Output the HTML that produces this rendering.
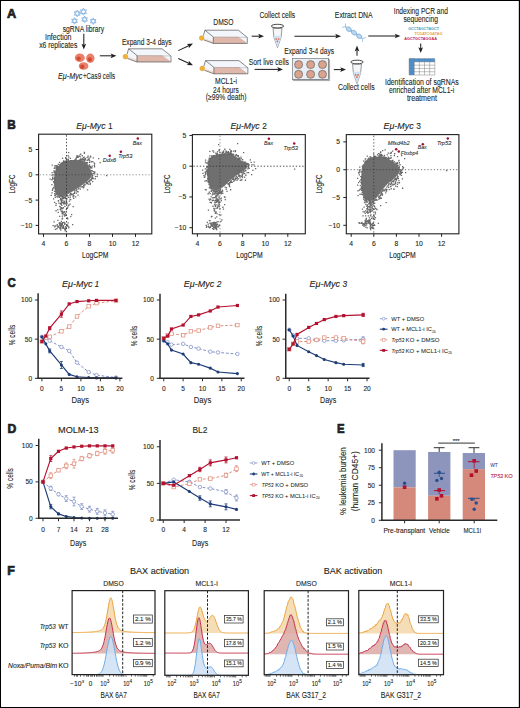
<!DOCTYPE html>
<html><head><meta charset="utf-8"><style>
html,body{margin:0;padding:0;background:#fff;}
svg{display:block;}
text{font-family:"Liberation Sans",sans-serif;}
</style></head><body>
<svg width="520" height="708" viewBox="0 0 520 708">
<rect width="520" height="708" fill="#fff"/>
<g fill="#231f20" font-family="Liberation Sans, sans-serif">
<rect x="0.5" y="0.5" width="519" height="707" fill="none" stroke="#000" stroke-width="1"/>
<rect x="518.7" y="0" width="0.3" height="708" fill="#000" fill-opacity="0.6"/>
<text x="7.00" y="17.60" font-size="12.2" font-weight="bold" textLength="9.20" lengthAdjust="spacingAndGlyphs" stroke="#231f20" stroke-width="0.7">A</text>
<path d="M77.20,10.10 L80.14,15.20 L74.26,15.20 ZM80.14,11.80 L77.20,16.90 L74.26,11.80 Z" fill="none" stroke="#74a9dd" stroke-width="0.7" />
<path d="M83.40,8.10 L86.52,13.50 L80.28,13.50 ZM86.52,9.90 L83.40,15.30 L80.28,9.90 Z" fill="none" stroke="#74a9dd" stroke-width="0.7" />
<path d="M74.50,17.60 L77.36,22.55 L71.64,22.55 ZM77.36,19.25 L74.50,24.20 L71.64,19.25 Z" fill="none" stroke="#74a9dd" stroke-width="0.7" />
<path d="M84.60,16.10 L87.46,21.05 L81.74,21.05 ZM87.46,17.75 L84.60,22.70 L81.74,17.75 Z" fill="none" stroke="#74a9dd" stroke-width="0.7" />
<path d="M93.20,17.90 L96.06,22.85 L90.34,22.85 ZM96.06,19.55 L93.20,24.50 L90.34,19.55 Z" fill="none" stroke="#74a9dd" stroke-width="0.7" />
<text x="62.70" y="31.70" font-size="8.3" textLength="41.50" lengthAdjust="spacingAndGlyphs" stroke="#231f20" stroke-width="0.1">sgRNA library</text>
<text x="45.00" y="39.80" font-size="8.3" textLength="26.50" lengthAdjust="spacingAndGlyphs" stroke="#231f20" stroke-width="0.1">Infection</text>
<text x="39.20" y="47.70" font-size="8.3" textLength="38.10" lengthAdjust="spacingAndGlyphs" stroke="#231f20" stroke-width="0.1">x6 replicates</text>
<line x1="83.80" y1="33.80" x2="83.80" y2="45.30" stroke="#231f20" stroke-width="1.05" />
<path d="M83.80,49.50 L81.45,43.70 L83.80,45.00 L86.15,43.70 Z" fill="#231f20" stroke="none" stroke-width="1" />
<ellipse cx="79.8" cy="57.7" rx="5.0" ry="4.3" fill="#e8806a"/>
<circle cx="78.6" cy="58.6" r="2.2" fill="#d44c36"/>
<ellipse cx="90.3" cy="58.2" rx="4.2" ry="4.7" fill="#e8806a"/>
<circle cx="89.8" cy="59.4" r="2.2" fill="#d44c36"/>
<ellipse cx="83.6" cy="66.0" rx="4.8" ry="3.8" fill="#e8806a"/>
<circle cx="82.2" cy="66.8" r="2.2" fill="#d44c36"/>
<line x1="99.80" y1="55.80" x2="112.20" y2="55.80" stroke="#231f20" stroke-width="1.05" />
<path d="M116.40,55.80 L110.60,58.15 L111.90,55.80 L110.60,53.45 Z" fill="#231f20" stroke="none" stroke-width="1" />
<text x="58.00" y="78.50" font-size="8.3" font-style="italic" textLength="24.50" lengthAdjust="spacingAndGlyphs" stroke="#231f20" stroke-width="0.1">Eμ-Myc</text>
<text x="83.00" y="78.50" font-size="8.3" textLength="32.20" lengthAdjust="spacingAndGlyphs" stroke="#231f20" stroke-width="0.1">+Cas9 cells</text>
<text x="121.90" y="44.60" font-size="8.3" textLength="49.80" lengthAdjust="spacingAndGlyphs" stroke="#231f20" stroke-width="0.1">Expand 3-4 days</text>
<path d="M128.60,48.80 L162.00,48.80 L171.00,56.00 L171.00,62.00 L137.00,62.00 L127.50,58.50 L127.00,54.20 Z" fill="#f3f6fb" stroke="none" stroke-width="1" />
<path d="M137.00,55.50 L162.00,55.30 L169.50,60.60 L169.50,62.00 L137.00,62.00 Z" fill="#dfb8ab" stroke="none" stroke-width="1" />
<path d="M129.40,57.30 L137.00,59.70 L137.00,62.00 L127.50,58.50 Z" fill="#efdcd5" stroke="none" stroke-width="1" />
<path d="M127.00,54.20 L128.60,48.80 L162.00,48.80 L171.00,56.00 L171.00,62.00 L137.00,62.00 L127.50,58.50" fill="none" stroke="#3c3c3c" stroke-width="0.6" />
<path d="M128.60,48.80 L137.00,55.50 L137.00,62.00" fill="none" stroke="#3c3c3c" stroke-width="0.6" />
<path d="M137.00,55.50 L171.00,56.00" fill="none" stroke="#8a8a8a" stroke-width="0.4" />
<circle cx="125.40" cy="56.70" r="2.4" fill="#f2b233" stroke="#c88a1a" stroke-width="0.4"/>
<line x1="178.30" y1="50.60" x2="189.21" y2="45.41" stroke="#231f20" stroke-width="1.05" />
<path d="M193.00,43.60 L188.77,48.22 L188.94,45.53 L186.75,43.97 Z" fill="#231f20" stroke="none" stroke-width="1" />
<line x1="178.30" y1="58.40" x2="189.20" y2="63.52" stroke="#231f20" stroke-width="1.05" />
<path d="M193.00,65.30 L186.75,64.96 L188.93,63.39 L188.75,60.71 Z" fill="#231f20" stroke="none" stroke-width="1" />
<text x="213.30" y="24.60" font-size="8.3" textLength="20.20" lengthAdjust="spacingAndGlyphs" stroke="#231f20" stroke-width="0.1">DMSO</text>
<path d="M204.90,30.20 L238.30,30.20 L247.30,37.40 L247.30,43.40 L213.30,43.40 L203.80,39.90 L203.30,35.60 Z" fill="#f3f6fb" stroke="none" stroke-width="1" />
<path d="M213.30,36.90 L238.30,36.70 L245.80,42.00 L245.80,43.40 L213.30,43.40 Z" fill="#dfb8ab" stroke="none" stroke-width="1" />
<path d="M205.70,38.70 L213.30,41.10 L213.30,43.40 L203.80,39.90 Z" fill="#efdcd5" stroke="none" stroke-width="1" />
<path d="M203.30,35.60 L204.90,30.20 L238.30,30.20 L247.30,37.40 L247.30,43.40 L213.30,43.40 L203.80,39.90" fill="none" stroke="#3c3c3c" stroke-width="0.6" />
<path d="M204.90,30.20 L213.30,36.90 L213.30,43.40" fill="none" stroke="#3c3c3c" stroke-width="0.6" />
<path d="M213.30,36.90 L247.30,37.40" fill="none" stroke="#8a8a8a" stroke-width="0.4" />
<circle cx="201.70" cy="38.10" r="2.4" fill="#f2b233" stroke="#c88a1a" stroke-width="0.4"/>
<text x="215.00" y="84.40" font-size="8.3" textLength="22.00" lengthAdjust="spacingAndGlyphs" stroke="#231f20" stroke-width="0.1">MCL1-i</text>
<text x="213.00" y="92.50" font-size="8.3" textLength="25.80" lengthAdjust="spacingAndGlyphs" stroke="#231f20" stroke-width="0.1">24 hours</text>
<text x="205.80" y="100.20" font-size="8.3" textLength="40.70" lengthAdjust="spacingAndGlyphs" stroke="#231f20" stroke-width="0.1">(≥99% death)</text>
<path d="M205.50,60.60 L238.90,60.60 L247.90,67.80 L247.90,73.80 L213.90,73.80 L204.40,70.30 L203.90,66.00 Z" fill="#f3f6fb" stroke="none" stroke-width="1" />
<path d="M213.90,67.30 L238.90,67.10 L246.40,72.40 L246.40,73.80 L213.90,73.80 Z" fill="#dfb8ab" stroke="none" stroke-width="1" />
<path d="M206.30,69.10 L213.90,71.50 L213.90,73.80 L204.40,70.30 Z" fill="#efdcd5" stroke="none" stroke-width="1" />
<path d="M203.90,66.00 L205.50,60.60 L238.90,60.60 L247.90,67.80 L247.90,73.80 L213.90,73.80 L204.40,70.30" fill="none" stroke="#3c3c3c" stroke-width="0.6" />
<path d="M205.50,60.60 L213.90,67.30 L213.90,73.80" fill="none" stroke="#3c3c3c" stroke-width="0.6" />
<path d="M213.90,67.30 L247.90,67.80" fill="none" stroke="#8a8a8a" stroke-width="0.4" />
<circle cx="202.30" cy="68.50" r="2.4" fill="#f2b233" stroke="#c88a1a" stroke-width="0.4"/>
<line x1="251.70" y1="36.20" x2="259.80" y2="36.20" stroke="#231f20" stroke-width="1.05" />
<path d="M264.00,36.20 L258.20,38.55 L259.50,36.20 L258.20,33.85 Z" fill="#231f20" stroke="none" stroke-width="1" />
<text x="248.80" y="64.60" font-size="8.3" textLength="40.00" lengthAdjust="spacingAndGlyphs" stroke="#231f20" stroke-width="0.1">Sort live cells</text>
<line x1="254.60" y1="69.40" x2="278.80" y2="69.40" stroke="#231f20" stroke-width="1.05" />
<path d="M283.00,69.40 L277.20,71.75 L278.50,69.40 L277.20,67.05 Z" fill="#231f20" stroke="none" stroke-width="1" />
<text x="259.40" y="17.60" font-size="8.3" textLength="35.80" lengthAdjust="spacingAndGlyphs" stroke="#231f20" stroke-width="0.1">Collect cells</text>
<path d="M273.00,28.30 L273.90,37.10 L277.50,47.60 L281.10,37.10 L282.00,28.30 Z" fill="#f4f6f8" stroke="#555" stroke-width="0.6" />
<path d="M273.70,35.80 L273.90,37.10 L277.50,47.40 L281.10,37.10 L281.30,35.80 Z" fill="#cfe3f6" stroke="none" stroke-width="1" />
<ellipse cx="277.50" cy="26.10" rx="6.2" ry="1.8" fill="#fff" stroke="#333" stroke-width="0.9"/>
<circle cx="276.10" cy="39.00" r="0.85" fill="#e8603c"/>
<circle cx="278.60" cy="39.00" r="0.85" fill="#e8603c"/>
<circle cx="277.40" cy="41.30" r="0.85" fill="#e8603c"/>
<line x1="294.40" y1="36.20" x2="336.80" y2="36.20" stroke="#231f20" stroke-width="1.05" />
<path d="M341.00,36.20 L335.20,38.55 L336.50,36.20 L335.20,33.85 Z" fill="#231f20" stroke="none" stroke-width="1" />
<text x="284.20" y="54.20" font-size="8.3" textLength="50.00" lengthAdjust="spacingAndGlyphs" stroke="#231f20" stroke-width="0.1">Expand 3-4 days</text>
<path d="M293.3,80.6 L329.6,80.6 L329.6,60.0 L328.3,58.4 L328.3,79.3 L292.4,79.3 Z" fill="#c9d3de" stroke="#666" stroke-width="0.5" />
<rect x="292.4" y="58.4" width="35.9" height="20.9" fill="#e8eef5" stroke="#666" stroke-width="0.6"/>
<circle cx="298.6" cy="64.6" r="4.0" fill="#d9a48d" stroke="#555" stroke-width="0.6"/>
<circle cx="298.6" cy="74.3" r="4.0" fill="#d9a48d" stroke="#555" stroke-width="0.6"/>
<circle cx="310.6" cy="64.6" r="4.0" fill="#d9a48d" stroke="#555" stroke-width="0.6"/>
<circle cx="310.6" cy="74.3" r="4.0" fill="#d9a48d" stroke="#555" stroke-width="0.6"/>
<circle cx="322.5" cy="64.6" r="4.0" fill="#d9a48d" stroke="#555" stroke-width="0.6"/>
<circle cx="322.5" cy="74.3" r="4.0" fill="#d9a48d" stroke="#555" stroke-width="0.6"/>
<line x1="333.80" y1="69.60" x2="341.80" y2="69.60" stroke="#231f20" stroke-width="1.05" />
<path d="M346.00,69.60 L340.20,71.95 L341.50,69.60 L340.20,67.25 Z" fill="#231f20" stroke="none" stroke-width="1" />
<path d="M352.50,64.20 L353.40,73.00 L357.00,83.50 L360.60,73.00 L361.50,64.20 Z" fill="#f4f6f8" stroke="#555" stroke-width="0.6" />
<path d="M353.20,71.70 L353.40,73.00 L357.00,83.30 L360.60,73.00 L360.80,71.70 Z" fill="#cfe3f6" stroke="none" stroke-width="1" />
<ellipse cx="357.00" cy="62.00" rx="6.2" ry="1.8" fill="#fff" stroke="#333" stroke-width="0.9"/>
<circle cx="355.60" cy="74.90" r="0.85" fill="#e8603c"/>
<circle cx="358.10" cy="74.90" r="0.85" fill="#e8603c"/>
<circle cx="356.90" cy="77.20" r="0.85" fill="#e8603c"/>
<text x="338.00" y="90.00" font-size="8.3" textLength="36.60" lengthAdjust="spacingAndGlyphs" stroke="#231f20" stroke-width="0.1">Collect cells</text>
<line x1="357.00" y1="55.80" x2="357.00" y2="49.80" stroke="#231f20" stroke-width="1.05" />
<path d="M357.00,45.60 L359.35,51.40 L357.00,50.10 L354.65,51.40 Z" fill="#231f20" stroke="none" stroke-width="1" />
<text x="334.80" y="17.70" font-size="8.3" textLength="37.90" lengthAdjust="spacingAndGlyphs" stroke="#231f20" stroke-width="0.1">Extract DNA</text>
<path d="M-3.25,0 Q0,-4.4 3.25,0 Q0,4.4 -3.25,0 Z" transform="translate(348.8 29.2) rotate(34)" fill="#bcd6ef" stroke="#6ea6da" stroke-width="0.7"/>
<path d="M-3.25,0 Q0,-4.4 3.25,0 Q0,4.4 -3.25,0 Z" transform="translate(354.0 32.7) rotate(34)" fill="#bcd6ef" stroke="#6ea6da" stroke-width="0.7"/>
<path d="M-3.25,0 Q0,-4.4 3.25,0 Q0,4.4 -3.25,0 Z" transform="translate(359.2 36.3) rotate(34)" fill="#bcd6ef" stroke="#6ea6da" stroke-width="0.7"/>
<line x1="345.50" y1="23.50" x2="345.50" y2="27.50" stroke="#6ea6da" stroke-width="0.6" />
<line x1="342.00" y1="27.50" x2="346.00" y2="26.30" stroke="#6ea6da" stroke-width="0.6" />
<line x1="362.60" y1="38.30" x2="362.60" y2="42.00" stroke="#6ea6da" stroke-width="0.6" />
<line x1="362.30" y1="38.60" x2="366.00" y2="37.50" stroke="#6ea6da" stroke-width="0.6" />
<line x1="368.30" y1="36.00" x2="396.30" y2="36.00" stroke="#231f20" stroke-width="1.05" />
<path d="M400.50,36.00 L394.70,38.35 L396.00,36.00 L394.70,33.65 Z" fill="#231f20" stroke="none" stroke-width="1" />
<text x="393.80" y="13.80" font-size="8.3" textLength="54.20" lengthAdjust="spacingAndGlyphs" stroke="#231f20" stroke-width="0.1">Indexing PCR and</text>
<text x="403.50" y="21.90" font-size="8.3" textLength="34.50" lengthAdjust="spacingAndGlyphs" stroke="#231f20" stroke-width="0.1">sequencing</text>
<text x="408.20" y="30.40" font-size="4.3" font-weight="bold" fill="#4c9bb6" textLength="30.70" lengthAdjust="spacingAndGlyphs">GCCTAGCTAGCT</text>
<text x="414.40" y="35.30" font-size="4.3" font-weight="bold" fill="#e8a133" textLength="27.90" lengthAdjust="spacingAndGlyphs">TCGATCGATAG</text>
<text x="404.30" y="40.30" font-size="4.3" font-weight="bold" fill="#c2215b" textLength="32.70" lengthAdjust="spacingAndGlyphs">AGCTGCTAGGAA</text>
<line x1="420.70" y1="43.60" x2="420.70" y2="48.80" stroke="#231f20" stroke-width="1.05" />
<path d="M420.70,53.00 L418.35,47.20 L420.70,48.50 L423.05,47.20 Z" fill="#231f20" stroke="none" stroke-width="1" />
<rect x="409.1" y="58.6" width="25.7" height="16.4" fill="#fff"/>
<rect x="409.1" y="58.6" width="25.7" height="3.28" fill="#4a90d3"/>
<rect x="409.1" y="58.6" width="5.14" height="16.4" fill="#4a90d3"/>
<line x1="409.10" y1="58.60" x2="409.10" y2="75.00" stroke="#777" stroke-width="0.45" />
<line x1="414.24" y1="58.60" x2="414.24" y2="75.00" stroke="#777" stroke-width="0.45" />
<line x1="419.38" y1="58.60" x2="419.38" y2="75.00" stroke="#777" stroke-width="0.45" />
<line x1="424.52" y1="58.60" x2="424.52" y2="75.00" stroke="#777" stroke-width="0.45" />
<line x1="429.66" y1="58.60" x2="429.66" y2="75.00" stroke="#777" stroke-width="0.45" />
<line x1="434.80" y1="58.60" x2="434.80" y2="75.00" stroke="#777" stroke-width="0.45" />
<line x1="409.10" y1="58.60" x2="434.80" y2="58.60" stroke="#777" stroke-width="0.45" />
<line x1="409.10" y1="61.88" x2="434.80" y2="61.88" stroke="#777" stroke-width="0.45" />
<line x1="409.10" y1="65.16" x2="434.80" y2="65.16" stroke="#777" stroke-width="0.45" />
<line x1="409.10" y1="68.44" x2="434.80" y2="68.44" stroke="#777" stroke-width="0.45" />
<line x1="409.10" y1="71.72" x2="434.80" y2="71.72" stroke="#777" stroke-width="0.45" />
<line x1="409.10" y1="75.00" x2="434.80" y2="75.00" stroke="#777" stroke-width="0.45" />
<text x="385.00" y="84.50" font-size="8.3" textLength="73.80" lengthAdjust="spacingAndGlyphs" stroke="#231f20" stroke-width="0.1">Identification of sgRNAs</text>
<text x="388.90" y="92.60" font-size="8.3" textLength="65.30" lengthAdjust="spacingAndGlyphs" stroke="#231f20" stroke-width="0.1">enriched after MCL1-i</text>
<text x="406.90" y="100.70" font-size="8.3" textLength="30.00" lengthAdjust="spacingAndGlyphs" stroke="#231f20" stroke-width="0.1">treatment</text>
<text x="7.30" y="128.80" font-size="12.2" font-weight="bold" textLength="8.50" lengthAdjust="spacingAndGlyphs" stroke="#231f20" stroke-width="0.7">B</text>
<path d="M56.10,169.50 L58.80,165.80 L62.00,163.10 L66.30,161.50 L71.70,160.60 L76.50,160.40 L80.50,160.60 L84.00,162.00 L86.80,164.60 L89.60,168.20 L91.60,173.30 L90.50,177.60 L86.80,181.40 L81.40,185.20 L76.00,188.90 L70.60,192.20 L65.20,195.40 L59.80,197.00 L56.10,194.30 L55.00,188.90 L54.50,180.30 L55.00,173.80 Z" fill="#6f6f6f" stroke="#6f6f6f" stroke-width="0.8" />
<path d="M64.4,161.7h1.3v1.3h-1.3zM51.3,179.1h1.3v1.3h-1.3zM69.8,157.8h1.3v1.3h-1.3zM69.3,194.6h1.3v1.3h-1.3zM62.7,161.4h1.3v1.3h-1.3zM75.4,157.5h1.3v1.3h-1.3zM67.7,196.8h1.3v1.3h-1.3zM53.6,185.2h1.3v1.3h-1.3zM65.2,157.0h1.3v1.3h-1.3zM75.8,192.5h1.3v1.3h-1.3zM82.9,158.7h1.3v1.3h-1.3zM83.2,185.3h1.3v1.3h-1.3zM68.1,156.4h1.3v1.3h-1.3zM91.7,173.3h1.3v1.3h-1.3zM80.1,158.2h1.3v1.3h-1.3zM92.6,178.0h1.3v1.3h-1.3zM63.3,161.2h1.3v1.3h-1.3zM63.4,160.6h1.3v1.3h-1.3zM79.7,188.4h1.3v1.3h-1.3zM91.9,177.5h1.3v1.3h-1.3zM93.9,165.4h1.3v1.3h-1.3zM88.8,165.6h1.3v1.3h-1.3zM92.6,170.9h1.3v1.3h-1.3zM58.3,166.4h1.3v1.3h-1.3zM62.9,160.2h1.3v1.3h-1.3zM66.6,161.3h1.3v1.3h-1.3zM75.4,157.5h1.3v1.3h-1.3zM79.9,158.8h1.3v1.3h-1.3zM69.3,194.3h1.3v1.3h-1.3zM91.8,176.8h1.3v1.3h-1.3zM54.3,183.5h1.3v1.3h-1.3zM54.2,180.2h1.3v1.3h-1.3zM53.7,171.8h1.3v1.3h-1.3zM51.4,192.3h1.3v1.3h-1.3zM86.9,189.2h1.3v1.3h-1.3zM69.9,192.7h1.3v1.3h-1.3zM64.5,197.2h1.3v1.3h-1.3zM94.1,171.2h1.3v1.3h-1.3zM64.5,161.9h1.3v1.3h-1.3zM56.2,166.4h1.3v1.3h-1.3zM79.8,159.6h1.3v1.3h-1.3zM79.3,159.2h1.3v1.3h-1.3zM54.6,194.9h1.3v1.3h-1.3zM90.3,167.4h1.3v1.3h-1.3zM75.0,196.3h1.3v1.3h-1.3zM92.0,180.9h1.3v1.3h-1.3zM58.9,161.8h1.3v1.3h-1.3zM55.6,193.2h1.3v1.3h-1.3zM93.4,171.3h1.3v1.3h-1.3zM78.3,187.3h1.3v1.3h-1.3zM57.8,163.7h1.3v1.3h-1.3zM91.0,178.0h1.3v1.3h-1.3zM77.5,191.2h1.3v1.3h-1.3zM54.6,177.8h1.3v1.3h-1.3zM55.5,165.2h1.3v1.3h-1.3zM65.2,161.2h1.3v1.3h-1.3zM89.4,180.0h1.3v1.3h-1.3zM91.3,167.3h1.3v1.3h-1.3zM54.5,174.1h1.3v1.3h-1.3zM76.6,190.7h1.3v1.3h-1.3zM80.3,160.3h1.3v1.3h-1.3zM84.8,161.9h1.3v1.3h-1.3zM73.9,190.3h1.3v1.3h-1.3zM54.7,196.7h1.3v1.3h-1.3zM86.1,182.9h1.3v1.3h-1.3zM90.2,178.7h1.3v1.3h-1.3zM69.4,198.7h1.3v1.3h-1.3zM74.3,159.2h1.3v1.3h-1.3zM92.1,174.9h1.3v1.3h-1.3zM88.1,157.4h1.3v1.3h-1.3zM56.8,167.4h1.3v1.3h-1.3zM63.7,196.9h1.3v1.3h-1.3zM76.1,160.0h1.3v1.3h-1.3zM58.9,196.8h1.3v1.3h-1.3zM67.6,158.6h1.3v1.3h-1.3zM83.5,156.4h1.3v1.3h-1.3zM54.0,192.9h1.3v1.3h-1.3zM63.2,197.4h1.3v1.3h-1.3zM70.5,159.9h1.3v1.3h-1.3zM53.8,178.2h1.3v1.3h-1.3zM66.6,194.8h1.3v1.3h-1.3zM56.2,169.0h1.3v1.3h-1.3zM52.4,187.8h1.3v1.3h-1.3zM56.6,168.8h1.3v1.3h-1.3zM68.0,160.0h1.3v1.3h-1.3zM90.8,166.7h1.3v1.3h-1.3zM54.0,179.3h1.3v1.3h-1.3zM52.4,174.2h1.3v1.3h-1.3zM89.7,182.7h1.3v1.3h-1.3zM65.3,161.7h1.3v1.3h-1.3zM65.6,161.0h1.3v1.3h-1.3zM91.3,176.4h1.3v1.3h-1.3zM69.5,196.6h1.3v1.3h-1.3zM65.3,161.0h1.3v1.3h-1.3zM51.3,174.5h1.3v1.3h-1.3zM54.0,201.8h1.3v1.3h-1.3zM64.0,197.1h1.3v1.3h-1.3zM61.9,163.0h1.3v1.3h-1.3zM55.5,202.9h1.3v1.3h-1.3zM60.3,164.0h1.3v1.3h-1.3zM64.0,201.6h1.3v1.3h-1.3zM88.4,166.0h1.3v1.3h-1.3zM56.1,166.6h1.3v1.3h-1.3zM54.3,165.1h1.3v1.3h-1.3zM55.6,170.6h1.3v1.3h-1.3zM96.6,173.4h1.3v1.3h-1.3zM54.1,194.7h1.3v1.3h-1.3zM75.0,158.7h1.3v1.3h-1.3zM59.7,199.3h1.3v1.3h-1.3zM91.4,177.7h1.3v1.3h-1.3zM54.3,177.1h1.3v1.3h-1.3zM73.1,197.7h1.3v1.3h-1.3zM56.0,167.2h1.3v1.3h-1.3zM62.8,197.7h1.3v1.3h-1.3zM65.4,161.2h1.3v1.3h-1.3zM89.7,165.7h1.3v1.3h-1.3zM65.9,195.4h1.3v1.3h-1.3zM70.8,193.7h1.3v1.3h-1.3zM90.8,179.4h1.3v1.3h-1.3zM62.1,162.3h1.3v1.3h-1.3zM54.9,188.6h1.3v1.3h-1.3zM55.3,167.8h1.3v1.3h-1.3zM88.2,180.5h1.3v1.3h-1.3zM52.0,177.6h1.3v1.3h-1.3zM51.6,164.4h1.3v1.3h-1.3zM71.9,194.3h1.3v1.3h-1.3zM53.8,181.8h1.3v1.3h-1.3zM93.0,173.0h1.3v1.3h-1.3zM51.8,189.6h1.3v1.3h-1.3zM61.4,161.9h1.3v1.3h-1.3zM71.0,160.3h1.3v1.3h-1.3zM77.9,188.2h1.3v1.3h-1.3zM66.2,161.3h1.3v1.3h-1.3zM74.2,159.8h1.3v1.3h-1.3zM59.5,163.8h1.3v1.3h-1.3zM89.6,165.8h1.3v1.3h-1.3zM70.0,160.0h1.3v1.3h-1.3zM83.4,159.0h1.3v1.3h-1.3zM56.9,196.4h1.3v1.3h-1.3zM76.1,189.0h1.3v1.3h-1.3zM73.7,160.1h1.3v1.3h-1.3zM59.4,164.8h1.3v1.3h-1.3zM61.9,157.8h1.3v1.3h-1.3zM53.8,185.2h1.3v1.3h-1.3zM51.2,184.0h1.3v1.3h-1.3zM86.6,159.6h1.3v1.3h-1.3zM78.9,159.5h1.3v1.3h-1.3zM65.1,160.4h1.3v1.3h-1.3zM90.5,170.0h1.3v1.3h-1.3zM67.2,195.2h1.3v1.3h-1.3zM81.7,186.1h1.3v1.3h-1.3zM53.4,170.3h1.3v1.3h-1.3zM87.6,165.4h1.3v1.3h-1.3zM94.9,175.9h1.3v1.3h-1.3zM56.5,165.0h1.3v1.3h-1.3zM83.3,185.0h1.3v1.3h-1.3zM62.0,199.3h1.3v1.3h-1.3zM53.6,167.8h1.3v1.3h-1.3zM91.3,175.9h1.3v1.3h-1.3zM85.9,183.0h1.3v1.3h-1.3zM77.4,194.5h1.3v1.3h-1.3zM53.9,190.7h1.3v1.3h-1.3zM56.1,169.2h1.3v1.3h-1.3zM53.0,198.3h1.3v1.3h-1.3zM54.7,187.7h1.3v1.3h-1.3zM96.5,175.7h1.3v1.3h-1.3zM51.5,171.9h1.3v1.3h-1.3zM73.5,160.3h1.3v1.3h-1.3zM66.3,198.3h1.3v1.3h-1.3zM86.8,182.2h1.3v1.3h-1.3zM92.6,170.9h1.3v1.3h-1.3zM65.0,157.6h1.3v1.3h-1.3zM79.1,160.3h1.3v1.3h-1.3zM79.2,160.5h1.3v1.3h-1.3zM62.8,196.3h1.3v1.3h-1.3zM73.2,195.1h1.3v1.3h-1.3zM86.2,182.1h1.3v1.3h-1.3zM75.5,190.0h1.3v1.3h-1.3zM52.7,178.2h1.3v1.3h-1.3zM84.0,159.9h1.3v1.3h-1.3zM80.1,186.3h1.3v1.3h-1.3zM54.8,187.0h1.3v1.3h-1.3zM54.5,179.8h1.3v1.3h-1.3zM55.2,194.3h1.3v1.3h-1.3zM57.1,167.0h1.3v1.3h-1.3zM64.7,195.7h1.3v1.3h-1.3zM94.1,172.4h1.3v1.3h-1.3zM70.4,192.9h1.3v1.3h-1.3zM52.2,176.4h1.3v1.3h-1.3zM86.8,182.9h1.3v1.3h-1.3zM87.8,183.5h1.3v1.3h-1.3zM82.7,187.1h1.3v1.3h-1.3zM71.4,194.0h1.3v1.3h-1.3zM53.0,186.9h1.3v1.3h-1.3zM91.4,174.3h1.3v1.3h-1.3zM54.7,173.1h1.3v1.3h-1.3zM62.4,196.4h1.3v1.3h-1.3zM54.6,185.3h1.3v1.3h-1.3zM66.4,159.6h1.3v1.3h-1.3zM59.9,163.4h1.3v1.3h-1.3zM53.4,170.7h1.3v1.3h-1.3zM85.8,182.2h1.3v1.3h-1.3zM54.2,172.2h1.3v1.3h-1.3zM57.3,166.6h1.3v1.3h-1.3zM84.2,183.8h1.3v1.3h-1.3zM68.8,200.4h1.3v1.3h-1.3zM54.6,174.7h1.3v1.3h-1.3zM85.7,182.2h1.3v1.3h-1.3zM89.6,166.1h1.3v1.3h-1.3zM70.1,193.9h1.3v1.3h-1.3zM78.3,159.8h1.3v1.3h-1.3zM86.9,162.0h1.3v1.3h-1.3zM88.9,181.1h1.3v1.3h-1.3zM50.6,194.8h1.3v1.3h-1.3zM64.2,160.9h1.3v1.3h-1.3zM68.3,160.6h1.3v1.3h-1.3zM54.3,166.8h1.3v1.3h-1.3zM91.5,170.1h1.3v1.3h-1.3zM54.6,171.2h1.3v1.3h-1.3zM57.1,167.6h1.3v1.3h-1.3zM83.3,186.1h1.3v1.3h-1.3zM65.6,161.4h1.3v1.3h-1.3zM83.5,160.8h1.3v1.3h-1.3zM52.2,188.2h1.3v1.3h-1.3zM89.2,179.5h1.3v1.3h-1.3zM74.0,191.7h1.3v1.3h-1.3zM84.4,184.3h1.3v1.3h-1.3zM49.5,178.4h1.3v1.3h-1.3zM86.3,162.8h1.3v1.3h-1.3zM58.3,196.2h1.3v1.3h-1.3zM56.8,166.2h1.3v1.3h-1.3zM80.7,158.7h1.3v1.3h-1.3zM72.7,193.1h1.3v1.3h-1.3zM62.0,197.8h1.3v1.3h-1.3zM92.3,177.6h1.3v1.3h-1.3zM56.6,166.1h1.3v1.3h-1.3zM73.9,192.6h1.3v1.3h-1.3zM62.2,202.3h1.3v1.3h-1.3zM91.6,165.5h1.3v1.3h-1.3zM82.4,160.2h1.3v1.3h-1.3zM87.6,181.0h1.3v1.3h-1.3zM94.5,178.1h1.3v1.3h-1.3zM89.5,183.7h1.3v1.3h-1.3zM53.7,182.4h1.3v1.3h-1.3zM64.8,161.7h1.3v1.3h-1.3zM83.0,184.6h1.3v1.3h-1.3zM56.3,196.0h1.3v1.3h-1.3zM89.7,166.8h1.3v1.3h-1.3zM53.6,171.9h1.3v1.3h-1.3zM80.3,186.2h1.3v1.3h-1.3zM60.6,163.3h1.3v1.3h-1.3zM88.7,164.3h1.3v1.3h-1.3zM72.9,159.9h1.3v1.3h-1.3zM76.2,155.2h1.3v1.3h-1.3zM72.5,196.1h1.3v1.3h-1.3zM55.1,191.0h1.3v1.3h-1.3zM65.9,159.1h1.3v1.3h-1.3zM54.0,179.7h1.3v1.3h-1.3zM52.9,181.1h1.3v1.3h-1.3zM59.9,197.9h1.3v1.3h-1.3zM65.8,198.5h1.3v1.3h-1.3zM61.5,208.0h1.3v1.3h-1.3zM69.4,203.5h1.3v1.3h-1.3zM60.9,201.6h1.3v1.3h-1.3zM58.3,202.4h1.3v1.3h-1.3zM60.7,200.1h1.3v1.3h-1.3zM65.8,200.0h1.3v1.3h-1.3zM67.3,206.3h1.3v1.3h-1.3zM64.0,200.7h1.3v1.3h-1.3zM60.5,195.3h1.3v1.3h-1.3zM62.9,202.0h1.3v1.3h-1.3zM63.3,200.4h1.3v1.3h-1.3zM63.6,197.2h1.3v1.3h-1.3zM55.3,204.8h1.3v1.3h-1.3zM65.4,190.8h1.3v1.3h-1.3zM66.0,201.7h1.3v1.3h-1.3zM61.5,197.1h1.3v1.3h-1.3zM59.0,205.8h1.3v1.3h-1.3zM59.8,202.9h1.3v1.3h-1.3zM61.6,210.7h1.3v1.3h-1.3zM64.8,197.9h1.3v1.3h-1.3zM60.6,198.6h1.3v1.3h-1.3zM57.8,200.4h1.3v1.3h-1.3zM65.5,203.2h1.3v1.3h-1.3zM64.1,202.5h1.3v1.3h-1.3zM60.7,203.3h1.3v1.3h-1.3zM61.8,210.5h1.3v1.3h-1.3zM67.6,204.5h1.3v1.3h-1.3zM63.9,195.3h1.3v1.3h-1.3zM61.7,212.3h1.3v1.3h-1.3zM59.6,206.2h1.3v1.3h-1.3zM65.8,201.5h1.3v1.3h-1.3zM61.3,201.2h1.3v1.3h-1.3zM64.5,203.1h1.3v1.3h-1.3zM66.7,207.6h1.3v1.3h-1.3zM62.0,213.1h1.3v1.3h-1.3zM61.1,200.6h1.3v1.3h-1.3zM61.3,199.6h1.3v1.3h-1.3zM60.7,202.7h1.3v1.3h-1.3zM64.8,196.9h1.3v1.3h-1.3zM57.7,200.0h1.3v1.3h-1.3zM61.1,204.8h1.3v1.3h-1.3zM59.6,208.8h1.3v1.3h-1.3zM60.4,202.2h1.3v1.3h-1.3zM62.2,207.5h1.3v1.3h-1.3zM63.0,203.1h1.3v1.3h-1.3zM60.4,203.7h1.3v1.3h-1.3zM63.3,201.7h1.3v1.3h-1.3zM62.0,195.9h1.3v1.3h-1.3zM60.4,207.6h1.3v1.3h-1.3zM66.4,202.7h1.3v1.3h-1.3zM55.4,210.1h1.3v1.3h-1.3zM61.5,213.0h1.3v1.3h-1.3zM60.8,206.9h1.3v1.3h-1.3zM60.1,208.3h1.3v1.3h-1.3zM65.8,208.9h1.3v1.3h-1.3zM66.3,224.1h1.3v1.3h-1.3zM61.3,208.3h1.3v1.3h-1.3zM62.9,211.5h1.3v1.3h-1.3zM57.1,208.9h1.3v1.3h-1.3zM62.8,207.1h1.3v1.3h-1.3zM65.6,214.7h1.3v1.3h-1.3zM61.5,218.4h1.3v1.3h-1.3zM59.0,215.7h1.3v1.3h-1.3zM57.6,211.7h1.3v1.3h-1.3zM64.1,210.9h1.3v1.3h-1.3zM61.7,215.5h1.3v1.3h-1.3zM67.0,218.1h1.3v1.3h-1.3zM63.5,212.0h1.3v1.3h-1.3zM57.3,219.7h1.3v1.3h-1.3zM68.2,204.6h1.3v1.3h-1.3zM64.9,212.8h1.3v1.3h-1.3zM64.4,214.2h1.3v1.3h-1.3zM61.4,213.0h1.3v1.3h-1.3zM61.9,217.5h1.3v1.3h-1.3zM61.2,210.9h1.3v1.3h-1.3zM64.2,215.5h1.3v1.3h-1.3zM63.5,214.1h1.3v1.3h-1.3zM66.9,217.3h1.3v1.3h-1.3zM62.7,212.2h1.3v1.3h-1.3zM64.2,205.7h1.3v1.3h-1.3zM60.3,210.3h1.3v1.3h-1.3zM62.6,211.5h1.3v1.3h-1.3zM70.1,215.9h1.3v1.3h-1.3zM63.4,221.7h1.3v1.3h-1.3zM60.5,224.8h1.3v1.3h-1.3zM65.3,227.4h1.3v1.3h-1.3zM64.1,228.2h1.3v1.3h-1.3zM59.1,224.0h1.3v1.3h-1.3zM57.8,225.7h1.3v1.3h-1.3zM64.4,223.2h1.3v1.3h-1.3zM58.5,222.5h1.3v1.3h-1.3zM68.2,227.3h1.3v1.3h-1.3zM61.4,222.8h1.3v1.3h-1.3zM56.6,224.1h1.3v1.3h-1.3zM60.7,222.7h1.3v1.3h-1.3zM59.7,228.2h1.3v1.3h-1.3zM60.6,225.7h1.3v1.3h-1.3zM52.5,224.9h1.3v1.3h-1.3zM60.0,224.0h1.3v1.3h-1.3zM55.2,225.3h1.3v1.3h-1.3zM56.6,224.3h1.3v1.3h-1.3zM54.4,225.3h1.3v1.3h-1.3zM64.0,223.6h1.3v1.3h-1.3zM61.8,222.1h1.3v1.3h-1.3zM62.8,226.7h1.3v1.3h-1.3zM59.0,227.5h1.3v1.3h-1.3zM57.2,225.6h1.3v1.3h-1.3zM67.0,225.4h1.3v1.3h-1.3zM56.2,228.1h1.3v1.3h-1.3zM62.6,224.9h1.3v1.3h-1.3zM53.5,221.3h1.3v1.3h-1.3zM54.7,228.8h1.3v1.3h-1.3zM61.7,223.6h1.3v1.3h-1.3zM65.0,228.8h1.3v1.3h-1.3zM57.3,226.6h1.3v1.3h-1.3zM54.2,226.3h1.3v1.3h-1.3zM67.5,222.3h1.3v1.3h-1.3zM60.8,224.1h1.3v1.3h-1.3zM60.2,225.7h1.3v1.3h-1.3zM61.6,227.5h1.3v1.3h-1.3zM62.5,227.8h1.3v1.3h-1.3zM64.4,228.0h1.3v1.3h-1.3zM57.9,226.4h1.3v1.3h-1.3zM59.1,223.6h1.3v1.3h-1.3zM68.1,226.2h1.3v1.3h-1.3zM60.7,220.8h1.3v1.3h-1.3zM59.6,227.2h1.3v1.3h-1.3zM59.8,224.3h1.3v1.3h-1.3zM66.2,224.8h1.3v1.3h-1.3zM59.3,225.3h1.3v1.3h-1.3zM59.6,227.9h1.3v1.3h-1.3zM62.7,225.3h1.3v1.3h-1.3zM59.2,225.0h1.3v1.3h-1.3zM67.0,224.8h1.3v1.3h-1.3zM63.0,222.0h1.3v1.3h-1.3zM61.8,227.0h1.3v1.3h-1.3zM65.4,226.2h1.3v1.3h-1.3zM62.8,226.2h1.3v1.3h-1.3zM64.6,230.1h1.3v1.3h-1.3zM61.3,223.7h1.3v1.3h-1.3zM62.8,225.3h1.3v1.3h-1.3zM63.0,227.2h1.3v1.3h-1.3zM61.1,224.5h1.3v1.3h-1.3zM61.7,222.7h1.3v1.3h-1.3zM61.6,223.5h1.3v1.3h-1.3zM62.3,225.8h1.3v1.3h-1.3zM59.7,222.8h1.3v1.3h-1.3zM60.7,224.0h1.3v1.3h-1.3zM60.0,227.1h1.3v1.3h-1.3zM64.2,222.6h1.3v1.3h-1.3zM64.1,228.6h1.3v1.3h-1.3zM64.9,226.1h1.3v1.3h-1.3zM60.2,229.4h1.3v1.3h-1.3zM59.3,222.1h1.3v1.3h-1.3zM84.4,157.7h1.3v1.3h-1.3zM79.6,154.0h1.3v1.3h-1.3zM92.6,157.3h1.3v1.3h-1.3zM87.4,155.6h1.3v1.3h-1.3zM77.5,156.6h1.3v1.3h-1.3zM89.8,155.4h1.3v1.3h-1.3zM76.3,156.6h1.3v1.3h-1.3zM82.8,157.0h1.3v1.3h-1.3zM79.6,156.2h1.3v1.3h-1.3zM81.7,159.2h1.3v1.3h-1.3zM84.7,159.1h1.3v1.3h-1.3zM83.8,151.8h1.3v1.3h-1.3zM75.6,158.3h1.3v1.3h-1.3zM87.8,159.1h1.3v1.3h-1.3zM83.7,152.6h1.3v1.3h-1.3zM81.9,158.0h1.3v1.3h-1.3zM90.0,156.2h1.3v1.3h-1.3zM81.6,155.1h1.3v1.3h-1.3zM88.4,159.1h1.3v1.3h-1.3zM76.2,160.0h1.3v1.3h-1.3zM80.1,153.4h1.3v1.3h-1.3zM77.2,155.2h1.3v1.3h-1.3zM94.0,163.2h1.3v1.3h-1.3zM78.7,155.4h1.3v1.3h-1.3zM84.7,158.0h1.3v1.3h-1.3zM88.9,157.4h1.3v1.3h-1.3zM89.0,160.0h1.3v1.3h-1.3zM85.7,162.4h1.3v1.3h-1.3zM86.5,156.9h1.3v1.3h-1.3zM93.7,164.8h1.3v1.3h-1.3zM93.5,162.3h1.3v1.3h-1.3zM89.0,161.7h1.3v1.3h-1.3zM86.8,164.2h1.3v1.3h-1.3zM90.7,161.1h1.3v1.3h-1.3zM85.6,161.7h1.3v1.3h-1.3zM93.9,166.2h1.3v1.3h-1.3zM92.1,161.0h1.3v1.3h-1.3zM67.5,155.0h1.3v1.3h-1.3zM68.0,152.0h1.3v1.3h-1.3zM98.0,158.0h1.3v1.3h-1.3zM99.5,162.0h1.3v1.3h-1.3zM106.0,175.0h1.3v1.3h-1.3zM71.0,214.0h1.3v1.3h-1.3zM72.0,224.0h1.3v1.3h-1.3zM70.0,199.0h1.3v1.3h-1.3zM72.5,206.0h1.3v1.3h-1.3z" fill="#6a6a6a" stroke="none" stroke-width="1" />
<line x1="66.50" y1="135.20" x2="66.50" y2="232.90" stroke="#333" stroke-width="0.9" stroke-dasharray="1.4,1.9"/>
<line x1="39.60" y1="174.80" x2="150.80" y2="174.80" stroke="#333" stroke-width="0.5" stroke-dasharray="1.3,1.9"/>
<circle cx="137.8" cy="138.6" r="1.25" fill="#a3102f"/>
<circle cx="120.9" cy="151.8" r="1.25" fill="#a3102f"/>
<circle cx="109.7" cy="155.8" r="1.25" fill="#a3102f"/>
<text x="132.80" y="144.60" font-size="5.6" font-style="italic" fill="#333" textLength="9.20" lengthAdjust="spacingAndGlyphs" stroke="#333" stroke-width="0.1">Bax</text>
<text x="118.20" y="158.00" font-size="5.6" font-style="italic" fill="#333" textLength="14.10" lengthAdjust="spacingAndGlyphs" stroke="#333" stroke-width="0.1">Trp53</text>
<text x="102.80" y="162.30" font-size="5.6" font-style="italic" fill="#333" textLength="13.40" lengthAdjust="spacingAndGlyphs" stroke="#333" stroke-width="0.1">Ddx6</text>
<rect x="38.60" y="134.20" width="113.20" height="99.70" fill="none" stroke="#231f20" stroke-width="1.1"/>
<line x1="43.50" y1="233.90" x2="43.50" y2="236.90" stroke="#231f20" stroke-width="1.0" />
<text x="43.50" y="246.40" font-size="6.8" text-anchor="middle" stroke="#231f20" stroke-width="0.1">4</text>
<line x1="66.50" y1="233.90" x2="66.50" y2="236.90" stroke="#231f20" stroke-width="1.0" />
<text x="66.50" y="246.40" font-size="6.8" text-anchor="middle" stroke="#231f20" stroke-width="0.1">6</text>
<line x1="89.50" y1="233.90" x2="89.50" y2="236.90" stroke="#231f20" stroke-width="1.0" />
<text x="89.50" y="246.40" font-size="6.8" text-anchor="middle" stroke="#231f20" stroke-width="0.1">8</text>
<line x1="112.50" y1="233.90" x2="112.50" y2="236.90" stroke="#231f20" stroke-width="1.0" />
<text x="112.50" y="246.40" font-size="6.8" text-anchor="middle" stroke="#231f20" stroke-width="0.1">10</text>
<line x1="135.50" y1="233.90" x2="135.50" y2="236.90" stroke="#231f20" stroke-width="1.0" />
<text x="135.50" y="246.40" font-size="6.8" text-anchor="middle" stroke="#231f20" stroke-width="0.1">12</text>
<line x1="35.60" y1="149.50" x2="38.60" y2="149.50" stroke="#231f20" stroke-width="1.0" />
<text x="32.40" y="151.90" font-size="6.8" text-anchor="end" stroke="#231f20" stroke-width="0.1">5</text>
<line x1="35.60" y1="174.80" x2="38.60" y2="174.80" stroke="#231f20" stroke-width="1.0" />
<text x="32.40" y="177.20" font-size="6.8" text-anchor="end" stroke="#231f20" stroke-width="0.1">0</text>
<line x1="35.60" y1="200.10" x2="38.60" y2="200.10" stroke="#231f20" stroke-width="1.0" />
<text x="32.40" y="202.50" font-size="6.8" text-anchor="end" stroke="#231f20" stroke-width="0.1">−5</text>
<line x1="35.60" y1="225.40" x2="38.60" y2="225.40" stroke="#231f20" stroke-width="1.0" />
<text x="32.40" y="227.80" font-size="6.8" text-anchor="end" stroke="#231f20" stroke-width="0.1">−10</text>
<text x="76.30" y="128.70" font-size="8.4" font-style="italic" textLength="29.20" lengthAdjust="spacingAndGlyphs" stroke="#231f20" stroke-width="0.1">Eμ-Myc</text>
<text x="108.10" y="128.70" font-size="8.4" stroke="#231f20" stroke-width="0.1">1</text>
<text x="15.20" y="184.00" font-size="8.4" text-anchor="middle" textLength="19.00" lengthAdjust="spacingAndGlyphs" transform="rotate(-90 15.20 184.00)" stroke="#231f20" stroke-width="0.1">LogFC</text>
<text x="82.00" y="258.20" font-size="8.4" textLength="26.50" lengthAdjust="spacingAndGlyphs" stroke="#231f20" stroke-width="0.1">LogCPM</text>
<path d="M209.50,159.40 L212.00,156.50 L216.50,154.80 L222.60,154.00 L228.00,153.80 L232.30,154.80 L236.60,157.40 L240.90,160.60 L245.20,163.80 L247.80,166.30 L245.60,169.10 L241.00,172.30 L235.50,175.80 L230.20,180.00 L225.80,184.40 L221.50,187.80 L216.20,190.50 L211.00,189.00 L208.60,182.00 L207.80,172.30 L208.10,164.80 Z" fill="#6f6f6f" stroke="#6f6f6f" stroke-width="0.8" />
<path d="M212.7,154.9h1.3v1.3h-1.3zM208.7,187.2h1.3v1.3h-1.3zM206.6,171.1h1.3v1.3h-1.3zM242.8,171.4h1.3v1.3h-1.3zM230.3,154.2h1.3v1.3h-1.3zM210.5,190.5h1.3v1.3h-1.3zM231.7,154.2h1.3v1.3h-1.3zM242.0,173.6h1.3v1.3h-1.3zM229.0,185.9h1.3v1.3h-1.3zM237.8,178.3h1.3v1.3h-1.3zM208.5,158.8h1.3v1.3h-1.3zM239.3,158.4h1.3v1.3h-1.3zM242.5,171.8h1.3v1.3h-1.3zM253.6,161.4h1.3v1.3h-1.3zM245.7,162.9h1.3v1.3h-1.3zM236.6,155.1h1.3v1.3h-1.3zM204.3,180.4h1.3v1.3h-1.3zM223.1,150.5h1.3v1.3h-1.3zM245.3,162.5h1.3v1.3h-1.3zM224.4,152.9h1.3v1.3h-1.3zM239.7,179.7h1.3v1.3h-1.3zM207.9,179.1h1.3v1.3h-1.3zM243.5,170.8h1.3v1.3h-1.3zM234.6,179.1h1.3v1.3h-1.3zM225.3,150.4h1.3v1.3h-1.3zM208.6,191.6h1.3v1.3h-1.3zM208.0,164.1h1.3v1.3h-1.3zM230.2,181.1h1.3v1.3h-1.3zM236.7,176.7h1.3v1.3h-1.3zM233.0,150.4h1.3v1.3h-1.3zM216.7,190.7h1.3v1.3h-1.3zM247.7,163.3h1.3v1.3h-1.3zM207.5,179.0h1.3v1.3h-1.3zM236.5,178.3h1.3v1.3h-1.3zM241.5,173.5h1.3v1.3h-1.3zM248.5,167.8h1.3v1.3h-1.3zM206.7,162.2h1.3v1.3h-1.3zM234.7,177.2h1.3v1.3h-1.3zM229.1,183.0h1.3v1.3h-1.3zM219.1,191.0h1.3v1.3h-1.3zM204.3,176.2h1.3v1.3h-1.3zM240.3,156.5h1.3v1.3h-1.3zM233.5,179.3h1.3v1.3h-1.3zM209.3,159.4h1.3v1.3h-1.3zM238.8,158.5h1.3v1.3h-1.3zM224.5,152.4h1.3v1.3h-1.3zM247.2,168.3h1.3v1.3h-1.3zM242.0,159.2h1.3v1.3h-1.3zM231.2,154.4h1.3v1.3h-1.3zM237.8,175.4h1.3v1.3h-1.3zM207.9,176.8h1.3v1.3h-1.3zM216.7,153.0h1.3v1.3h-1.3zM213.0,190.5h1.3v1.3h-1.3zM203.3,174.9h1.3v1.3h-1.3zM253.3,164.2h1.3v1.3h-1.3zM222.0,190.5h1.3v1.3h-1.3zM245.4,163.7h1.3v1.3h-1.3zM207.0,174.7h1.3v1.3h-1.3zM238.7,157.3h1.3v1.3h-1.3zM247.9,166.8h1.3v1.3h-1.3zM243.3,161.6h1.3v1.3h-1.3zM237.7,155.8h1.3v1.3h-1.3zM225.9,186.9h1.3v1.3h-1.3zM213.5,155.2h1.3v1.3h-1.3zM221.7,151.6h1.3v1.3h-1.3zM229.8,180.6h1.3v1.3h-1.3zM231.1,153.5h1.3v1.3h-1.3zM229.1,182.0h1.3v1.3h-1.3zM208.6,183.5h1.3v1.3h-1.3zM207.4,181.3h1.3v1.3h-1.3zM245.4,163.8h1.3v1.3h-1.3zM219.6,192.0h1.3v1.3h-1.3zM241.9,173.5h1.3v1.3h-1.3zM207.1,175.3h1.3v1.3h-1.3zM208.7,183.7h1.3v1.3h-1.3zM223.8,196.3h1.3v1.3h-1.3zM207.1,173.4h1.3v1.3h-1.3zM227.9,153.1h1.3v1.3h-1.3zM207.6,171.9h1.3v1.3h-1.3zM234.7,177.9h1.3v1.3h-1.3zM208.6,157.6h1.3v1.3h-1.3zM204.9,159.4h1.3v1.3h-1.3zM232.9,178.8h1.3v1.3h-1.3zM232.1,154.5h1.3v1.3h-1.3zM207.9,168.2h1.3v1.3h-1.3zM248.1,165.0h1.3v1.3h-1.3zM232.5,178.5h1.3v1.3h-1.3zM204.7,189.0h1.3v1.3h-1.3zM208.2,163.9h1.3v1.3h-1.3zM239.0,158.8h1.3v1.3h-1.3zM224.5,186.4h1.3v1.3h-1.3zM246.5,171.9h1.3v1.3h-1.3zM219.0,154.2h1.3v1.3h-1.3zM205.5,170.9h1.3v1.3h-1.3zM209.2,158.0h1.3v1.3h-1.3zM207.1,177.8h1.3v1.3h-1.3zM238.6,158.7h1.3v1.3h-1.3zM238.9,174.5h1.3v1.3h-1.3zM215.3,152.6h1.3v1.3h-1.3zM234.8,150.1h1.3v1.3h-1.3zM230.0,189.1h1.3v1.3h-1.3zM209.4,186.2h1.3v1.3h-1.3zM217.9,194.2h1.3v1.3h-1.3zM240.6,179.4h1.3v1.3h-1.3zM240.6,157.9h1.3v1.3h-1.3zM205.1,172.8h1.3v1.3h-1.3zM207.8,170.9h1.3v1.3h-1.3zM234.7,150.9h1.3v1.3h-1.3zM207.9,177.3h1.3v1.3h-1.3zM248.4,164.0h1.3v1.3h-1.3zM221.6,189.4h1.3v1.3h-1.3zM207.7,176.4h1.3v1.3h-1.3zM214.2,190.7h1.3v1.3h-1.3zM210.6,190.6h1.3v1.3h-1.3zM247.0,163.7h1.3v1.3h-1.3zM228.5,184.3h1.3v1.3h-1.3zM246.4,162.7h1.3v1.3h-1.3zM221.4,153.8h1.3v1.3h-1.3zM238.1,174.2h1.3v1.3h-1.3zM209.5,193.0h1.3v1.3h-1.3zM210.5,188.2h1.3v1.3h-1.3zM236.4,179.7h1.3v1.3h-1.3zM230.8,180.3h1.3v1.3h-1.3zM206.9,172.3h1.3v1.3h-1.3zM205.7,179.9h1.3v1.3h-1.3zM209.2,150.7h1.3v1.3h-1.3zM207.2,178.6h1.3v1.3h-1.3zM235.8,154.1h1.3v1.3h-1.3zM209.1,155.2h1.3v1.3h-1.3zM245.2,169.7h1.3v1.3h-1.3zM244.8,179.6h1.3v1.3h-1.3zM204.5,171.4h1.3v1.3h-1.3zM209.2,187.1h1.3v1.3h-1.3zM214.4,191.6h1.3v1.3h-1.3zM227.2,183.3h1.3v1.3h-1.3zM207.5,193.1h1.3v1.3h-1.3zM250.6,161.8h1.3v1.3h-1.3zM208.8,160.2h1.3v1.3h-1.3zM231.8,178.7h1.3v1.3h-1.3zM207.8,181.5h1.3v1.3h-1.3zM230.3,181.6h1.3v1.3h-1.3zM226.4,190.8h1.3v1.3h-1.3zM213.7,190.3h1.3v1.3h-1.3zM243.5,162.5h1.3v1.3h-1.3zM226.5,152.1h1.3v1.3h-1.3zM206.3,180.3h1.3v1.3h-1.3zM233.0,154.1h1.3v1.3h-1.3zM203.7,176.7h1.3v1.3h-1.3zM228.8,185.5h1.3v1.3h-1.3zM210.8,155.2h1.3v1.3h-1.3zM235.5,177.8h1.3v1.3h-1.3zM215.4,190.7h1.3v1.3h-1.3zM241.9,159.0h1.3v1.3h-1.3zM230.6,180.3h1.3v1.3h-1.3zM208.1,181.7h1.3v1.3h-1.3zM223.9,153.5h1.3v1.3h-1.3zM252.2,169.7h1.3v1.3h-1.3zM249.7,159.3h1.3v1.3h-1.3zM208.2,179.2h1.3v1.3h-1.3zM202.3,172.8h1.3v1.3h-1.3zM215.4,191.8h1.3v1.3h-1.3zM246.6,163.8h1.3v1.3h-1.3zM225.5,152.0h1.3v1.3h-1.3zM206.4,167.3h1.3v1.3h-1.3zM210.7,190.2h1.3v1.3h-1.3zM232.7,178.1h1.3v1.3h-1.3zM244.1,172.9h1.3v1.3h-1.3zM222.7,151.6h1.3v1.3h-1.3zM244.9,170.2h1.3v1.3h-1.3zM213.4,193.8h1.3v1.3h-1.3zM212.9,190.1h1.3v1.3h-1.3zM206.2,169.1h1.3v1.3h-1.3zM237.5,157.9h1.3v1.3h-1.3zM220.8,192.6h1.3v1.3h-1.3zM226.0,153.9h1.3v1.3h-1.3zM238.0,157.6h1.3v1.3h-1.3zM204.7,174.1h1.3v1.3h-1.3zM213.2,155.5h1.3v1.3h-1.3zM244.5,161.4h1.3v1.3h-1.3zM239.1,175.8h1.3v1.3h-1.3zM227.8,152.5h1.3v1.3h-1.3zM243.2,172.5h1.3v1.3h-1.3zM206.2,170.3h1.3v1.3h-1.3zM233.2,180.6h1.3v1.3h-1.3zM232.4,153.6h1.3v1.3h-1.3zM207.5,160.5h1.3v1.3h-1.3zM237.7,154.9h1.3v1.3h-1.3zM207.9,168.5h1.3v1.3h-1.3zM209.8,158.3h1.3v1.3h-1.3zM239.5,175.1h1.3v1.3h-1.3zM216.3,154.1h1.3v1.3h-1.3zM228.8,184.8h1.3v1.3h-1.3zM207.1,166.1h1.3v1.3h-1.3zM208.3,180.7h1.3v1.3h-1.3zM246.3,163.9h1.3v1.3h-1.3zM218.5,192.6h1.3v1.3h-1.3zM211.4,190.0h1.3v1.3h-1.3zM251.4,163.9h1.3v1.3h-1.3zM229.5,152.9h1.3v1.3h-1.3zM215.3,193.2h1.3v1.3h-1.3zM208.1,181.4h1.3v1.3h-1.3zM208.1,161.1h1.3v1.3h-1.3zM227.7,153.2h1.3v1.3h-1.3zM202.0,169.4h1.3v1.3h-1.3zM206.1,166.6h1.3v1.3h-1.3zM214.3,192.8h1.3v1.3h-1.3zM206.8,173.4h1.3v1.3h-1.3zM245.1,170.0h1.3v1.3h-1.3zM207.9,174.9h1.3v1.3h-1.3zM204.7,168.2h1.3v1.3h-1.3zM235.7,176.0h1.3v1.3h-1.3zM207.6,175.1h1.3v1.3h-1.3zM208.4,183.9h1.3v1.3h-1.3zM211.7,156.1h1.3v1.3h-1.3zM235.0,155.2h1.3v1.3h-1.3zM208.1,180.8h1.3v1.3h-1.3zM208.4,179.9h1.3v1.3h-1.3zM230.7,153.1h1.3v1.3h-1.3zM215.8,154.2h1.3v1.3h-1.3zM225.5,188.8h1.3v1.3h-1.3zM245.8,164.2h1.3v1.3h-1.3zM207.3,170.1h1.3v1.3h-1.3zM242.0,161.2h1.3v1.3h-1.3zM229.9,153.9h1.3v1.3h-1.3zM235.4,154.3h1.3v1.3h-1.3zM219.7,189.1h1.3v1.3h-1.3zM213.9,193.0h1.3v1.3h-1.3zM227.9,152.4h1.3v1.3h-1.3zM204.8,172.0h1.3v1.3h-1.3zM223.1,150.3h1.3v1.3h-1.3zM212.0,155.9h1.3v1.3h-1.3zM242.8,172.0h1.3v1.3h-1.3zM244.5,162.6h1.3v1.3h-1.3zM205.7,189.2h1.3v1.3h-1.3zM221.8,153.3h1.3v1.3h-1.3zM208.8,160.4h1.3v1.3h-1.3zM224.5,186.4h1.3v1.3h-1.3zM207.4,163.0h1.3v1.3h-1.3zM229.2,152.7h1.3v1.3h-1.3zM205.2,173.0h1.3v1.3h-1.3zM219.4,189.7h1.3v1.3h-1.3zM241.8,176.9h1.3v1.3h-1.3zM228.9,152.8h1.3v1.3h-1.3zM204.8,161.5h1.3v1.3h-1.3zM217.6,191.9h1.3v1.3h-1.3zM228.8,154.0h1.3v1.3h-1.3zM208.1,177.5h1.3v1.3h-1.3zM228.1,183.6h1.3v1.3h-1.3zM228.5,152.5h1.3v1.3h-1.3zM227.6,182.7h1.3v1.3h-1.3zM244.5,163.0h1.3v1.3h-1.3zM231.6,181.7h1.3v1.3h-1.3zM207.3,162.2h1.3v1.3h-1.3zM211.3,155.4h1.3v1.3h-1.3zM210.7,157.3h1.3v1.3h-1.3zM222.4,152.2h1.3v1.3h-1.3zM212.3,193.0h1.3v1.3h-1.3zM205.7,162.5h1.3v1.3h-1.3zM229.7,151.9h1.3v1.3h-1.3zM208.9,161.4h1.3v1.3h-1.3zM214.4,204.3h1.3v1.3h-1.3zM218.9,192.8h1.3v1.3h-1.3zM214.4,201.6h1.3v1.3h-1.3zM221.4,191.3h1.3v1.3h-1.3zM216.6,198.7h1.3v1.3h-1.3zM224.7,198.9h1.3v1.3h-1.3zM215.3,199.9h1.3v1.3h-1.3zM216.3,192.7h1.3v1.3h-1.3zM215.9,195.3h1.3v1.3h-1.3zM215.3,196.5h1.3v1.3h-1.3zM217.3,193.0h1.3v1.3h-1.3zM218.5,189.8h1.3v1.3h-1.3zM218.5,198.2h1.3v1.3h-1.3zM217.6,190.2h1.3v1.3h-1.3zM214.2,197.0h1.3v1.3h-1.3zM217.7,199.2h1.3v1.3h-1.3zM210.5,196.3h1.3v1.3h-1.3zM220.0,191.5h1.3v1.3h-1.3zM211.6,194.3h1.3v1.3h-1.3zM215.1,195.2h1.3v1.3h-1.3zM220.6,197.4h1.3v1.3h-1.3zM209.1,199.4h1.3v1.3h-1.3zM216.4,199.7h1.3v1.3h-1.3zM215.9,201.8h1.3v1.3h-1.3zM216.6,194.3h1.3v1.3h-1.3zM211.7,200.0h1.3v1.3h-1.3zM215.5,189.2h1.3v1.3h-1.3zM219.1,201.5h1.3v1.3h-1.3zM208.4,198.5h1.3v1.3h-1.3zM218.4,203.2h1.3v1.3h-1.3zM220.5,193.2h1.3v1.3h-1.3zM217.7,199.2h1.3v1.3h-1.3zM210.7,202.1h1.3v1.3h-1.3zM217.8,199.7h1.3v1.3h-1.3zM212.8,199.6h1.3v1.3h-1.3zM215.9,195.0h1.3v1.3h-1.3zM216.2,197.6h1.3v1.3h-1.3zM210.5,196.3h1.3v1.3h-1.3zM217.4,189.7h1.3v1.3h-1.3zM222.2,206.6h1.3v1.3h-1.3zM218.5,196.3h1.3v1.3h-1.3zM212.3,191.8h1.3v1.3h-1.3zM211.6,199.8h1.3v1.3h-1.3zM212.9,197.0h1.3v1.3h-1.3zM214.4,199.9h1.3v1.3h-1.3zM220.7,200.0h1.3v1.3h-1.3zM218.4,200.6h1.3v1.3h-1.3zM222.2,192.8h1.3v1.3h-1.3zM217.0,193.7h1.3v1.3h-1.3zM216.2,195.4h1.3v1.3h-1.3zM216.5,199.2h1.3v1.3h-1.3zM211.3,185.8h1.3v1.3h-1.3zM217.0,200.6h1.3v1.3h-1.3zM214.6,202.2h1.3v1.3h-1.3zM224.3,196.6h1.3v1.3h-1.3zM215.3,198.4h1.3v1.3h-1.3zM218.8,190.3h1.3v1.3h-1.3zM217.9,188.0h1.3v1.3h-1.3zM212.1,197.2h1.3v1.3h-1.3zM217.2,191.5h1.3v1.3h-1.3zM216.2,201.5h1.3v1.3h-1.3zM210.0,198.6h1.3v1.3h-1.3zM220.7,190.9h1.3v1.3h-1.3zM220.4,198.1h1.3v1.3h-1.3zM214.9,196.4h1.3v1.3h-1.3zM216.9,207.5h1.3v1.3h-1.3zM216.3,204.3h1.3v1.3h-1.3zM220.3,214.2h1.3v1.3h-1.3zM216.3,213.0h1.3v1.3h-1.3zM214.2,202.1h1.3v1.3h-1.3zM219.3,208.3h1.3v1.3h-1.3zM218.7,203.4h1.3v1.3h-1.3zM215.6,211.4h1.3v1.3h-1.3zM222.8,208.4h1.3v1.3h-1.3zM218.4,196.7h1.3v1.3h-1.3zM214.7,212.6h1.3v1.3h-1.3zM224.0,204.0h1.3v1.3h-1.3zM207.8,209.4h1.3v1.3h-1.3zM212.3,205.6h1.3v1.3h-1.3zM214.8,205.8h1.3v1.3h-1.3zM213.5,210.0h1.3v1.3h-1.3zM218.1,202.0h1.3v1.3h-1.3zM211.3,215.8h1.3v1.3h-1.3zM219.1,208.2h1.3v1.3h-1.3zM210.8,216.1h1.3v1.3h-1.3zM213.2,207.8h1.3v1.3h-1.3zM218.2,204.4h1.3v1.3h-1.3zM217.5,205.5h1.3v1.3h-1.3zM209.5,201.7h1.3v1.3h-1.3zM214.7,205.2h1.3v1.3h-1.3zM218.6,214.0h1.3v1.3h-1.3zM216.1,216.2h1.3v1.3h-1.3zM215.4,207.8h1.3v1.3h-1.3zM216.2,200.5h1.3v1.3h-1.3zM216.7,206.5h1.3v1.3h-1.3zM214.0,210.4h1.3v1.3h-1.3zM218.5,206.1h1.3v1.3h-1.3zM213.8,208.6h1.3v1.3h-1.3zM214.1,203.9h1.3v1.3h-1.3zM215.2,211.2h1.3v1.3h-1.3zM212.5,223.8h1.3v1.3h-1.3zM212.4,225.8h1.3v1.3h-1.3zM212.9,226.4h1.3v1.3h-1.3zM213.0,226.5h1.3v1.3h-1.3zM212.5,222.3h1.3v1.3h-1.3zM214.8,223.7h1.3v1.3h-1.3zM211.9,228.0h1.3v1.3h-1.3zM211.8,222.2h1.3v1.3h-1.3zM212.3,228.0h1.3v1.3h-1.3zM209.0,227.3h1.3v1.3h-1.3zM215.2,223.2h1.3v1.3h-1.3zM212.3,222.3h1.3v1.3h-1.3zM206.7,221.8h1.3v1.3h-1.3zM208.8,220.0h1.3v1.3h-1.3zM212.0,225.8h1.3v1.3h-1.3zM210.3,223.4h1.3v1.3h-1.3zM210.9,223.7h1.3v1.3h-1.3zM214.7,227.4h1.3v1.3h-1.3zM215.4,225.2h1.3v1.3h-1.3zM218.0,226.1h1.3v1.3h-1.3zM215.0,225.7h1.3v1.3h-1.3zM216.1,221.5h1.3v1.3h-1.3zM210.4,224.5h1.3v1.3h-1.3zM207.5,223.5h1.3v1.3h-1.3zM212.3,225.1h1.3v1.3h-1.3zM215.7,227.7h1.3v1.3h-1.3zM205.5,224.8h1.3v1.3h-1.3zM214.5,228.0h1.3v1.3h-1.3zM211.3,225.4h1.3v1.3h-1.3zM212.9,221.8h1.3v1.3h-1.3zM214.2,226.8h1.3v1.3h-1.3zM212.2,224.5h1.3v1.3h-1.3zM217.0,223.8h1.3v1.3h-1.3zM212.3,225.0h1.3v1.3h-1.3zM214.8,225.3h1.3v1.3h-1.3zM217.5,225.4h1.3v1.3h-1.3zM209.4,220.0h1.3v1.3h-1.3zM213.0,228.7h1.3v1.3h-1.3zM213.5,223.1h1.3v1.3h-1.3zM214.3,225.7h1.3v1.3h-1.3zM217.5,220.9h1.3v1.3h-1.3zM215.9,224.7h1.3v1.3h-1.3zM216.1,227.1h1.3v1.3h-1.3zM205.9,226.7h1.3v1.3h-1.3zM215.0,222.2h1.3v1.3h-1.3zM212.9,227.0h1.3v1.3h-1.3zM208.3,226.6h1.3v1.3h-1.3zM216.0,228.9h1.3v1.3h-1.3zM210.5,222.6h1.3v1.3h-1.3zM216.7,223.5h1.3v1.3h-1.3zM214.7,217.4h1.3v1.3h-1.3zM221.3,219.3h1.3v1.3h-1.3zM207.8,225.6h1.3v1.3h-1.3zM215.0,222.1h1.3v1.3h-1.3zM206.0,225.7h1.3v1.3h-1.3zM214.1,221.8h1.3v1.3h-1.3zM213.8,222.7h1.3v1.3h-1.3zM209.9,226.1h1.3v1.3h-1.3zM213.3,224.4h1.3v1.3h-1.3zM209.2,222.4h1.3v1.3h-1.3zM212.4,222.7h1.3v1.3h-1.3zM214.5,224.3h1.3v1.3h-1.3zM212.6,223.8h1.3v1.3h-1.3zM214.7,226.9h1.3v1.3h-1.3zM209.7,226.8h1.3v1.3h-1.3zM216.3,226.3h1.3v1.3h-1.3zM211.5,224.8h1.3v1.3h-1.3zM220.3,220.7h1.3v1.3h-1.3zM216.1,223.6h1.3v1.3h-1.3zM218.8,224.6h1.3v1.3h-1.3zM230.5,149.9h1.3v1.3h-1.3zM222.8,154.5h1.3v1.3h-1.3zM218.4,150.1h1.3v1.3h-1.3zM224.2,148.6h1.3v1.3h-1.3zM229.2,148.7h1.3v1.3h-1.3zM225.9,150.7h1.3v1.3h-1.3zM213.1,151.5h1.3v1.3h-1.3zM216.8,151.2h1.3v1.3h-1.3zM212.3,150.1h1.3v1.3h-1.3zM230.3,151.8h1.3v1.3h-1.3zM232.1,154.5h1.3v1.3h-1.3zM229.9,150.8h1.3v1.3h-1.3zM225.0,152.5h1.3v1.3h-1.3zM218.6,149.1h1.3v1.3h-1.3zM225.6,154.7h1.3v1.3h-1.3zM219.3,151.7h1.3v1.3h-1.3zM221.6,152.7h1.3v1.3h-1.3zM227.7,151.1h1.3v1.3h-1.3zM230.9,150.7h1.3v1.3h-1.3zM216.1,155.5h1.3v1.3h-1.3zM239.4,175.2h1.3v1.3h-1.3zM242.8,171.8h1.3v1.3h-1.3zM238.0,172.0h1.3v1.3h-1.3zM242.0,175.5h1.3v1.3h-1.3zM240.5,170.3h1.3v1.3h-1.3zM236.6,169.9h1.3v1.3h-1.3zM234.6,172.0h1.3v1.3h-1.3zM240.9,175.8h1.3v1.3h-1.3zM232.9,176.2h1.3v1.3h-1.3zM241.1,179.1h1.3v1.3h-1.3zM243.0,169.7h1.3v1.3h-1.3zM241.6,175.0h1.3v1.3h-1.3zM241.0,172.0h1.3v1.3h-1.3zM245.2,174.6h1.3v1.3h-1.3zM237.6,168.7h1.3v1.3h-1.3zM238.8,170.1h1.3v1.3h-1.3zM234.2,179.3h1.3v1.3h-1.3zM239.5,177.3h1.3v1.3h-1.3zM244.0,176.5h1.3v1.3h-1.3zM238.1,170.7h1.3v1.3h-1.3zM237.0,143.0h1.3v1.3h-1.3zM243.0,152.0h1.3v1.3h-1.3zM248.0,172.0h1.3v1.3h-1.3zM251.0,174.0h1.3v1.3h-1.3zM255.0,168.0h1.3v1.3h-1.3zM294.0,168.5h1.3v1.3h-1.3zM218.0,144.0h1.3v1.3h-1.3z" fill="#6a6a6a" stroke="none" stroke-width="1" />
<line x1="220.00" y1="135.60" x2="220.00" y2="232.80" stroke="#333" stroke-width="0.5" stroke-dasharray="1.4,1.9"/>
<line x1="193.40" y1="166.20" x2="304.30" y2="166.20" stroke="#333" stroke-width="0.9" stroke-dasharray="1.3,1.9"/>
<circle cx="268.9" cy="138.8" r="1.25" fill="#a3102f"/>
<circle cx="294.2" cy="143.4" r="1.25" fill="#a3102f"/>
<text x="264.00" y="145.40" font-size="5.6" font-style="italic" fill="#333" textLength="9.00" lengthAdjust="spacingAndGlyphs" stroke="#333" stroke-width="0.1">Bax</text>
<text x="283.60" y="150.00" font-size="5.6" font-style="italic" fill="#333" textLength="14.40" lengthAdjust="spacingAndGlyphs" stroke="#333" stroke-width="0.1">Trp53</text>
<rect x="192.40" y="134.60" width="112.90" height="99.20" fill="none" stroke="#231f20" stroke-width="1.1"/>
<line x1="197.40" y1="233.80" x2="197.40" y2="236.80" stroke="#231f20" stroke-width="1.0" />
<text x="197.40" y="246.40" font-size="6.8" text-anchor="middle" stroke="#231f20" stroke-width="0.1">4</text>
<line x1="220.00" y1="233.80" x2="220.00" y2="236.80" stroke="#231f20" stroke-width="1.0" />
<text x="220.00" y="246.40" font-size="6.8" text-anchor="middle" stroke="#231f20" stroke-width="0.1">6</text>
<line x1="242.60" y1="233.80" x2="242.60" y2="236.80" stroke="#231f20" stroke-width="1.0" />
<text x="242.60" y="246.40" font-size="6.8" text-anchor="middle" stroke="#231f20" stroke-width="0.1">8</text>
<line x1="265.20" y1="233.80" x2="265.20" y2="236.80" stroke="#231f20" stroke-width="1.0" />
<text x="265.20" y="246.40" font-size="6.8" text-anchor="middle" stroke="#231f20" stroke-width="0.1">10</text>
<line x1="287.80" y1="233.80" x2="287.80" y2="236.80" stroke="#231f20" stroke-width="1.0" />
<text x="287.80" y="246.40" font-size="6.8" text-anchor="middle" stroke="#231f20" stroke-width="0.1">12</text>
<line x1="189.40" y1="135.45" x2="192.40" y2="135.45" stroke="#231f20" stroke-width="1.0" />
<text x="186.20" y="137.85" font-size="6.8" text-anchor="end" stroke="#231f20" stroke-width="0.1">5</text>
<line x1="189.40" y1="166.20" x2="192.40" y2="166.20" stroke="#231f20" stroke-width="1.0" />
<text x="186.20" y="168.60" font-size="6.8" text-anchor="end" stroke="#231f20" stroke-width="0.1">0</text>
<line x1="189.40" y1="196.95" x2="192.40" y2="196.95" stroke="#231f20" stroke-width="1.0" />
<text x="186.20" y="199.35" font-size="6.8" text-anchor="end" stroke="#231f20" stroke-width="0.1">−5</text>
<line x1="189.40" y1="227.70" x2="192.40" y2="227.70" stroke="#231f20" stroke-width="1.0" />
<text x="186.20" y="230.10" font-size="6.8" text-anchor="end" stroke="#231f20" stroke-width="0.1">−10</text>
<text x="230.40" y="128.70" font-size="8.4" font-style="italic" textLength="29.30" lengthAdjust="spacingAndGlyphs" stroke="#231f20" stroke-width="0.1">Eμ-Myc</text>
<text x="262.30" y="128.70" font-size="8.4" stroke="#231f20" stroke-width="0.1">2</text>
<text x="170.00" y="184.00" font-size="8.4" text-anchor="middle" textLength="19.00" lengthAdjust="spacingAndGlyphs" transform="rotate(-90 170.00 184.00)" stroke="#231f20" stroke-width="0.1">LogFC</text>
<text x="236.20" y="258.20" font-size="8.4" textLength="26.50" lengthAdjust="spacingAndGlyphs" stroke="#231f20" stroke-width="0.1">LogCPM</text>
<path d="M362.50,166.90 L364.70,162.60 L367.90,159.40 L373.30,157.50 L379.80,156.80 L386.20,158.50 L391.60,161.00 L396.50,164.80 L399.20,169.10 L399.20,172.30 L396.00,176.60 L392.00,180.00 L387.50,183.50 L383.50,188.00 L380.00,193.00 L376.50,197.50 L372.00,200.50 L366.50,198.50 L363.20,194.50 L362.00,188.00 L361.50,178.00 Z" fill="#6f6f6f" stroke="#6f6f6f" stroke-width="0.8" />
<path d="M364.9,197.8h1.3v1.3h-1.3zM378.2,198.5h1.3v1.3h-1.3zM401.1,169.4h1.3v1.3h-1.3zM362.4,194.3h1.3v1.3h-1.3zM401.8,171.7h1.3v1.3h-1.3zM360.9,189.4h1.3v1.3h-1.3zM366.1,198.5h1.3v1.3h-1.3zM384.3,156.9h1.3v1.3h-1.3zM374.9,199.0h1.3v1.3h-1.3zM362.2,194.0h1.3v1.3h-1.3zM361.1,182.6h1.3v1.3h-1.3zM380.3,155.6h1.3v1.3h-1.3zM383.5,157.1h1.3v1.3h-1.3zM378.2,155.2h1.3v1.3h-1.3zM380.3,193.5h1.3v1.3h-1.3zM378.1,196.8h1.3v1.3h-1.3zM370.8,201.4h1.3v1.3h-1.3zM369.3,158.5h1.3v1.3h-1.3zM386.2,188.7h1.3v1.3h-1.3zM362.1,166.9h1.3v1.3h-1.3zM376.6,199.5h1.3v1.3h-1.3zM365.6,161.5h1.3v1.3h-1.3zM385.8,157.9h1.3v1.3h-1.3zM372.9,157.4h1.3v1.3h-1.3zM361.5,178.6h1.3v1.3h-1.3zM386.2,158.3h1.3v1.3h-1.3zM381.8,154.7h1.3v1.3h-1.3zM363.2,195.5h1.3v1.3h-1.3zM361.6,186.1h1.3v1.3h-1.3zM390.7,157.3h1.3v1.3h-1.3zM359.1,180.6h1.3v1.3h-1.3zM374.4,155.7h1.3v1.3h-1.3zM368.7,158.0h1.3v1.3h-1.3zM361.3,186.1h1.3v1.3h-1.3zM372.9,156.9h1.3v1.3h-1.3zM401.8,178.2h1.3v1.3h-1.3zM396.7,176.8h1.3v1.3h-1.3zM357.4,190.1h1.3v1.3h-1.3zM379.3,195.4h1.3v1.3h-1.3zM362.9,160.5h1.3v1.3h-1.3zM373.7,205.5h1.3v1.3h-1.3zM360.4,182.0h1.3v1.3h-1.3zM365.3,198.6h1.3v1.3h-1.3zM361.0,181.6h1.3v1.3h-1.3zM384.7,156.7h1.3v1.3h-1.3zM362.3,189.7h1.3v1.3h-1.3zM360.9,183.4h1.3v1.3h-1.3zM380.9,191.9h1.3v1.3h-1.3zM364.5,196.4h1.3v1.3h-1.3zM395.3,163.8h1.3v1.3h-1.3zM358.2,172.5h1.3v1.3h-1.3zM383.9,157.0h1.3v1.3h-1.3zM368.2,157.6h1.3v1.3h-1.3zM359.1,166.4h1.3v1.3h-1.3zM374.1,199.6h1.3v1.3h-1.3zM389.5,157.6h1.3v1.3h-1.3zM379.9,194.7h1.3v1.3h-1.3zM390.5,188.1h1.3v1.3h-1.3zM400.8,174.8h1.3v1.3h-1.3zM375.8,198.7h1.3v1.3h-1.3zM359.2,171.5h1.3v1.3h-1.3zM400.4,169.4h1.3v1.3h-1.3zM357.0,177.8h1.3v1.3h-1.3zM378.7,156.8h1.3v1.3h-1.3zM393.0,180.4h1.3v1.3h-1.3zM400.5,169.9h1.3v1.3h-1.3zM361.4,177.3h1.3v1.3h-1.3zM360.8,187.1h1.3v1.3h-1.3zM383.6,189.9h1.3v1.3h-1.3zM369.9,203.3h1.3v1.3h-1.3zM362.3,167.2h1.3v1.3h-1.3zM398.8,182.1h1.3v1.3h-1.3zM391.0,182.8h1.3v1.3h-1.3zM360.2,179.1h1.3v1.3h-1.3zM393.6,183.4h1.3v1.3h-1.3zM373.5,155.7h1.3v1.3h-1.3zM386.0,190.4h1.3v1.3h-1.3zM386.2,186.5h1.3v1.3h-1.3zM358.1,171.8h1.3v1.3h-1.3zM380.7,197.6h1.3v1.3h-1.3zM362.9,196.7h1.3v1.3h-1.3zM359.7,185.0h1.3v1.3h-1.3zM361.3,188.1h1.3v1.3h-1.3zM391.6,180.5h1.3v1.3h-1.3zM381.6,190.8h1.3v1.3h-1.3zM396.7,164.9h1.3v1.3h-1.3zM360.6,176.0h1.3v1.3h-1.3zM369.9,201.8h1.3v1.3h-1.3zM388.0,186.8h1.3v1.3h-1.3zM374.1,155.6h1.3v1.3h-1.3zM400.5,171.6h1.3v1.3h-1.3zM361.3,185.9h1.3v1.3h-1.3zM388.3,158.5h1.3v1.3h-1.3zM377.9,153.0h1.3v1.3h-1.3zM369.5,199.9h1.3v1.3h-1.3zM397.8,178.0h1.3v1.3h-1.3zM365.0,197.3h1.3v1.3h-1.3zM400.7,172.6h1.3v1.3h-1.3zM369.5,156.1h1.3v1.3h-1.3zM397.5,176.2h1.3v1.3h-1.3zM387.6,156.6h1.3v1.3h-1.3zM364.6,199.8h1.3v1.3h-1.3zM367.1,160.1h1.3v1.3h-1.3zM398.3,159.8h1.3v1.3h-1.3zM395.5,179.9h1.3v1.3h-1.3zM380.5,192.7h1.3v1.3h-1.3zM372.1,201.6h1.3v1.3h-1.3zM372.9,201.0h1.3v1.3h-1.3zM391.6,180.6h1.3v1.3h-1.3zM370.4,157.6h1.3v1.3h-1.3zM365.8,200.5h1.3v1.3h-1.3zM389.6,152.8h1.3v1.3h-1.3zM390.4,185.4h1.3v1.3h-1.3zM374.5,156.7h1.3v1.3h-1.3zM396.8,177.2h1.3v1.3h-1.3zM382.3,190.1h1.3v1.3h-1.3zM382.6,156.2h1.3v1.3h-1.3zM382.0,156.7h1.3v1.3h-1.3zM363.1,198.6h1.3v1.3h-1.3zM364.7,160.5h1.3v1.3h-1.3zM369.6,200.3h1.3v1.3h-1.3zM368.0,199.4h1.3v1.3h-1.3zM361.6,191.6h1.3v1.3h-1.3zM398.7,162.1h1.3v1.3h-1.3zM396.6,177.4h1.3v1.3h-1.3zM381.4,194.3h1.3v1.3h-1.3zM391.6,160.1h1.3v1.3h-1.3zM402.0,166.1h1.3v1.3h-1.3zM375.1,156.0h1.3v1.3h-1.3zM388.1,157.4h1.3v1.3h-1.3zM359.5,188.8h1.3v1.3h-1.3zM387.9,184.5h1.3v1.3h-1.3zM372.3,157.4h1.3v1.3h-1.3zM385.1,192.2h1.3v1.3h-1.3zM390.6,181.9h1.3v1.3h-1.3zM402.4,168.1h1.3v1.3h-1.3zM394.1,183.6h1.3v1.3h-1.3zM368.6,206.0h1.3v1.3h-1.3zM361.8,188.3h1.3v1.3h-1.3zM379.0,197.9h1.3v1.3h-1.3zM372.4,157.1h1.3v1.3h-1.3zM375.4,157.1h1.3v1.3h-1.3zM366.4,198.5h1.3v1.3h-1.3zM374.3,156.8h1.3v1.3h-1.3zM381.5,194.2h1.3v1.3h-1.3zM392.6,181.2h1.3v1.3h-1.3zM382.3,157.0h1.3v1.3h-1.3zM388.5,182.9h1.3v1.3h-1.3zM397.4,164.8h1.3v1.3h-1.3zM378.4,195.4h1.3v1.3h-1.3zM399.7,173.9h1.3v1.3h-1.3zM379.6,197.6h1.3v1.3h-1.3zM385.6,156.9h1.3v1.3h-1.3zM399.4,164.1h1.3v1.3h-1.3zM358.8,169.3h1.3v1.3h-1.3zM396.1,162.8h1.3v1.3h-1.3zM357.9,182.0h1.3v1.3h-1.3zM365.5,160.8h1.3v1.3h-1.3zM397.2,182.0h1.3v1.3h-1.3zM395.9,179.0h1.3v1.3h-1.3zM384.6,188.5h1.3v1.3h-1.3zM364.8,160.8h1.3v1.3h-1.3zM366.9,160.4h1.3v1.3h-1.3zM357.4,195.0h1.3v1.3h-1.3zM363.9,197.1h1.3v1.3h-1.3zM364.6,161.5h1.3v1.3h-1.3zM372.7,200.2h1.3v1.3h-1.3zM378.4,195.4h1.3v1.3h-1.3zM383.2,189.4h1.3v1.3h-1.3zM372.2,203.8h1.3v1.3h-1.3zM360.5,187.7h1.3v1.3h-1.3zM383.0,189.3h1.3v1.3h-1.3zM368.7,199.6h1.3v1.3h-1.3zM365.7,199.2h1.3v1.3h-1.3zM385.4,188.6h1.3v1.3h-1.3zM399.5,171.3h1.3v1.3h-1.3zM366.5,201.5h1.3v1.3h-1.3zM378.8,156.3h1.3v1.3h-1.3zM369.4,158.6h1.3v1.3h-1.3zM361.3,193.6h1.3v1.3h-1.3zM361.1,193.8h1.3v1.3h-1.3zM381.8,193.2h1.3v1.3h-1.3zM362.7,164.8h1.3v1.3h-1.3zM396.6,161.9h1.3v1.3h-1.3zM375.0,199.4h1.3v1.3h-1.3zM379.9,155.1h1.3v1.3h-1.3zM385.9,189.4h1.3v1.3h-1.3zM363.9,199.5h1.3v1.3h-1.3zM400.0,169.3h1.3v1.3h-1.3zM396.9,163.3h1.3v1.3h-1.3zM398.9,173.1h1.3v1.3h-1.3zM370.5,156.8h1.3v1.3h-1.3zM368.8,203.1h1.3v1.3h-1.3zM357.0,184.4h1.3v1.3h-1.3zM361.5,176.5h1.3v1.3h-1.3zM398.3,180.0h1.3v1.3h-1.3zM365.1,158.2h1.3v1.3h-1.3zM362.5,165.9h1.3v1.3h-1.3zM396.8,163.0h1.3v1.3h-1.3zM363.2,196.1h1.3v1.3h-1.3zM390.2,155.0h1.3v1.3h-1.3zM360.1,175.9h1.3v1.3h-1.3zM361.6,181.2h1.3v1.3h-1.3zM388.2,183.6h1.3v1.3h-1.3zM361.7,187.1h1.3v1.3h-1.3zM382.8,190.0h1.3v1.3h-1.3zM400.0,172.4h1.3v1.3h-1.3zM394.8,181.3h1.3v1.3h-1.3zM385.5,202.0h1.3v1.3h-1.3zM392.2,159.8h1.3v1.3h-1.3zM359.2,170.5h1.3v1.3h-1.3zM394.1,178.4h1.3v1.3h-1.3zM388.0,158.3h1.3v1.3h-1.3zM400.1,170.7h1.3v1.3h-1.3zM395.2,162.4h1.3v1.3h-1.3zM384.7,157.7h1.3v1.3h-1.3zM360.9,187.0h1.3v1.3h-1.3zM371.3,201.8h1.3v1.3h-1.3zM361.0,171.1h1.3v1.3h-1.3zM385.3,158.0h1.3v1.3h-1.3zM398.2,167.0h1.3v1.3h-1.3zM361.8,165.6h1.3v1.3h-1.3zM394.8,177.8h1.3v1.3h-1.3zM383.8,156.5h1.3v1.3h-1.3zM364.9,161.7h1.3v1.3h-1.3zM398.4,165.7h1.3v1.3h-1.3zM385.9,189.5h1.3v1.3h-1.3zM399.4,169.1h1.3v1.3h-1.3zM381.8,194.4h1.3v1.3h-1.3zM393.9,161.3h1.3v1.3h-1.3zM380.7,156.1h1.3v1.3h-1.3zM364.6,158.4h1.3v1.3h-1.3zM358.9,189.5h1.3v1.3h-1.3zM358.7,174.3h1.3v1.3h-1.3zM397.0,175.3h1.3v1.3h-1.3zM372.9,201.0h1.3v1.3h-1.3zM376.0,199.4h1.3v1.3h-1.3zM392.3,161.3h1.3v1.3h-1.3zM398.6,167.5h1.3v1.3h-1.3zM366.6,155.5h1.3v1.3h-1.3zM387.5,158.0h1.3v1.3h-1.3zM361.6,189.6h1.3v1.3h-1.3zM402.9,166.9h1.3v1.3h-1.3zM398.2,160.2h1.3v1.3h-1.3zM379.2,196.2h1.3v1.3h-1.3zM367.4,158.4h1.3v1.3h-1.3zM376.8,154.3h1.3v1.3h-1.3zM396.2,178.0h1.3v1.3h-1.3zM395.0,178.5h1.3v1.3h-1.3zM367.2,201.3h1.3v1.3h-1.3zM367.5,159.0h1.3v1.3h-1.3zM393.4,179.6h1.3v1.3h-1.3zM392.0,160.1h1.3v1.3h-1.3zM398.7,166.8h1.3v1.3h-1.3zM369.4,201.0h1.3v1.3h-1.3zM390.0,183.6h1.3v1.3h-1.3zM384.4,190.3h1.3v1.3h-1.3zM369.8,199.7h1.3v1.3h-1.3zM359.4,193.6h1.3v1.3h-1.3zM387.2,185.3h1.3v1.3h-1.3zM369.6,211.9h1.3v1.3h-1.3zM369.6,201.2h1.3v1.3h-1.3zM374.8,207.8h1.3v1.3h-1.3zM371.6,205.6h1.3v1.3h-1.3zM368.4,199.7h1.3v1.3h-1.3zM369.5,202.5h1.3v1.3h-1.3zM364.6,212.7h1.3v1.3h-1.3zM368.9,200.9h1.3v1.3h-1.3zM369.3,205.4h1.3v1.3h-1.3zM370.3,208.8h1.3v1.3h-1.3zM369.5,209.4h1.3v1.3h-1.3zM369.8,204.3h1.3v1.3h-1.3zM370.8,204.2h1.3v1.3h-1.3zM366.9,198.1h1.3v1.3h-1.3zM364.1,202.0h1.3v1.3h-1.3zM368.0,203.3h1.3v1.3h-1.3zM370.4,207.3h1.3v1.3h-1.3zM363.9,201.4h1.3v1.3h-1.3zM371.8,201.0h1.3v1.3h-1.3zM371.4,201.3h1.3v1.3h-1.3zM365.3,201.3h1.3v1.3h-1.3zM368.3,198.6h1.3v1.3h-1.3zM369.2,201.4h1.3v1.3h-1.3zM373.6,199.4h1.3v1.3h-1.3zM371.5,201.6h1.3v1.3h-1.3zM367.4,206.0h1.3v1.3h-1.3zM372.4,200.4h1.3v1.3h-1.3zM365.2,198.7h1.3v1.3h-1.3zM367.0,207.1h1.3v1.3h-1.3zM366.9,204.2h1.3v1.3h-1.3zM365.2,203.7h1.3v1.3h-1.3zM374.1,206.3h1.3v1.3h-1.3zM368.6,205.9h1.3v1.3h-1.3zM366.7,198.1h1.3v1.3h-1.3zM367.3,197.9h1.3v1.3h-1.3zM371.7,207.2h1.3v1.3h-1.3zM370.2,205.3h1.3v1.3h-1.3zM369.0,202.3h1.3v1.3h-1.3zM372.2,200.4h1.3v1.3h-1.3zM363.4,206.5h1.3v1.3h-1.3zM367.0,210.5h1.3v1.3h-1.3zM368.7,199.0h1.3v1.3h-1.3zM371.7,200.2h1.3v1.3h-1.3zM366.2,207.9h1.3v1.3h-1.3zM372.7,209.0h1.3v1.3h-1.3zM376.3,209.0h1.3v1.3h-1.3zM372.8,202.9h1.3v1.3h-1.3zM367.2,208.6h1.3v1.3h-1.3zM374.0,202.8h1.3v1.3h-1.3zM365.9,205.4h1.3v1.3h-1.3zM375.5,208.3h1.3v1.3h-1.3zM366.5,199.5h1.3v1.3h-1.3zM370.9,202.4h1.3v1.3h-1.3zM368.5,209.2h1.3v1.3h-1.3zM372.0,208.0h1.3v1.3h-1.3zM366.0,211.8h1.3v1.3h-1.3zM373.1,214.2h1.3v1.3h-1.3zM373.6,215.7h1.3v1.3h-1.3zM370.3,210.6h1.3v1.3h-1.3zM366.2,208.2h1.3v1.3h-1.3zM366.5,210.3h1.3v1.3h-1.3zM369.1,220.4h1.3v1.3h-1.3zM369.2,210.4h1.3v1.3h-1.3zM369.8,215.3h1.3v1.3h-1.3zM367.3,212.7h1.3v1.3h-1.3zM373.4,208.7h1.3v1.3h-1.3zM367.7,215.2h1.3v1.3h-1.3zM370.3,214.3h1.3v1.3h-1.3zM369.1,219.3h1.3v1.3h-1.3zM367.6,211.7h1.3v1.3h-1.3zM371.5,210.1h1.3v1.3h-1.3zM374.8,213.3h1.3v1.3h-1.3zM368.9,205.8h1.3v1.3h-1.3zM374.8,217.0h1.3v1.3h-1.3zM371.5,216.3h1.3v1.3h-1.3zM374.6,211.6h1.3v1.3h-1.3zM365.0,215.3h1.3v1.3h-1.3zM363.8,211.3h1.3v1.3h-1.3zM361.8,208.4h1.3v1.3h-1.3zM369.1,208.5h1.3v1.3h-1.3zM369.1,206.7h1.3v1.3h-1.3zM368.8,217.3h1.3v1.3h-1.3zM367.0,211.1h1.3v1.3h-1.3zM364.8,210.3h1.3v1.3h-1.3zM362.4,211.3h1.3v1.3h-1.3zM366.6,204.9h1.3v1.3h-1.3zM372.6,218.1h1.3v1.3h-1.3zM369.3,211.7h1.3v1.3h-1.3zM362.4,215.2h1.3v1.3h-1.3zM367.4,220.0h1.3v1.3h-1.3zM374.0,224.8h1.3v1.3h-1.3zM372.7,222.6h1.3v1.3h-1.3zM362.8,222.9h1.3v1.3h-1.3zM364.9,224.4h1.3v1.3h-1.3zM367.0,220.4h1.3v1.3h-1.3zM366.5,222.5h1.3v1.3h-1.3zM377.7,222.7h1.3v1.3h-1.3zM366.5,227.3h1.3v1.3h-1.3zM361.3,221.7h1.3v1.3h-1.3zM369.8,227.6h1.3v1.3h-1.3zM362.3,223.6h1.3v1.3h-1.3zM366.9,222.4h1.3v1.3h-1.3zM361.4,222.7h1.3v1.3h-1.3zM369.8,225.3h1.3v1.3h-1.3zM365.0,222.6h1.3v1.3h-1.3zM368.1,221.0h1.3v1.3h-1.3zM362.7,223.6h1.3v1.3h-1.3zM371.0,227.0h1.3v1.3h-1.3zM369.7,223.0h1.3v1.3h-1.3zM368.4,219.3h1.3v1.3h-1.3zM365.7,217.7h1.3v1.3h-1.3zM365.4,218.6h1.3v1.3h-1.3zM370.0,229.0h1.3v1.3h-1.3zM366.6,220.6h1.3v1.3h-1.3zM368.3,221.1h1.3v1.3h-1.3zM369.9,219.3h1.3v1.3h-1.3zM372.4,227.1h1.3v1.3h-1.3zM366.9,220.2h1.3v1.3h-1.3zM368.7,220.2h1.3v1.3h-1.3zM368.4,222.6h1.3v1.3h-1.3zM372.6,224.9h1.3v1.3h-1.3zM363.0,223.0h1.3v1.3h-1.3zM365.2,226.5h1.3v1.3h-1.3zM371.7,222.8h1.3v1.3h-1.3zM368.2,220.4h1.3v1.3h-1.3zM363.0,223.6h1.3v1.3h-1.3zM369.3,221.0h1.3v1.3h-1.3zM373.8,224.2h1.3v1.3h-1.3zM374.0,218.8h1.3v1.3h-1.3zM366.0,224.3h1.3v1.3h-1.3zM370.1,223.9h1.3v1.3h-1.3zM364.4,222.2h1.3v1.3h-1.3zM362.2,224.7h1.3v1.3h-1.3zM364.0,223.5h1.3v1.3h-1.3zM371.2,227.3h1.3v1.3h-1.3zM372.0,223.5h1.3v1.3h-1.3zM359.1,222.6h1.3v1.3h-1.3zM363.5,225.6h1.3v1.3h-1.3zM360.7,222.6h1.3v1.3h-1.3zM358.3,222.1h1.3v1.3h-1.3zM365.7,222.6h1.3v1.3h-1.3zM369.1,222.6h1.3v1.3h-1.3zM371.0,223.7h1.3v1.3h-1.3zM364.5,220.0h1.3v1.3h-1.3zM372.0,224.9h1.3v1.3h-1.3zM365.7,219.2h1.3v1.3h-1.3zM364.6,221.7h1.3v1.3h-1.3zM369.2,223.5h1.3v1.3h-1.3zM370.4,225.2h1.3v1.3h-1.3zM364.6,220.4h1.3v1.3h-1.3zM365.9,220.9h1.3v1.3h-1.3zM369.5,226.2h1.3v1.3h-1.3zM369.2,220.8h1.3v1.3h-1.3zM372.1,227.8h1.3v1.3h-1.3zM371.8,225.4h1.3v1.3h-1.3zM364.3,224.7h1.3v1.3h-1.3zM369.6,221.9h1.3v1.3h-1.3zM370.9,217.7h1.3v1.3h-1.3zM373.3,216.4h1.3v1.3h-1.3zM367.8,222.0h1.3v1.3h-1.3zM383.8,154.8h1.3v1.3h-1.3zM383.5,156.2h1.3v1.3h-1.3zM374.2,156.3h1.3v1.3h-1.3zM394.0,153.1h1.3v1.3h-1.3zM373.0,153.5h1.3v1.3h-1.3zM386.6,154.3h1.3v1.3h-1.3zM390.6,152.4h1.3v1.3h-1.3zM390.7,151.7h1.3v1.3h-1.3zM379.4,153.4h1.3v1.3h-1.3zM384.5,149.2h1.3v1.3h-1.3zM380.7,153.7h1.3v1.3h-1.3zM380.9,154.9h1.3v1.3h-1.3zM387.7,152.4h1.3v1.3h-1.3zM379.2,153.4h1.3v1.3h-1.3zM396.9,156.0h1.3v1.3h-1.3zM380.1,151.2h1.3v1.3h-1.3zM378.6,158.5h1.3v1.3h-1.3zM379.1,154.4h1.3v1.3h-1.3zM393.7,154.9h1.3v1.3h-1.3zM379.9,151.7h1.3v1.3h-1.3zM395.0,185.4h1.3v1.3h-1.3zM391.1,183.2h1.3v1.3h-1.3zM396.8,183.7h1.3v1.3h-1.3zM396.7,185.9h1.3v1.3h-1.3zM393.2,188.3h1.3v1.3h-1.3zM390.3,185.6h1.3v1.3h-1.3zM388.0,186.8h1.3v1.3h-1.3zM385.3,179.5h1.3v1.3h-1.3zM388.6,189.0h1.3v1.3h-1.3zM393.4,188.7h1.3v1.3h-1.3zM394.9,178.8h1.3v1.3h-1.3zM392.2,184.3h1.3v1.3h-1.3zM389.9,185.9h1.3v1.3h-1.3zM394.9,182.6h1.3v1.3h-1.3zM390.2,180.1h1.3v1.3h-1.3zM402.0,187.6h1.3v1.3h-1.3zM392.2,184.5h1.3v1.3h-1.3zM392.8,183.7h1.3v1.3h-1.3zM382.0,150.0h1.3v1.3h-1.3zM392.0,150.5h1.3v1.3h-1.3zM401.0,155.0h1.3v1.3h-1.3zM404.0,158.0h1.3v1.3h-1.3zM405.0,172.0h1.3v1.3h-1.3zM446.0,170.0h1.3v1.3h-1.3zM380.0,205.0h1.3v1.3h-1.3z" fill="#6a6a6a" stroke="none" stroke-width="1" />
<line x1="373.80" y1="135.60" x2="373.80" y2="232.80" stroke="#333" stroke-width="0.75" stroke-dasharray="1.4,1.9"/>
<line x1="347.30" y1="169.70" x2="457.90" y2="169.70" stroke="#333" stroke-width="0.65" stroke-dasharray="1.3,1.9"/>
<circle cx="447.8" cy="138.5" r="1.25" fill="#a3102f"/>
<circle cx="422.8" cy="144.2" r="1.25" fill="#a3102f"/>
<circle cx="396.2" cy="149.2" r="1.25" fill="#a3102f"/>
<circle cx="398.8" cy="151.5" r="1.25" fill="#a3102f"/>
<text x="436.90" y="144.60" font-size="5.6" font-style="italic" fill="#333" textLength="14.30" lengthAdjust="spacingAndGlyphs" stroke="#333" stroke-width="0.1">Trp53</text>
<text x="417.70" y="149.20" font-size="5.6" font-style="italic" fill="#333" textLength="9.00" lengthAdjust="spacingAndGlyphs" stroke="#333" stroke-width="0.1">Bax</text>
<text x="387.70" y="145.00" font-size="5.6" font-style="italic" fill="#333" textLength="22.00" lengthAdjust="spacingAndGlyphs" stroke="#333" stroke-width="0.1">Mfsd4b2</text>
<text x="400.80" y="154.60" font-size="5.6" font-style="italic" fill="#333" textLength="17.50" lengthAdjust="spacingAndGlyphs" stroke="#333" stroke-width="0.1">Fbxbp4</text>
<rect x="346.30" y="134.60" width="112.60" height="99.20" fill="none" stroke="#231f20" stroke-width="1.1"/>
<line x1="351.20" y1="233.80" x2="351.20" y2="236.80" stroke="#231f20" stroke-width="1.0" />
<text x="351.20" y="246.40" font-size="6.8" text-anchor="middle" stroke="#231f20" stroke-width="0.1">4</text>
<line x1="373.80" y1="233.80" x2="373.80" y2="236.80" stroke="#231f20" stroke-width="1.0" />
<text x="373.80" y="246.40" font-size="6.8" text-anchor="middle" stroke="#231f20" stroke-width="0.1">6</text>
<line x1="396.40" y1="233.80" x2="396.40" y2="236.80" stroke="#231f20" stroke-width="1.0" />
<text x="396.40" y="246.40" font-size="6.8" text-anchor="middle" stroke="#231f20" stroke-width="0.1">8</text>
<line x1="419.00" y1="233.80" x2="419.00" y2="236.80" stroke="#231f20" stroke-width="1.0" />
<text x="419.00" y="246.40" font-size="6.8" text-anchor="middle" stroke="#231f20" stroke-width="0.1">10</text>
<line x1="441.60" y1="233.80" x2="441.60" y2="236.80" stroke="#231f20" stroke-width="1.0" />
<text x="441.60" y="246.40" font-size="6.8" text-anchor="middle" stroke="#231f20" stroke-width="0.1">12</text>
<line x1="343.30" y1="141.90" x2="346.30" y2="141.90" stroke="#231f20" stroke-width="1.0" />
<text x="340.10" y="144.30" font-size="6.8" text-anchor="end" stroke="#231f20" stroke-width="0.1">5</text>
<line x1="343.30" y1="169.70" x2="346.30" y2="169.70" stroke="#231f20" stroke-width="1.0" />
<text x="340.10" y="172.10" font-size="6.8" text-anchor="end" stroke="#231f20" stroke-width="0.1">0</text>
<line x1="343.30" y1="197.50" x2="346.30" y2="197.50" stroke="#231f20" stroke-width="1.0" />
<text x="340.10" y="199.90" font-size="6.8" text-anchor="end" stroke="#231f20" stroke-width="0.1">−5</text>
<line x1="343.30" y1="225.30" x2="346.30" y2="225.30" stroke="#231f20" stroke-width="1.0" />
<text x="340.10" y="227.70" font-size="6.8" text-anchor="end" stroke="#231f20" stroke-width="0.1">−10</text>
<text x="383.50" y="128.70" font-size="8.4" font-style="italic" textLength="30.10" lengthAdjust="spacingAndGlyphs" stroke="#231f20" stroke-width="0.1">Eμ-Myc</text>
<text x="416.20" y="128.70" font-size="8.4" stroke="#231f20" stroke-width="0.1">3</text>
<text x="322.10" y="184.00" font-size="8.4" text-anchor="middle" textLength="19.00" lengthAdjust="spacingAndGlyphs" transform="rotate(-90 322.10 184.00)" stroke="#231f20" stroke-width="0.1">LogFC</text>
<text x="389.30" y="258.20" font-size="8.4" textLength="26.50" lengthAdjust="spacingAndGlyphs" stroke="#231f20" stroke-width="0.1">LogCPM</text>
<text x="7.60" y="287.00" font-size="12.2" font-weight="bold" textLength="8.20" lengthAdjust="spacingAndGlyphs" stroke="#231f20" stroke-width="0.7">C</text>
<path d="M41.90,336.80 L45.80,337.58 L49.70,340.72 L61.40,346.98 L69.20,350.89 L77.00,362.64 L88.70,372.04 L96.50,375.17 L116.00,377.52" fill="none" stroke="#8290c6" stroke-width="1.0" stroke-dasharray="2.8,1.8"/>
<circle cx="41.90" cy="336.80" r="1.75" fill="#fff" stroke="#8290c6" stroke-width="0.75"/>
<circle cx="45.80" cy="337.58" r="1.75" fill="#fff" stroke="#8290c6" stroke-width="0.75"/>
<circle cx="49.70" cy="340.72" r="1.75" fill="#fff" stroke="#8290c6" stroke-width="0.75"/>
<circle cx="61.40" cy="346.98" r="1.75" fill="#fff" stroke="#8290c6" stroke-width="0.75"/>
<circle cx="69.20" cy="350.89" r="1.75" fill="#fff" stroke="#8290c6" stroke-width="0.75"/>
<circle cx="77.00" cy="362.64" r="1.75" fill="#fff" stroke="#8290c6" stroke-width="0.75"/>
<circle cx="88.70" cy="372.04" r="1.75" fill="#fff" stroke="#8290c6" stroke-width="0.75"/>
<circle cx="96.50" cy="375.17" r="1.75" fill="#fff" stroke="#8290c6" stroke-width="0.75"/>
<circle cx="116.00" cy="377.52" r="1.75" fill="#fff" stroke="#8290c6" stroke-width="0.75"/>
<path d="M41.90,341.50 L45.80,337.58 L49.70,336.80 L61.40,331.32 L69.20,326.62 L77.00,316.44 L88.70,306.26 L96.50,303.13 L116.00,300.78" fill="none" stroke="#df8f7d" stroke-width="1.0" stroke-dasharray="2.8,1.8"/>
<rect x="40.15" y="339.75" width="3.5" height="3.5" fill="#fff" stroke="#df8f7d" stroke-width="0.75"/>
<rect x="44.05" y="335.83" width="3.5" height="3.5" fill="#fff" stroke="#df8f7d" stroke-width="0.75"/>
<rect x="47.95" y="335.05" width="3.5" height="3.5" fill="#fff" stroke="#df8f7d" stroke-width="0.75"/>
<rect x="59.65" y="329.57" width="3.5" height="3.5" fill="#fff" stroke="#df8f7d" stroke-width="0.75"/>
<rect x="67.45" y="324.87" width="3.5" height="3.5" fill="#fff" stroke="#df8f7d" stroke-width="0.75"/>
<rect x="75.25" y="314.69" width="3.5" height="3.5" fill="#fff" stroke="#df8f7d" stroke-width="0.75"/>
<rect x="86.95" y="304.51" width="3.5" height="3.5" fill="#fff" stroke="#df8f7d" stroke-width="0.75"/>
<rect x="94.75" y="301.38" width="3.5" height="3.5" fill="#fff" stroke="#df8f7d" stroke-width="0.75"/>
<rect x="114.25" y="299.03" width="3.5" height="3.5" fill="#fff" stroke="#df8f7d" stroke-width="0.75"/>
<path d="M41.90,336.80 L45.80,343.85 L49.70,350.89 L61.40,364.99 L69.20,374.38 L77.00,376.73 L88.70,377.52 L96.50,377.91 L116.00,377.91" fill="none" stroke="#1e3c78" stroke-width="1.15" />
<line x1="49.70" y1="348.94" x2="49.70" y2="352.85" stroke="#1e3c78" stroke-width="0.8" />
<line x1="48.20" y1="348.94" x2="51.20" y2="348.94" stroke="#1e3c78" stroke-width="0.8" />
<line x1="48.20" y1="352.85" x2="51.20" y2="352.85" stroke="#1e3c78" stroke-width="0.8" />
<line x1="61.40" y1="361.47" x2="61.40" y2="368.51" stroke="#1e3c78" stroke-width="0.8" />
<line x1="59.90" y1="361.47" x2="62.90" y2="361.47" stroke="#1e3c78" stroke-width="0.8" />
<line x1="59.90" y1="368.51" x2="62.90" y2="368.51" stroke="#1e3c78" stroke-width="0.8" />
<circle cx="41.90" cy="336.80" r="1.55" fill="#1e3c78"/>
<circle cx="45.80" cy="343.85" r="1.55" fill="#1e3c78"/>
<circle cx="49.70" cy="350.89" r="1.55" fill="#1e3c78"/>
<circle cx="61.40" cy="364.99" r="1.55" fill="#1e3c78"/>
<circle cx="69.20" cy="374.38" r="1.55" fill="#1e3c78"/>
<circle cx="77.00" cy="376.73" r="1.55" fill="#1e3c78"/>
<circle cx="88.70" cy="377.52" r="1.55" fill="#1e3c78"/>
<circle cx="96.50" cy="377.91" r="1.55" fill="#1e3c78"/>
<circle cx="116.00" cy="377.91" r="1.55" fill="#1e3c78"/>
<path d="M41.90,341.50 L45.80,336.02 L49.70,328.19 L61.40,314.09 L69.20,303.92 L77.00,301.57 L88.70,300.78 L96.50,300.39 L116.00,300.39" fill="none" stroke="#b3112f" stroke-width="1.15" />
<line x1="49.70" y1="326.62" x2="49.70" y2="329.75" stroke="#b3112f" stroke-width="0.8" />
<line x1="48.20" y1="326.62" x2="51.20" y2="326.62" stroke="#b3112f" stroke-width="0.8" />
<line x1="48.20" y1="329.75" x2="51.20" y2="329.75" stroke="#b3112f" stroke-width="0.8" />
<line x1="61.40" y1="310.96" x2="61.40" y2="317.23" stroke="#b3112f" stroke-width="0.8" />
<line x1="59.90" y1="310.96" x2="62.90" y2="310.96" stroke="#b3112f" stroke-width="0.8" />
<line x1="59.90" y1="317.23" x2="62.90" y2="317.23" stroke="#b3112f" stroke-width="0.8" />
<rect x="40.30" y="339.90" width="3.2" height="3.2" fill="#b3112f"/>
<rect x="44.20" y="334.42" width="3.2" height="3.2" fill="#b3112f"/>
<rect x="48.10" y="326.59" width="3.2" height="3.2" fill="#b3112f"/>
<rect x="59.80" y="312.49" width="3.2" height="3.2" fill="#b3112f"/>
<rect x="67.60" y="302.31" width="3.2" height="3.2" fill="#b3112f"/>
<rect x="75.40" y="299.97" width="3.2" height="3.2" fill="#b3112f"/>
<rect x="87.10" y="299.18" width="3.2" height="3.2" fill="#b3112f"/>
<rect x="94.90" y="298.79" width="3.2" height="3.2" fill="#b3112f"/>
<rect x="114.40" y="298.79" width="3.2" height="3.2" fill="#b3112f"/>
<line x1="38.10" y1="293.20" x2="38.10" y2="379.00" stroke="#2b2b2b" stroke-width="1.5" />
<line x1="37.40" y1="378.30" x2="122.40" y2="378.30" stroke="#2b2b2b" stroke-width="1.5" />
<line x1="34.90" y1="300.00" x2="38.10" y2="300.00" stroke="#2b2b2b" stroke-width="1.0" />
<text x="32.10" y="302.40" font-size="6.6" text-anchor="end" stroke="#231f20" stroke-width="0.1">100</text>
<line x1="34.90" y1="339.15" x2="38.10" y2="339.15" stroke="#2b2b2b" stroke-width="1.0" />
<text x="32.10" y="341.55" font-size="6.6" text-anchor="end" stroke="#231f20" stroke-width="0.1">50</text>
<line x1="34.90" y1="378.30" x2="38.10" y2="378.30" stroke="#2b2b2b" stroke-width="1.0" />
<text x="32.10" y="380.70" font-size="6.6" text-anchor="end" stroke="#231f20" stroke-width="0.1">0</text>
<line x1="41.90" y1="378.30" x2="41.90" y2="381.30" stroke="#2b2b2b" stroke-width="1.0" />
<text x="41.90" y="390.60" font-size="6.6" text-anchor="middle" stroke="#231f20" stroke-width="0.1">0</text>
<line x1="61.40" y1="378.30" x2="61.40" y2="381.30" stroke="#2b2b2b" stroke-width="1.0" />
<text x="61.40" y="390.60" font-size="6.6" text-anchor="middle" stroke="#231f20" stroke-width="0.1">5</text>
<line x1="80.90" y1="378.30" x2="80.90" y2="381.30" stroke="#2b2b2b" stroke-width="1.0" />
<text x="80.90" y="390.60" font-size="6.6" text-anchor="middle" stroke="#231f20" stroke-width="0.1">10</text>
<line x1="100.40" y1="378.30" x2="100.40" y2="381.30" stroke="#2b2b2b" stroke-width="1.0" />
<text x="100.40" y="390.60" font-size="6.6" text-anchor="middle" stroke="#231f20" stroke-width="0.1">15</text>
<line x1="119.90" y1="378.30" x2="119.90" y2="381.30" stroke="#2b2b2b" stroke-width="1.0" />
<text x="119.90" y="390.60" font-size="6.6" text-anchor="middle" stroke="#231f20" stroke-width="0.1">20</text>
<text x="14.60" y="335.00" font-size="8.4" text-anchor="middle" textLength="20.50" lengthAdjust="spacingAndGlyphs" transform="rotate(-90 14.60 335.00)" stroke="#231f20" stroke-width="0.1">% cells</text>
<text x="71.50" y="403.30" font-size="9.5" textLength="17.50" lengthAdjust="spacingAndGlyphs" stroke="#231f20" stroke-width="0.1">Days</text>
<text x="62.00" y="287.00" font-size="8.4" font-style="italic" textLength="30.50" lengthAdjust="spacingAndGlyphs" stroke="#231f20" stroke-width="0.1">Eμ-Myc</text>
<text x="94.60" y="287.00" font-size="8.4" font-style="italic" stroke="#231f20" stroke-width="0.1">1</text>
<path d="M163.75,340.72 L167.62,342.28 L171.50,344.63 L183.12,343.85 L190.88,346.98 L198.62,348.55 L210.25,351.68 L218.00,352.46 L237.38,354.03" fill="none" stroke="#8290c6" stroke-width="1.0" stroke-dasharray="2.8,1.8"/>
<circle cx="163.75" cy="340.72" r="1.75" fill="#fff" stroke="#8290c6" stroke-width="0.75"/>
<circle cx="167.62" cy="342.28" r="1.75" fill="#fff" stroke="#8290c6" stroke-width="0.75"/>
<circle cx="171.50" cy="344.63" r="1.75" fill="#fff" stroke="#8290c6" stroke-width="0.75"/>
<circle cx="183.12" cy="343.85" r="1.75" fill="#fff" stroke="#8290c6" stroke-width="0.75"/>
<circle cx="190.88" cy="346.98" r="1.75" fill="#fff" stroke="#8290c6" stroke-width="0.75"/>
<circle cx="198.62" cy="348.55" r="1.75" fill="#fff" stroke="#8290c6" stroke-width="0.75"/>
<circle cx="210.25" cy="351.68" r="1.75" fill="#fff" stroke="#8290c6" stroke-width="0.75"/>
<circle cx="218.00" cy="352.46" r="1.75" fill="#fff" stroke="#8290c6" stroke-width="0.75"/>
<circle cx="237.38" cy="354.03" r="1.75" fill="#fff" stroke="#8290c6" stroke-width="0.75"/>
<path d="M163.75,338.37 L167.62,335.24 L171.50,333.67 L183.12,335.24 L190.88,331.32 L198.62,330.54 L210.25,327.41 L218.00,325.84 L237.38,325.06" fill="none" stroke="#df8f7d" stroke-width="1.0" stroke-dasharray="2.8,1.8"/>
<rect x="162.00" y="336.62" width="3.5" height="3.5" fill="#fff" stroke="#df8f7d" stroke-width="0.75"/>
<rect x="165.88" y="333.49" width="3.5" height="3.5" fill="#fff" stroke="#df8f7d" stroke-width="0.75"/>
<rect x="169.75" y="331.92" width="3.5" height="3.5" fill="#fff" stroke="#df8f7d" stroke-width="0.75"/>
<rect x="181.38" y="333.49" width="3.5" height="3.5" fill="#fff" stroke="#df8f7d" stroke-width="0.75"/>
<rect x="189.12" y="329.57" width="3.5" height="3.5" fill="#fff" stroke="#df8f7d" stroke-width="0.75"/>
<rect x="196.88" y="328.79" width="3.5" height="3.5" fill="#fff" stroke="#df8f7d" stroke-width="0.75"/>
<rect x="208.50" y="325.66" width="3.5" height="3.5" fill="#fff" stroke="#df8f7d" stroke-width="0.75"/>
<rect x="216.25" y="324.09" width="3.5" height="3.5" fill="#fff" stroke="#df8f7d" stroke-width="0.75"/>
<rect x="235.62" y="323.31" width="3.5" height="3.5" fill="#fff" stroke="#df8f7d" stroke-width="0.75"/>
<path d="M163.75,340.72 L167.62,343.85 L171.50,350.11 L183.12,354.03 L190.88,362.64 L198.62,364.21 L210.25,368.12 L218.00,372.04 L237.38,373.60" fill="none" stroke="#1e3c78" stroke-width="1.15" />
<circle cx="163.75" cy="340.72" r="1.55" fill="#1e3c78"/>
<circle cx="167.62" cy="343.85" r="1.55" fill="#1e3c78"/>
<circle cx="171.50" cy="350.11" r="1.55" fill="#1e3c78"/>
<circle cx="183.12" cy="354.03" r="1.55" fill="#1e3c78"/>
<circle cx="190.88" cy="362.64" r="1.55" fill="#1e3c78"/>
<circle cx="198.62" cy="364.21" r="1.55" fill="#1e3c78"/>
<circle cx="210.25" cy="368.12" r="1.55" fill="#1e3c78"/>
<circle cx="218.00" cy="372.04" r="1.55" fill="#1e3c78"/>
<circle cx="237.38" cy="373.60" r="1.55" fill="#1e3c78"/>
<path d="M163.75,338.37 L167.62,336.02 L171.50,328.97 L183.12,325.06 L190.88,316.44 L198.62,314.88 L210.25,310.96 L218.00,307.05 L237.38,305.48" fill="none" stroke="#b3112f" stroke-width="1.15" />
<rect x="162.15" y="336.77" width="3.2" height="3.2" fill="#b3112f"/>
<rect x="166.03" y="334.42" width="3.2" height="3.2" fill="#b3112f"/>
<rect x="169.90" y="327.37" width="3.2" height="3.2" fill="#b3112f"/>
<rect x="181.53" y="323.46" width="3.2" height="3.2" fill="#b3112f"/>
<rect x="189.28" y="314.84" width="3.2" height="3.2" fill="#b3112f"/>
<rect x="197.03" y="313.28" width="3.2" height="3.2" fill="#b3112f"/>
<rect x="208.65" y="309.36" width="3.2" height="3.2" fill="#b3112f"/>
<rect x="216.40" y="305.45" width="3.2" height="3.2" fill="#b3112f"/>
<rect x="235.78" y="303.88" width="3.2" height="3.2" fill="#b3112f"/>
<line x1="160.00" y1="293.70" x2="160.00" y2="379.00" stroke="#2b2b2b" stroke-width="1.5" />
<line x1="159.30" y1="378.30" x2="244.50" y2="378.30" stroke="#2b2b2b" stroke-width="1.5" />
<line x1="156.80" y1="300.00" x2="160.00" y2="300.00" stroke="#2b2b2b" stroke-width="1.0" />
<text x="154.00" y="302.40" font-size="6.6" text-anchor="end" stroke="#231f20" stroke-width="0.1">100</text>
<line x1="156.80" y1="339.15" x2="160.00" y2="339.15" stroke="#2b2b2b" stroke-width="1.0" />
<text x="154.00" y="341.55" font-size="6.6" text-anchor="end" stroke="#231f20" stroke-width="0.1">50</text>
<line x1="156.80" y1="378.30" x2="160.00" y2="378.30" stroke="#2b2b2b" stroke-width="1.0" />
<text x="154.00" y="380.70" font-size="6.6" text-anchor="end" stroke="#231f20" stroke-width="0.1">0</text>
<line x1="163.75" y1="378.30" x2="163.75" y2="381.30" stroke="#2b2b2b" stroke-width="1.0" />
<text x="163.75" y="390.60" font-size="6.6" text-anchor="middle" stroke="#231f20" stroke-width="0.1">0</text>
<line x1="183.12" y1="378.30" x2="183.12" y2="381.30" stroke="#2b2b2b" stroke-width="1.0" />
<text x="183.12" y="390.60" font-size="6.6" text-anchor="middle" stroke="#231f20" stroke-width="0.1">5</text>
<line x1="202.50" y1="378.30" x2="202.50" y2="381.30" stroke="#2b2b2b" stroke-width="1.0" />
<text x="202.50" y="390.60" font-size="6.6" text-anchor="middle" stroke="#231f20" stroke-width="0.1">10</text>
<line x1="221.88" y1="378.30" x2="221.88" y2="381.30" stroke="#2b2b2b" stroke-width="1.0" />
<text x="221.88" y="390.60" font-size="6.6" text-anchor="middle" stroke="#231f20" stroke-width="0.1">15</text>
<line x1="241.25" y1="378.30" x2="241.25" y2="381.30" stroke="#2b2b2b" stroke-width="1.0" />
<text x="241.25" y="390.60" font-size="6.6" text-anchor="middle" stroke="#231f20" stroke-width="0.1">20</text>
<text x="136.60" y="336.00" font-size="8.4" text-anchor="middle" textLength="20.50" lengthAdjust="spacingAndGlyphs" transform="rotate(-90 136.60 336.00)" stroke="#231f20" stroke-width="0.1">% cells</text>
<text x="193.75" y="403.30" font-size="9.5" textLength="17.50" lengthAdjust="spacingAndGlyphs" stroke="#231f20" stroke-width="0.1">Days</text>
<text x="183.75" y="287.00" font-size="8.4" font-style="italic" textLength="30.50" lengthAdjust="spacingAndGlyphs" stroke="#231f20" stroke-width="0.1">Eμ-Myc</text>
<text x="216.80" y="287.00" font-size="8.4" font-style="italic" stroke="#231f20" stroke-width="0.1">2</text>
<path d="M289.25,329.75 L293.14,335.24 L297.03,338.37 L308.70,338.37 L316.48,339.93 L324.26,340.72 L335.93,340.72 L343.71,340.32 L363.16,339.15" fill="none" stroke="#8290c6" stroke-width="1.0" stroke-dasharray="2.8,1.8"/>
<line x1="363.16" y1="336.80" x2="363.16" y2="341.50" stroke="#8290c6" stroke-width="0.8" />
<line x1="361.66" y1="336.80" x2="364.66" y2="336.80" stroke="#8290c6" stroke-width="0.8" />
<line x1="361.66" y1="341.50" x2="364.66" y2="341.50" stroke="#8290c6" stroke-width="0.8" />
<circle cx="289.25" cy="329.75" r="1.75" fill="#fff" stroke="#8290c6" stroke-width="0.75"/>
<circle cx="293.14" cy="335.24" r="1.75" fill="#fff" stroke="#8290c6" stroke-width="0.75"/>
<circle cx="297.03" cy="338.37" r="1.75" fill="#fff" stroke="#8290c6" stroke-width="0.75"/>
<circle cx="308.70" cy="338.37" r="1.75" fill="#fff" stroke="#8290c6" stroke-width="0.75"/>
<circle cx="316.48" cy="339.93" r="1.75" fill="#fff" stroke="#8290c6" stroke-width="0.75"/>
<circle cx="324.26" cy="340.72" r="1.75" fill="#fff" stroke="#8290c6" stroke-width="0.75"/>
<circle cx="335.93" cy="340.72" r="1.75" fill="#fff" stroke="#8290c6" stroke-width="0.75"/>
<circle cx="343.71" cy="340.32" r="1.75" fill="#fff" stroke="#8290c6" stroke-width="0.75"/>
<circle cx="363.16" cy="339.15" r="1.75" fill="#fff" stroke="#8290c6" stroke-width="0.75"/>
<path d="M289.25,349.33 L293.14,343.85 L297.03,341.50 L308.70,341.50 L316.48,339.93 L324.26,337.58 L335.93,337.58 L343.71,338.37 L363.16,341.50" fill="none" stroke="#df8f7d" stroke-width="1.0" stroke-dasharray="2.8,1.8"/>
<line x1="363.16" y1="339.15" x2="363.16" y2="343.85" stroke="#df8f7d" stroke-width="0.8" />
<line x1="361.66" y1="339.15" x2="364.66" y2="339.15" stroke="#df8f7d" stroke-width="0.8" />
<line x1="361.66" y1="343.85" x2="364.66" y2="343.85" stroke="#df8f7d" stroke-width="0.8" />
<rect x="287.50" y="347.58" width="3.5" height="3.5" fill="#fff" stroke="#df8f7d" stroke-width="0.75"/>
<rect x="291.39" y="342.10" width="3.5" height="3.5" fill="#fff" stroke="#df8f7d" stroke-width="0.75"/>
<rect x="295.28" y="339.75" width="3.5" height="3.5" fill="#fff" stroke="#df8f7d" stroke-width="0.75"/>
<rect x="306.95" y="339.75" width="3.5" height="3.5" fill="#fff" stroke="#df8f7d" stroke-width="0.75"/>
<rect x="314.73" y="338.18" width="3.5" height="3.5" fill="#fff" stroke="#df8f7d" stroke-width="0.75"/>
<rect x="322.51" y="335.83" width="3.5" height="3.5" fill="#fff" stroke="#df8f7d" stroke-width="0.75"/>
<rect x="334.18" y="335.83" width="3.5" height="3.5" fill="#fff" stroke="#df8f7d" stroke-width="0.75"/>
<rect x="341.96" y="336.62" width="3.5" height="3.5" fill="#fff" stroke="#df8f7d" stroke-width="0.75"/>
<rect x="361.41" y="339.75" width="3.5" height="3.5" fill="#fff" stroke="#df8f7d" stroke-width="0.75"/>
<path d="M289.25,329.75 L293.14,336.02 L297.03,345.41 L308.70,351.68 L316.48,355.59 L324.26,359.51 L335.93,362.64 L343.71,364.21 L363.16,364.99" fill="none" stroke="#1e3c78" stroke-width="1.15" />
<line x1="363.16" y1="363.42" x2="363.16" y2="366.56" stroke="#1e3c78" stroke-width="0.8" />
<line x1="361.66" y1="363.42" x2="364.66" y2="363.42" stroke="#1e3c78" stroke-width="0.8" />
<line x1="361.66" y1="366.56" x2="364.66" y2="366.56" stroke="#1e3c78" stroke-width="0.8" />
<circle cx="289.25" cy="329.75" r="1.55" fill="#1e3c78"/>
<circle cx="293.14" cy="336.02" r="1.55" fill="#1e3c78"/>
<circle cx="297.03" cy="345.41" r="1.55" fill="#1e3c78"/>
<circle cx="308.70" cy="351.68" r="1.55" fill="#1e3c78"/>
<circle cx="316.48" cy="355.59" r="1.55" fill="#1e3c78"/>
<circle cx="324.26" cy="359.51" r="1.55" fill="#1e3c78"/>
<circle cx="335.93" cy="362.64" r="1.55" fill="#1e3c78"/>
<circle cx="343.71" cy="364.21" r="1.55" fill="#1e3c78"/>
<circle cx="363.16" cy="364.99" r="1.55" fill="#1e3c78"/>
<path d="M289.25,349.33 L293.14,343.85 L297.03,334.45 L308.70,327.41 L316.48,323.49 L324.26,319.57 L335.93,316.44 L343.71,315.66 L363.16,314.88" fill="none" stroke="#b3112f" stroke-width="1.15" />
<line x1="363.16" y1="313.31" x2="363.16" y2="316.44" stroke="#b3112f" stroke-width="0.8" />
<line x1="361.66" y1="313.31" x2="364.66" y2="313.31" stroke="#b3112f" stroke-width="0.8" />
<line x1="361.66" y1="316.44" x2="364.66" y2="316.44" stroke="#b3112f" stroke-width="0.8" />
<rect x="287.65" y="347.73" width="3.2" height="3.2" fill="#b3112f"/>
<rect x="291.54" y="342.25" width="3.2" height="3.2" fill="#b3112f"/>
<rect x="295.43" y="332.85" width="3.2" height="3.2" fill="#b3112f"/>
<rect x="307.10" y="325.81" width="3.2" height="3.2" fill="#b3112f"/>
<rect x="314.88" y="321.89" width="3.2" height="3.2" fill="#b3112f"/>
<rect x="322.66" y="317.97" width="3.2" height="3.2" fill="#b3112f"/>
<rect x="334.33" y="314.84" width="3.2" height="3.2" fill="#b3112f"/>
<rect x="342.11" y="314.06" width="3.2" height="3.2" fill="#b3112f"/>
<rect x="361.56" y="313.28" width="3.2" height="3.2" fill="#b3112f"/>
<line x1="285.75" y1="293.70" x2="285.75" y2="379.00" stroke="#2b2b2b" stroke-width="1.5" />
<line x1="285.05" y1="378.30" x2="369.50" y2="378.30" stroke="#2b2b2b" stroke-width="1.5" />
<line x1="282.55" y1="300.00" x2="285.75" y2="300.00" stroke="#2b2b2b" stroke-width="1.0" />
<text x="279.75" y="302.40" font-size="6.6" text-anchor="end" stroke="#231f20" stroke-width="0.1">100</text>
<line x1="282.55" y1="339.15" x2="285.75" y2="339.15" stroke="#2b2b2b" stroke-width="1.0" />
<text x="279.75" y="341.55" font-size="6.6" text-anchor="end" stroke="#231f20" stroke-width="0.1">50</text>
<line x1="282.55" y1="378.30" x2="285.75" y2="378.30" stroke="#2b2b2b" stroke-width="1.0" />
<text x="279.75" y="380.70" font-size="6.6" text-anchor="end" stroke="#231f20" stroke-width="0.1">0</text>
<line x1="289.25" y1="378.30" x2="289.25" y2="381.30" stroke="#2b2b2b" stroke-width="1.0" />
<text x="289.25" y="390.60" font-size="6.6" text-anchor="middle" stroke="#231f20" stroke-width="0.1">0</text>
<line x1="308.70" y1="378.30" x2="308.70" y2="381.30" stroke="#2b2b2b" stroke-width="1.0" />
<text x="308.70" y="390.60" font-size="6.6" text-anchor="middle" stroke="#231f20" stroke-width="0.1">5</text>
<line x1="328.15" y1="378.30" x2="328.15" y2="381.30" stroke="#2b2b2b" stroke-width="1.0" />
<text x="328.15" y="390.60" font-size="6.6" text-anchor="middle" stroke="#231f20" stroke-width="0.1">10</text>
<line x1="347.60" y1="378.30" x2="347.60" y2="381.30" stroke="#2b2b2b" stroke-width="1.0" />
<text x="347.60" y="390.60" font-size="6.6" text-anchor="middle" stroke="#231f20" stroke-width="0.1">15</text>
<line x1="367.05" y1="378.30" x2="367.05" y2="381.30" stroke="#2b2b2b" stroke-width="1.0" />
<text x="367.05" y="390.60" font-size="6.6" text-anchor="middle" stroke="#231f20" stroke-width="0.1">20</text>
<text x="262.40" y="336.00" font-size="8.4" text-anchor="middle" textLength="20.50" lengthAdjust="spacingAndGlyphs" transform="rotate(-90 262.40 336.00)" stroke="#231f20" stroke-width="0.1">% cells</text>
<text x="320.00" y="403.30" font-size="9.5" textLength="16.25" lengthAdjust="spacingAndGlyphs" stroke="#231f20" stroke-width="0.1">Days</text>
<text x="309.50" y="287.00" font-size="8.4" font-style="italic" textLength="30.50" lengthAdjust="spacingAndGlyphs" stroke="#231f20" stroke-width="0.1">Eμ-Myc</text>
<text x="342.60" y="287.00" font-size="8.4" font-style="italic" stroke="#231f20" stroke-width="0.1">3</text>
<line x1="379.80" y1="318.70" x2="387.50" y2="318.70" stroke="#8290c6" stroke-width="0.8" />
<circle cx="383.65" cy="318.70" r="1.4" fill="#fff" stroke="#8290c6" stroke-width="0.6"/>
<text x="391.20" y="320.80" font-size="5.9" textLength="33.00" lengthAdjust="spacingAndGlyphs" stroke="#231f20" stroke-width="0.05">WT + DMSO</text>
<line x1="379.80" y1="329.20" x2="387.50" y2="329.20" stroke="#1e3c78" stroke-width="1.1" />
<circle cx="383.65" cy="329.20" r="1.4" fill="#1e3c78"/>
<text x="391.20" y="331.30" font-size="5.9" textLength="40.60" lengthAdjust="spacingAndGlyphs" stroke="#231f20" stroke-width="0.05">WT + MCL1-i IC</text>
<text x="432.00" y="332.50" font-size="3.6" textLength="3.60" lengthAdjust="spacingAndGlyphs" stroke="#231f20" stroke-width="0.05">20</text>
<line x1="379.80" y1="339.80" x2="387.50" y2="339.80" stroke="#df8f7d" stroke-width="0.8" />
<rect x="382.25" y="338.40" width="2.8" height="2.8" fill="#fff" stroke="#df8f7d" stroke-width="0.6"/>
<text x="391.60" y="341.90" font-size="5.9" font-style="italic" textLength="12.70" lengthAdjust="spacingAndGlyphs" stroke="#231f20" stroke-width="0.05">Trp53</text>
<text x="405.60" y="341.90" font-size="5.9" textLength="33.80" lengthAdjust="spacingAndGlyphs" stroke="#231f20" stroke-width="0.05">KO + DMSO</text>
<line x1="379.80" y1="350.40" x2="387.50" y2="350.40" stroke="#b3112f" stroke-width="1.1" />
<rect x="382.25" y="349.00" width="2.8" height="2.8" fill="#b3112f"/>
<text x="391.60" y="352.50" font-size="5.9" font-style="italic" textLength="12.70" lengthAdjust="spacingAndGlyphs" stroke="#231f20" stroke-width="0.05">Trp53</text>
<text x="405.60" y="352.50" font-size="5.9" textLength="42.50" lengthAdjust="spacingAndGlyphs" stroke="#231f20" stroke-width="0.05">KO + MCL1-i IC</text>
<text x="448.30" y="353.70" font-size="3.6" textLength="3.60" lengthAdjust="spacingAndGlyphs" stroke="#231f20" stroke-width="0.05">20</text>
<text x="7.50" y="433.00" font-size="12.2" font-weight="bold" textLength="8.80" lengthAdjust="spacingAndGlyphs" stroke="#231f20" stroke-width="0.7">D</text>
<text x="58.00" y="433.00" font-size="8.4" textLength="40.70" lengthAdjust="spacingAndGlyphs" stroke="#231f20" stroke-width="0.1">MOLM-13</text>
<text x="192.50" y="433.00" font-size="8.4" textLength="15.00" lengthAdjust="spacingAndGlyphs" stroke="#231f20" stroke-width="0.1">BL2</text>
<path d="M43.00,481.88 L50.75,488.42 L58.50,494.24 L66.25,498.61 L74.00,501.52 L81.75,506.61 L89.49,509.16 L97.24,511.34 L104.99,512.79 L112.74,514.25" fill="none" stroke="#8290c6" stroke-width="1.0" stroke-dasharray="2.8,1.8"/>
<line x1="50.75" y1="486.24" x2="50.75" y2="490.60" stroke="#8290c6" stroke-width="0.8" />
<line x1="49.25" y1="486.24" x2="52.25" y2="486.24" stroke="#8290c6" stroke-width="0.8" />
<line x1="49.25" y1="490.60" x2="52.25" y2="490.60" stroke="#8290c6" stroke-width="0.8" />
<line x1="58.50" y1="492.79" x2="58.50" y2="495.70" stroke="#8290c6" stroke-width="0.8" />
<line x1="57.00" y1="492.79" x2="60.00" y2="492.79" stroke="#8290c6" stroke-width="0.8" />
<line x1="57.00" y1="495.70" x2="60.00" y2="495.70" stroke="#8290c6" stroke-width="0.8" />
<line x1="66.25" y1="495.70" x2="66.25" y2="501.52" stroke="#8290c6" stroke-width="0.8" />
<line x1="64.75" y1="495.70" x2="67.75" y2="495.70" stroke="#8290c6" stroke-width="0.8" />
<line x1="64.75" y1="501.52" x2="67.75" y2="501.52" stroke="#8290c6" stroke-width="0.8" />
<line x1="74.00" y1="497.15" x2="74.00" y2="505.88" stroke="#8290c6" stroke-width="0.8" />
<line x1="72.50" y1="497.15" x2="75.50" y2="497.15" stroke="#8290c6" stroke-width="0.8" />
<line x1="72.50" y1="505.88" x2="75.50" y2="505.88" stroke="#8290c6" stroke-width="0.8" />
<line x1="81.75" y1="503.70" x2="81.75" y2="509.52" stroke="#8290c6" stroke-width="0.8" />
<line x1="80.25" y1="503.70" x2="83.25" y2="503.70" stroke="#8290c6" stroke-width="0.8" />
<line x1="80.25" y1="509.52" x2="83.25" y2="509.52" stroke="#8290c6" stroke-width="0.8" />
<line x1="89.49" y1="506.25" x2="89.49" y2="512.07" stroke="#8290c6" stroke-width="0.8" />
<line x1="87.99" y1="506.25" x2="90.99" y2="506.25" stroke="#8290c6" stroke-width="0.8" />
<line x1="87.99" y1="512.07" x2="90.99" y2="512.07" stroke="#8290c6" stroke-width="0.8" />
<line x1="97.24" y1="508.43" x2="97.24" y2="514.25" stroke="#8290c6" stroke-width="0.8" />
<line x1="95.74" y1="508.43" x2="98.74" y2="508.43" stroke="#8290c6" stroke-width="0.8" />
<line x1="95.74" y1="514.25" x2="98.74" y2="514.25" stroke="#8290c6" stroke-width="0.8" />
<line x1="104.99" y1="509.88" x2="104.99" y2="515.70" stroke="#8290c6" stroke-width="0.8" />
<line x1="103.49" y1="509.88" x2="106.49" y2="509.88" stroke="#8290c6" stroke-width="0.8" />
<line x1="103.49" y1="515.70" x2="106.49" y2="515.70" stroke="#8290c6" stroke-width="0.8" />
<line x1="112.74" y1="511.34" x2="112.74" y2="517.16" stroke="#8290c6" stroke-width="0.8" />
<line x1="111.24" y1="511.34" x2="114.24" y2="511.34" stroke="#8290c6" stroke-width="0.8" />
<line x1="111.24" y1="517.16" x2="114.24" y2="517.16" stroke="#8290c6" stroke-width="0.8" />
<circle cx="43.00" cy="481.88" r="1.75" fill="#fff" stroke="#8290c6" stroke-width="0.75"/>
<circle cx="50.75" cy="488.42" r="1.75" fill="#fff" stroke="#8290c6" stroke-width="0.75"/>
<circle cx="58.50" cy="494.24" r="1.75" fill="#fff" stroke="#8290c6" stroke-width="0.75"/>
<circle cx="66.25" cy="498.61" r="1.75" fill="#fff" stroke="#8290c6" stroke-width="0.75"/>
<circle cx="74.00" cy="501.52" r="1.75" fill="#fff" stroke="#8290c6" stroke-width="0.75"/>
<circle cx="81.75" cy="506.61" r="1.75" fill="#fff" stroke="#8290c6" stroke-width="0.75"/>
<circle cx="89.49" cy="509.16" r="1.75" fill="#fff" stroke="#8290c6" stroke-width="0.75"/>
<circle cx="97.24" cy="511.34" r="1.75" fill="#fff" stroke="#8290c6" stroke-width="0.75"/>
<circle cx="104.99" cy="512.79" r="1.75" fill="#fff" stroke="#8290c6" stroke-width="0.75"/>
<circle cx="112.74" cy="514.25" r="1.75" fill="#fff" stroke="#8290c6" stroke-width="0.75"/>
<path d="M43.00,481.88 L50.75,475.69 L58.50,470.24 L66.25,465.87 L74.00,463.69 L81.75,458.60 L89.49,455.69 L97.24,453.50 L104.99,451.32 L112.74,450.23" fill="none" stroke="#df8f7d" stroke-width="1.0" stroke-dasharray="2.8,1.8"/>
<line x1="50.75" y1="472.78" x2="50.75" y2="478.60" stroke="#df8f7d" stroke-width="0.8" />
<line x1="49.25" y1="472.78" x2="52.25" y2="472.78" stroke="#df8f7d" stroke-width="0.8" />
<line x1="49.25" y1="478.60" x2="52.25" y2="478.60" stroke="#df8f7d" stroke-width="0.8" />
<line x1="58.50" y1="468.78" x2="58.50" y2="471.69" stroke="#df8f7d" stroke-width="0.8" />
<line x1="57.00" y1="468.78" x2="60.00" y2="468.78" stroke="#df8f7d" stroke-width="0.8" />
<line x1="57.00" y1="471.69" x2="60.00" y2="471.69" stroke="#df8f7d" stroke-width="0.8" />
<line x1="66.25" y1="462.96" x2="66.25" y2="468.78" stroke="#df8f7d" stroke-width="0.8" />
<line x1="64.75" y1="462.96" x2="67.75" y2="462.96" stroke="#df8f7d" stroke-width="0.8" />
<line x1="64.75" y1="468.78" x2="67.75" y2="468.78" stroke="#df8f7d" stroke-width="0.8" />
<line x1="74.00" y1="459.32" x2="74.00" y2="468.05" stroke="#df8f7d" stroke-width="0.8" />
<line x1="72.50" y1="459.32" x2="75.50" y2="459.32" stroke="#df8f7d" stroke-width="0.8" />
<line x1="72.50" y1="468.05" x2="75.50" y2="468.05" stroke="#df8f7d" stroke-width="0.8" />
<line x1="81.75" y1="456.41" x2="81.75" y2="460.78" stroke="#df8f7d" stroke-width="0.8" />
<line x1="80.25" y1="456.41" x2="83.25" y2="456.41" stroke="#df8f7d" stroke-width="0.8" />
<line x1="80.25" y1="460.78" x2="83.25" y2="460.78" stroke="#df8f7d" stroke-width="0.8" />
<line x1="89.49" y1="453.50" x2="89.49" y2="457.87" stroke="#df8f7d" stroke-width="0.8" />
<line x1="87.99" y1="453.50" x2="90.99" y2="453.50" stroke="#df8f7d" stroke-width="0.8" />
<line x1="87.99" y1="457.87" x2="90.99" y2="457.87" stroke="#df8f7d" stroke-width="0.8" />
<line x1="97.24" y1="451.32" x2="97.24" y2="455.68" stroke="#df8f7d" stroke-width="0.8" />
<line x1="95.74" y1="451.32" x2="98.74" y2="451.32" stroke="#df8f7d" stroke-width="0.8" />
<line x1="95.74" y1="455.68" x2="98.74" y2="455.68" stroke="#df8f7d" stroke-width="0.8" />
<line x1="104.99" y1="448.41" x2="104.99" y2="454.23" stroke="#df8f7d" stroke-width="0.8" />
<line x1="103.49" y1="448.41" x2="106.49" y2="448.41" stroke="#df8f7d" stroke-width="0.8" />
<line x1="103.49" y1="454.23" x2="106.49" y2="454.23" stroke="#df8f7d" stroke-width="0.8" />
<line x1="112.74" y1="447.32" x2="112.74" y2="453.14" stroke="#df8f7d" stroke-width="0.8" />
<line x1="111.24" y1="447.32" x2="114.24" y2="447.32" stroke="#df8f7d" stroke-width="0.8" />
<line x1="111.24" y1="453.14" x2="114.24" y2="453.14" stroke="#df8f7d" stroke-width="0.8" />
<rect x="41.25" y="480.12" width="3.5" height="3.5" fill="#fff" stroke="#df8f7d" stroke-width="0.75"/>
<rect x="49.00" y="473.94" width="3.5" height="3.5" fill="#fff" stroke="#df8f7d" stroke-width="0.75"/>
<rect x="56.75" y="468.49" width="3.5" height="3.5" fill="#fff" stroke="#df8f7d" stroke-width="0.75"/>
<rect x="64.50" y="464.12" width="3.5" height="3.5" fill="#fff" stroke="#df8f7d" stroke-width="0.75"/>
<rect x="72.25" y="461.94" width="3.5" height="3.5" fill="#fff" stroke="#df8f7d" stroke-width="0.75"/>
<rect x="80.00" y="456.85" width="3.5" height="3.5" fill="#fff" stroke="#df8f7d" stroke-width="0.75"/>
<rect x="87.74" y="453.94" width="3.5" height="3.5" fill="#fff" stroke="#df8f7d" stroke-width="0.75"/>
<rect x="95.49" y="451.75" width="3.5" height="3.5" fill="#fff" stroke="#df8f7d" stroke-width="0.75"/>
<rect x="103.24" y="449.57" width="3.5" height="3.5" fill="#fff" stroke="#df8f7d" stroke-width="0.75"/>
<rect x="110.99" y="448.48" width="3.5" height="3.5" fill="#fff" stroke="#df8f7d" stroke-width="0.75"/>
<path d="M43.00,481.88 L50.75,506.61 L58.50,513.88 L66.25,516.43 L74.00,517.52 L81.75,518.03 L89.49,518.25 L97.24,518.25 L104.99,518.25 L112.74,518.25" fill="none" stroke="#1e3c78" stroke-width="1.15" />
<line x1="50.75" y1="504.43" x2="50.75" y2="508.79" stroke="#1e3c78" stroke-width="0.8" />
<line x1="49.25" y1="504.43" x2="52.25" y2="504.43" stroke="#1e3c78" stroke-width="0.8" />
<line x1="49.25" y1="508.79" x2="52.25" y2="508.79" stroke="#1e3c78" stroke-width="0.8" />
<line x1="58.50" y1="513.16" x2="58.50" y2="514.61" stroke="#1e3c78" stroke-width="0.8" />
<line x1="57.00" y1="513.16" x2="60.00" y2="513.16" stroke="#1e3c78" stroke-width="0.8" />
<line x1="57.00" y1="514.61" x2="60.00" y2="514.61" stroke="#1e3c78" stroke-width="0.8" />
<circle cx="43.00" cy="481.88" r="1.55" fill="#1e3c78"/>
<circle cx="50.75" cy="506.61" r="1.55" fill="#1e3c78"/>
<circle cx="58.50" cy="513.88" r="1.55" fill="#1e3c78"/>
<circle cx="66.25" cy="516.43" r="1.55" fill="#1e3c78"/>
<circle cx="74.00" cy="517.52" r="1.55" fill="#1e3c78"/>
<circle cx="81.75" cy="518.03" r="1.55" fill="#1e3c78"/>
<circle cx="89.49" cy="518.25" r="1.55" fill="#1e3c78"/>
<circle cx="97.24" cy="518.25" r="1.55" fill="#1e3c78"/>
<circle cx="104.99" cy="518.25" r="1.55" fill="#1e3c78"/>
<circle cx="112.74" cy="518.25" r="1.55" fill="#1e3c78"/>
<path d="M43.00,481.88 L50.75,458.60 L58.50,451.32 L66.25,448.05 L74.00,446.95 L81.75,446.23 L89.49,445.86 L97.24,445.86 L104.99,445.86 L112.74,445.86" fill="none" stroke="#b3112f" stroke-width="1.15" />
<line x1="50.75" y1="455.69" x2="50.75" y2="461.50" stroke="#b3112f" stroke-width="0.8" />
<line x1="49.25" y1="455.69" x2="52.25" y2="455.69" stroke="#b3112f" stroke-width="0.8" />
<line x1="49.25" y1="461.50" x2="52.25" y2="461.50" stroke="#b3112f" stroke-width="0.8" />
<line x1="58.50" y1="450.59" x2="58.50" y2="452.05" stroke="#b3112f" stroke-width="0.8" />
<line x1="57.00" y1="450.59" x2="60.00" y2="450.59" stroke="#b3112f" stroke-width="0.8" />
<line x1="57.00" y1="452.05" x2="60.00" y2="452.05" stroke="#b3112f" stroke-width="0.8" />
<rect x="41.40" y="480.27" width="3.2" height="3.2" fill="#b3112f"/>
<rect x="49.15" y="457.00" width="3.2" height="3.2" fill="#b3112f"/>
<rect x="56.90" y="449.72" width="3.2" height="3.2" fill="#b3112f"/>
<rect x="64.65" y="446.45" width="3.2" height="3.2" fill="#b3112f"/>
<rect x="72.40" y="445.35" width="3.2" height="3.2" fill="#b3112f"/>
<rect x="80.15" y="444.63" width="3.2" height="3.2" fill="#b3112f"/>
<rect x="87.89" y="444.26" width="3.2" height="3.2" fill="#b3112f"/>
<rect x="95.64" y="444.26" width="3.2" height="3.2" fill="#b3112f"/>
<rect x="103.39" y="444.26" width="3.2" height="3.2" fill="#b3112f"/>
<rect x="111.14" y="444.26" width="3.2" height="3.2" fill="#b3112f"/>
<line x1="38.75" y1="438.80" x2="38.75" y2="518.95" stroke="#2b2b2b" stroke-width="1.5" />
<line x1="38.05" y1="518.25" x2="118.00" y2="518.25" stroke="#2b2b2b" stroke-width="1.5" />
<line x1="35.55" y1="445.50" x2="38.75" y2="445.50" stroke="#2b2b2b" stroke-width="1.0" />
<text x="32.75" y="447.90" font-size="6.6" text-anchor="end" stroke="#231f20" stroke-width="0.1">100</text>
<line x1="35.55" y1="481.88" x2="38.75" y2="481.88" stroke="#2b2b2b" stroke-width="1.0" />
<text x="32.75" y="484.27" font-size="6.6" text-anchor="end" stroke="#231f20" stroke-width="0.1">50</text>
<line x1="35.55" y1="518.25" x2="38.75" y2="518.25" stroke="#2b2b2b" stroke-width="1.0" />
<text x="32.75" y="520.65" font-size="6.6" text-anchor="end" stroke="#231f20" stroke-width="0.1">0</text>
<line x1="43.00" y1="518.25" x2="43.00" y2="521.25" stroke="#2b2b2b" stroke-width="1.0" />
<text x="43.00" y="532.00" font-size="6.6" text-anchor="middle" stroke="#231f20" stroke-width="0.1">0</text>
<line x1="58.50" y1="518.25" x2="58.50" y2="521.25" stroke="#2b2b2b" stroke-width="1.0" />
<text x="58.50" y="532.00" font-size="6.6" text-anchor="middle" stroke="#231f20" stroke-width="0.1">7</text>
<line x1="74.00" y1="518.25" x2="74.00" y2="521.25" stroke="#2b2b2b" stroke-width="1.0" />
<text x="74.00" y="532.00" font-size="6.6" text-anchor="middle" stroke="#231f20" stroke-width="0.1">14</text>
<line x1="89.49" y1="518.25" x2="89.49" y2="521.25" stroke="#2b2b2b" stroke-width="1.0" />
<text x="89.49" y="532.00" font-size="6.6" text-anchor="middle" stroke="#231f20" stroke-width="0.1">21</text>
<line x1="104.99" y1="518.25" x2="104.99" y2="521.25" stroke="#2b2b2b" stroke-width="1.0" />
<text x="104.99" y="532.00" font-size="6.6" text-anchor="middle" stroke="#231f20" stroke-width="0.1">28</text>
<text x="13.00" y="478.40" font-size="8.4" text-anchor="middle" textLength="20.50" lengthAdjust="spacingAndGlyphs" transform="rotate(-90 13.00 478.40)" stroke="#231f20" stroke-width="0.1">% cells</text>
<text x="70.00" y="546.30" font-size="9.5" textLength="16.25" lengthAdjust="spacingAndGlyphs" stroke="#231f20" stroke-width="0.1">Days</text>
<path d="M163.25,483.38 L173.71,479.71 L189.40,481.91 L199.86,487.04 L210.32,488.50 L226.01,491.80 L236.47,498.02" fill="none" stroke="#8290c6" stroke-width="1.0" stroke-dasharray="2.8,1.8"/>
<line x1="189.40" y1="480.45" x2="189.40" y2="483.37" stroke="#8290c6" stroke-width="0.8" />
<line x1="187.90" y1="480.45" x2="190.90" y2="480.45" stroke="#8290c6" stroke-width="0.8" />
<line x1="187.90" y1="483.37" x2="190.90" y2="483.37" stroke="#8290c6" stroke-width="0.8" />
<line x1="226.01" y1="489.60" x2="226.01" y2="494.00" stroke="#8290c6" stroke-width="0.8" />
<line x1="224.51" y1="489.60" x2="227.51" y2="489.60" stroke="#8290c6" stroke-width="0.8" />
<line x1="224.51" y1="494.00" x2="227.51" y2="494.00" stroke="#8290c6" stroke-width="0.8" />
<line x1="236.47" y1="495.10" x2="236.47" y2="500.95" stroke="#8290c6" stroke-width="0.8" />
<line x1="234.97" y1="495.10" x2="237.97" y2="495.10" stroke="#8290c6" stroke-width="0.8" />
<line x1="234.97" y1="500.95" x2="237.97" y2="500.95" stroke="#8290c6" stroke-width="0.8" />
<circle cx="163.25" cy="483.38" r="1.75" fill="#fff" stroke="#8290c6" stroke-width="0.75"/>
<circle cx="173.71" cy="479.71" r="1.75" fill="#fff" stroke="#8290c6" stroke-width="0.75"/>
<circle cx="189.40" cy="481.91" r="1.75" fill="#fff" stroke="#8290c6" stroke-width="0.75"/>
<circle cx="199.86" cy="487.04" r="1.75" fill="#fff" stroke="#8290c6" stroke-width="0.75"/>
<circle cx="210.32" cy="488.50" r="1.75" fill="#fff" stroke="#8290c6" stroke-width="0.75"/>
<circle cx="226.01" cy="491.80" r="1.75" fill="#fff" stroke="#8290c6" stroke-width="0.75"/>
<circle cx="236.47" cy="498.02" r="1.75" fill="#fff" stroke="#8290c6" stroke-width="0.75"/>
<path d="M163.25,483.38 L173.71,487.04 L189.40,483.74 L199.86,479.35 L210.32,478.61 L226.01,475.32 L236.47,468.73" fill="none" stroke="#df8f7d" stroke-width="1.0" stroke-dasharray="2.8,1.8"/>
<line x1="189.40" y1="482.28" x2="189.40" y2="485.21" stroke="#df8f7d" stroke-width="0.8" />
<line x1="187.90" y1="482.28" x2="190.90" y2="482.28" stroke="#df8f7d" stroke-width="0.8" />
<line x1="187.90" y1="485.21" x2="190.90" y2="485.21" stroke="#df8f7d" stroke-width="0.8" />
<line x1="226.01" y1="473.12" x2="226.01" y2="477.51" stroke="#df8f7d" stroke-width="0.8" />
<line x1="224.51" y1="473.12" x2="227.51" y2="473.12" stroke="#df8f7d" stroke-width="0.8" />
<line x1="224.51" y1="477.51" x2="227.51" y2="477.51" stroke="#df8f7d" stroke-width="0.8" />
<line x1="236.47" y1="465.80" x2="236.47" y2="471.65" stroke="#df8f7d" stroke-width="0.8" />
<line x1="234.97" y1="465.80" x2="237.97" y2="465.80" stroke="#df8f7d" stroke-width="0.8" />
<line x1="234.97" y1="471.65" x2="237.97" y2="471.65" stroke="#df8f7d" stroke-width="0.8" />
<rect x="161.50" y="481.62" width="3.5" height="3.5" fill="#fff" stroke="#df8f7d" stroke-width="0.75"/>
<rect x="171.96" y="485.29" width="3.5" height="3.5" fill="#fff" stroke="#df8f7d" stroke-width="0.75"/>
<rect x="187.65" y="481.99" width="3.5" height="3.5" fill="#fff" stroke="#df8f7d" stroke-width="0.75"/>
<rect x="198.11" y="477.60" width="3.5" height="3.5" fill="#fff" stroke="#df8f7d" stroke-width="0.75"/>
<rect x="208.57" y="476.86" width="3.5" height="3.5" fill="#fff" stroke="#df8f7d" stroke-width="0.75"/>
<rect x="224.26" y="473.57" width="3.5" height="3.5" fill="#fff" stroke="#df8f7d" stroke-width="0.75"/>
<rect x="234.72" y="466.98" width="3.5" height="3.5" fill="#fff" stroke="#df8f7d" stroke-width="0.75"/>
<path d="M163.25,483.38 L173.71,481.91 L189.40,491.43 L199.86,498.02 L210.32,503.88 L226.01,506.81 L236.47,509.38" fill="none" stroke="#1e3c78" stroke-width="1.15" />
<line x1="199.86" y1="495.83" x2="199.86" y2="500.22" stroke="#1e3c78" stroke-width="0.8" />
<line x1="198.36" y1="495.83" x2="201.36" y2="495.83" stroke="#1e3c78" stroke-width="0.8" />
<line x1="198.36" y1="500.22" x2="201.36" y2="500.22" stroke="#1e3c78" stroke-width="0.8" />
<line x1="210.32" y1="500.96" x2="210.32" y2="506.81" stroke="#1e3c78" stroke-width="0.8" />
<line x1="208.82" y1="500.96" x2="211.82" y2="500.96" stroke="#1e3c78" stroke-width="0.8" />
<line x1="208.82" y1="506.81" x2="211.82" y2="506.81" stroke="#1e3c78" stroke-width="0.8" />
<line x1="226.01" y1="503.89" x2="226.01" y2="509.74" stroke="#1e3c78" stroke-width="0.8" />
<line x1="224.51" y1="503.89" x2="227.51" y2="503.89" stroke="#1e3c78" stroke-width="0.8" />
<line x1="224.51" y1="509.74" x2="227.51" y2="509.74" stroke="#1e3c78" stroke-width="0.8" />
<circle cx="163.25" cy="483.38" r="1.55" fill="#1e3c78"/>
<circle cx="173.71" cy="481.91" r="1.55" fill="#1e3c78"/>
<circle cx="189.40" cy="491.43" r="1.55" fill="#1e3c78"/>
<circle cx="199.86" cy="498.02" r="1.55" fill="#1e3c78"/>
<circle cx="210.32" cy="503.88" r="1.55" fill="#1e3c78"/>
<circle cx="226.01" cy="506.81" r="1.55" fill="#1e3c78"/>
<circle cx="236.47" cy="509.38" r="1.55" fill="#1e3c78"/>
<path d="M163.25,483.38 L173.71,485.21 L189.40,475.68 L199.86,469.46 L210.32,462.87 L226.01,459.94 L236.47,457.74" fill="none" stroke="#b3112f" stroke-width="1.15" />
<line x1="199.86" y1="467.26" x2="199.86" y2="471.65" stroke="#b3112f" stroke-width="0.8" />
<line x1="198.36" y1="467.26" x2="201.36" y2="467.26" stroke="#b3112f" stroke-width="0.8" />
<line x1="198.36" y1="471.65" x2="201.36" y2="471.65" stroke="#b3112f" stroke-width="0.8" />
<line x1="210.32" y1="459.94" x2="210.32" y2="465.79" stroke="#b3112f" stroke-width="0.8" />
<line x1="208.82" y1="459.94" x2="211.82" y2="459.94" stroke="#b3112f" stroke-width="0.8" />
<line x1="208.82" y1="465.79" x2="211.82" y2="465.79" stroke="#b3112f" stroke-width="0.8" />
<line x1="226.01" y1="457.01" x2="226.01" y2="462.86" stroke="#b3112f" stroke-width="0.8" />
<line x1="224.51" y1="457.01" x2="227.51" y2="457.01" stroke="#b3112f" stroke-width="0.8" />
<line x1="224.51" y1="462.86" x2="227.51" y2="462.86" stroke="#b3112f" stroke-width="0.8" />
<rect x="161.65" y="481.77" width="3.2" height="3.2" fill="#b3112f"/>
<rect x="172.11" y="483.61" width="3.2" height="3.2" fill="#b3112f"/>
<rect x="187.80" y="474.08" width="3.2" height="3.2" fill="#b3112f"/>
<rect x="198.26" y="467.86" width="3.2" height="3.2" fill="#b3112f"/>
<rect x="208.72" y="461.26" width="3.2" height="3.2" fill="#b3112f"/>
<rect x="224.41" y="458.33" width="3.2" height="3.2" fill="#b3112f"/>
<rect x="234.87" y="456.14" width="3.2" height="3.2" fill="#b3112f"/>
<line x1="160.00" y1="440.00" x2="160.00" y2="520.70" stroke="#2b2b2b" stroke-width="1.5" />
<line x1="159.30" y1="520.00" x2="240.00" y2="520.00" stroke="#2b2b2b" stroke-width="1.5" />
<line x1="156.80" y1="446.75" x2="160.00" y2="446.75" stroke="#2b2b2b" stroke-width="1.0" />
<text x="154.00" y="449.15" font-size="6.6" text-anchor="end" stroke="#231f20" stroke-width="0.1">100</text>
<line x1="156.80" y1="483.38" x2="160.00" y2="483.38" stroke="#2b2b2b" stroke-width="1.0" />
<text x="154.00" y="485.77" font-size="6.6" text-anchor="end" stroke="#231f20" stroke-width="0.1">50</text>
<line x1="156.80" y1="520.00" x2="160.00" y2="520.00" stroke="#2b2b2b" stroke-width="1.0" />
<text x="154.00" y="522.40" font-size="6.6" text-anchor="end" stroke="#231f20" stroke-width="0.1">0</text>
<line x1="163.25" y1="520.00" x2="163.25" y2="523.00" stroke="#2b2b2b" stroke-width="1.0" />
<text x="163.25" y="532.00" font-size="6.6" text-anchor="middle" stroke="#231f20" stroke-width="0.1">0</text>
<line x1="184.17" y1="520.00" x2="184.17" y2="523.00" stroke="#2b2b2b" stroke-width="1.0" />
<text x="184.17" y="532.00" font-size="6.6" text-anchor="middle" stroke="#231f20" stroke-width="0.1">4</text>
<line x1="205.09" y1="520.00" x2="205.09" y2="523.00" stroke="#2b2b2b" stroke-width="1.0" />
<text x="205.09" y="532.00" font-size="6.6" text-anchor="middle" stroke="#231f20" stroke-width="0.1">8</text>
<line x1="226.01" y1="520.00" x2="226.01" y2="523.00" stroke="#2b2b2b" stroke-width="1.0" />
<text x="226.01" y="532.00" font-size="6.6" text-anchor="middle" stroke="#231f20" stroke-width="0.1">12</text>
<text x="135.00" y="480.00" font-size="8.4" text-anchor="middle" textLength="20.50" lengthAdjust="spacingAndGlyphs" transform="rotate(-90 135.00 480.00)" stroke="#231f20" stroke-width="0.1">% cells</text>
<text x="192.00" y="546.30" font-size="9.5" textLength="16.25" lengthAdjust="spacingAndGlyphs" stroke="#231f20" stroke-width="0.1">Days</text>
<line x1="249.80" y1="463.00" x2="257.50" y2="463.00" stroke="#8290c6" stroke-width="0.8" />
<circle cx="253.65" cy="463.00" r="1.4" fill="#fff" stroke="#8290c6" stroke-width="0.6"/>
<text x="261.20" y="465.10" font-size="5.9" textLength="33.00" lengthAdjust="spacingAndGlyphs" stroke="#231f20" stroke-width="0.05">WT + DMSO</text>
<line x1="249.80" y1="474.00" x2="257.50" y2="474.00" stroke="#1e3c78" stroke-width="1.1" />
<circle cx="253.65" cy="474.00" r="1.4" fill="#1e3c78"/>
<text x="261.20" y="476.10" font-size="5.9" textLength="38.00" lengthAdjust="spacingAndGlyphs" stroke="#231f20" stroke-width="0.05">WT + MCL1-i IC</text>
<text x="299.50" y="477.30" font-size="3.6" textLength="3.40" lengthAdjust="spacingAndGlyphs" stroke="#231f20" stroke-width="0.05">20</text>
<line x1="249.80" y1="484.60" x2="257.50" y2="484.60" stroke="#df8f7d" stroke-width="0.8" />
<rect x="252.25" y="483.20" width="2.8" height="2.8" fill="#fff" stroke="#df8f7d" stroke-width="0.6"/>
<text x="261.80" y="486.70" font-size="5.9" font-style="italic" textLength="11.60" lengthAdjust="spacingAndGlyphs" stroke="#231f20" stroke-width="0.05">TP53</text>
<text x="275.20" y="486.70" font-size="5.9" textLength="33.00" lengthAdjust="spacingAndGlyphs" stroke="#231f20" stroke-width="0.05">KO + DMSO</text>
<line x1="249.80" y1="495.60" x2="257.50" y2="495.60" stroke="#b3112f" stroke-width="1.1" />
<rect x="252.25" y="494.20" width="2.8" height="2.8" fill="#b3112f"/>
<text x="261.80" y="497.70" font-size="5.9" font-style="italic" textLength="11.60" lengthAdjust="spacingAndGlyphs" stroke="#231f20" stroke-width="0.05">TP53</text>
<text x="275.20" y="497.70" font-size="5.9" textLength="40.40" lengthAdjust="spacingAndGlyphs" stroke="#231f20" stroke-width="0.05">KO + MCL1-i IC</text>
<text x="315.90" y="498.90" font-size="3.6" textLength="3.60" lengthAdjust="spacingAndGlyphs" stroke="#231f20" stroke-width="0.05">20</text>
<text x="337.00" y="432.90" font-size="12.2" font-weight="bold" textLength="7.60" lengthAdjust="spacingAndGlyphs" stroke="#231f20" stroke-width="0.7">E</text>
<rect x="393.5" y="450.20" width="22.20" height="37.15" fill="#8d95bd"/>
<rect x="393.5" y="487.35" width="22.20" height="32.95" fill="#d4897a"/>
<rect x="428.1" y="451.95" width="22.30" height="43.81" fill="#8d95bd"/>
<rect x="428.1" y="495.76" width="22.30" height="24.54" fill="#d4897a"/>
<rect x="462.7" y="453.00" width="22.30" height="16.12" fill="#8d95bd"/>
<rect x="462.7" y="469.13" width="22.30" height="51.17" fill="#d4897a"/>
<line x1="439.20" y1="451.95" x2="439.20" y2="447.70" stroke="#333" stroke-width="1.0" />
<line x1="433.80" y1="447.70" x2="444.60" y2="447.70" stroke="#333" stroke-width="1.0" />
<line x1="474.00" y1="453.00" x2="474.00" y2="447.70" stroke="#333" stroke-width="1.0" />
<line x1="468.60" y1="447.70" x2="479.40" y2="447.70" stroke="#333" stroke-width="1.0" />
<line x1="438.30" y1="443.10" x2="474.80" y2="443.10" stroke="#333" stroke-width="1.0" />
<text x="456.10" y="442.60" font-size="6.2" text-anchor="middle" textLength="6.70" lengthAdjust="spacingAndGlyphs" stroke="#231f20" stroke-width="0.1">***</text>
<circle cx="404.60" cy="483.20" r="1.7" fill="#2a4d8a"/>
<rect x="402.80" y="485.40" width="3.6" height="3.6" fill="#b3102e"/>
<line x1="434.00" y1="473.30" x2="445.00" y2="473.30" stroke="#2a4d8a" stroke-width="1.0" />
<line x1="439.20" y1="473.30" x2="439.20" y2="477.00" stroke="#2a4d8a" stroke-width="0.8" />
<circle cx="439.20" cy="472.30" r="1.7" fill="#2a4d8a"/>
<circle cx="436.90" cy="480.40" r="1.7" fill="#2a4d8a"/>
<circle cx="441.50" cy="478.50" r="1.7" fill="#2a4d8a"/>
<line x1="434.00" y1="490.60" x2="445.00" y2="490.60" stroke="#b3102e" stroke-width="1.0" />
<line x1="439.20" y1="490.60" x2="439.20" y2="494.00" stroke="#b3102e" stroke-width="0.8" />
<rect x="437.40" y="488.20" width="3.6" height="3.6" fill="#b3102e"/>
<rect x="435.10" y="497.00" width="3.6" height="3.6" fill="#b3102e"/>
<rect x="439.70" y="494.00" width="3.6" height="3.6" fill="#b3102e"/>
<line x1="468.00" y1="461.70" x2="479.60" y2="461.70" stroke="#b3102e" stroke-width="1.0" />
<line x1="474.20" y1="461.70" x2="474.20" y2="468.50" stroke="#b3102e" stroke-width="0.8" />
<rect x="472.40" y="459.00" width="3.6" height="3.6" fill="#b3102e"/>
<rect x="474.40" y="469.20" width="3.6" height="3.6" fill="#b3102e"/>
<rect x="469.70" y="473.40" width="3.6" height="3.6" fill="#b3102e"/>
<line x1="468.00" y1="498.30" x2="479.60" y2="498.30" stroke="#2a4d8a" stroke-width="1.0" />
<line x1="474.20" y1="498.30" x2="474.20" y2="501.00" stroke="#2a4d8a" stroke-width="0.8" />
<circle cx="471.90" cy="499.20" r="1.7" fill="#2a4d8a"/>
<circle cx="476.20" cy="503.00" r="1.7" fill="#2a4d8a"/>
<circle cx="474.20" cy="509.20" r="1.7" fill="#2a4d8a"/>
<line x1="381.90" y1="443.30" x2="381.90" y2="521.00" stroke="#2b2b2b" stroke-width="1.5" />
<line x1="381.20" y1="520.30" x2="497.30" y2="520.30" stroke="#2b2b2b" stroke-width="1.5" />
<line x1="378.80" y1="450.20" x2="381.90" y2="450.20" stroke="#2b2b2b" stroke-width="1.0" />
<text x="375.00" y="452.60" font-size="6.6" text-anchor="end" stroke="#231f20" stroke-width="0.1">100</text>
<line x1="378.80" y1="467.72" x2="381.90" y2="467.72" stroke="#2b2b2b" stroke-width="1.0" />
<text x="375.00" y="470.12" font-size="6.6" text-anchor="end" stroke="#231f20" stroke-width="0.1">75</text>
<line x1="378.80" y1="485.25" x2="381.90" y2="485.25" stroke="#2b2b2b" stroke-width="1.0" />
<text x="375.00" y="487.65" font-size="6.6" text-anchor="end" stroke="#231f20" stroke-width="0.1">50</text>
<line x1="378.80" y1="502.77" x2="381.90" y2="502.77" stroke="#2b2b2b" stroke-width="1.0" />
<text x="375.00" y="505.17" font-size="6.6" text-anchor="end" stroke="#231f20" stroke-width="0.1">25</text>
<line x1="378.80" y1="520.30" x2="381.90" y2="520.30" stroke="#2b2b2b" stroke-width="1.0" />
<text x="375.00" y="522.70" font-size="6.6" text-anchor="end" stroke="#231f20" stroke-width="0.1">0</text>
<line x1="404.60" y1="520.30" x2="404.60" y2="523.30" stroke="#2b2b2b" stroke-width="1.0" />
<line x1="439.20" y1="520.30" x2="439.20" y2="523.30" stroke="#2b2b2b" stroke-width="1.0" />
<line x1="474.20" y1="520.30" x2="474.20" y2="523.30" stroke="#2b2b2b" stroke-width="1.0" />
<text x="383.40" y="532.70" font-size="6.6" textLength="41.80" lengthAdjust="spacingAndGlyphs" stroke="#231f20" stroke-width="0.1">Pre-transplant</text>
<text x="429.00" y="532.70" font-size="6.6" textLength="20.70" lengthAdjust="spacingAndGlyphs" stroke="#231f20" stroke-width="0.1">Vehicle</text>
<text x="463.50" y="532.70" font-size="6.6" textLength="17.50" lengthAdjust="spacingAndGlyphs" stroke="#231f20" stroke-width="0.1">MCL1i</text>
<text x="345.90" y="481.20" font-size="9.6" text-anchor="middle" textLength="67.80" lengthAdjust="spacingAndGlyphs" transform="rotate(-90 345.90 481.20)" stroke="#231f20" stroke-width="0.1">% leukemia burden</text>
<text x="357.80" y="481.20" font-size="9.6" text-anchor="middle" textLength="59.90" lengthAdjust="spacingAndGlyphs" transform="rotate(-90 357.80 481.20)" stroke="#231f20" stroke-width="0.1">(human CD45+)</text>
<text x="490.20" y="466.50" font-size="5.8" fill="#3d5295" textLength="7.70" lengthAdjust="spacingAndGlyphs" stroke="#3d5295" stroke-width="0.1">WT</text>
<text x="490.40" y="477.50" font-size="5.8" font-style="italic" fill="#b8254a" textLength="12.60" lengthAdjust="spacingAndGlyphs" stroke="#b8254a" stroke-width="0.1">TP53</text>
<text x="504.40" y="477.50" font-size="5.8" fill="#b8254a" textLength="8.30" lengthAdjust="spacingAndGlyphs" stroke="#b8254a" stroke-width="0.1">KO</text>
<text x="7.30" y="575.20" font-size="12.2" font-weight="bold" textLength="7.60" lengthAdjust="spacingAndGlyphs" stroke="#231f20" stroke-width="0.7">F</text>
<text x="130.00" y="574.40" font-size="8.4" textLength="59.00" lengthAdjust="spacingAndGlyphs" stroke="#231f20" stroke-width="0.1">BAX activation</text>
<text x="323.80" y="574.30" font-size="8.4" textLength="58.50" lengthAdjust="spacingAndGlyphs" stroke="#231f20" stroke-width="0.1">BAK activation</text>
<clipPath id="fclip1"><rect x="72.1" y="590.6" width="82.90" height="84.00"/></clipPath>
<path d="M72.10,632.58 L72.60,632.58 L73.10,632.57 L73.61,632.56 L74.11,632.56 L74.61,632.55 L75.11,632.54 L75.62,632.54 L76.12,632.53 L76.62,632.52 L77.12,632.51 L77.63,632.51 L78.13,632.50 L78.63,632.49 L79.13,632.48 L79.64,632.47 L80.14,632.46 L80.64,632.45 L81.14,632.43 L81.65,632.42 L82.15,632.41 L82.65,632.40 L83.15,632.38 L83.66,632.37 L84.16,632.35 L84.66,632.33 L85.16,632.32 L85.67,632.30 L86.17,632.28 L86.67,632.26 L87.17,632.23 L87.68,632.21 L88.18,632.19 L88.68,632.16 L89.18,632.13 L89.68,632.10 L90.19,632.07 L90.69,632.03 L91.19,632.00 L91.69,631.96 L92.20,631.92 L92.70,631.87 L93.20,631.82 L93.70,631.77 L94.21,631.71 L94.71,631.65 L95.21,631.58 L95.71,631.51 L96.22,631.43 L96.72,631.34 L97.22,631.25 L97.72,631.14 L98.23,631.03 L98.73,630.90 L99.23,630.76 L99.73,630.59 L100.24,630.41 L100.74,630.18 L101.24,629.91 L101.74,629.58 L102.25,629.17 L102.75,628.65 L103.25,627.97 L103.75,627.12 L104.26,626.03 L104.76,624.66 L105.26,622.98 L105.76,620.96 L106.26,618.60 L106.77,615.92 L107.27,613.00 L107.77,609.94 L108.27,606.88 L108.78,603.99 L109.28,601.47 L109.78,599.51 L110.28,598.25 L110.79,597.80 L111.29,598.20 L111.79,599.42 L112.29,601.35 L112.80,603.85 L113.30,606.72 L113.80,609.77 L114.30,612.84 L114.81,615.77 L115.31,618.46 L115.81,620.84 L116.31,622.88 L116.82,624.58 L117.32,625.96 L117.82,627.06 L118.32,627.93 L118.83,628.61 L119.33,629.15 L119.83,629.56 L120.33,629.90 L120.84,630.17 L121.34,630.39 L121.84,630.59 L122.34,630.75 L122.84,630.89 L123.35,631.02 L123.85,631.14 L124.35,631.24 L124.85,631.34 L125.36,631.43 L125.86,631.51 L126.36,631.58 L126.86,631.65 L127.37,631.71 L127.87,631.77 L128.37,631.82 L128.87,631.87 L129.38,631.91 L129.88,631.96 L130.38,632.00 L130.88,632.03 L131.39,632.07 L131.89,632.10 L132.39,632.13 L132.89,632.16 L133.40,632.18 L133.90,632.21 L134.40,632.23 L134.90,632.26 L135.41,632.28 L135.91,632.30 L136.41,632.32 L136.91,632.33 L137.42,632.35 L137.92,632.37 L138.42,632.38 L138.92,632.39 L139.42,632.41 L139.93,632.42 L140.43,632.43 L140.93,632.45 L141.43,632.46 L141.94,632.47 L142.44,632.48 L142.94,632.49 L143.44,632.50 L143.95,632.51 L144.45,632.51 L144.95,632.52 L145.45,632.53 L145.96,632.54 L146.46,632.54 L146.96,632.55 L147.46,632.56 L147.97,632.56 L148.47,632.57 L148.97,632.58 L149.47,632.58 L149.98,632.59 L150.48,632.59 L150.98,632.60 L151.48,632.60 L151.99,632.61 L152.49,632.61 L152.99,632.62 L153.49,632.62 L154.00,632.62 L154.50,632.63 L155.00,632.63 L155.00,632.80 L72.10,632.80 Z" fill="#f3d7ac" stroke="none" stroke-width="1" clip-path="url(#fclip1)" fill-opacity="0.85"/>
<path d="M72.10,632.58 L72.60,632.58 L73.10,632.57 L73.61,632.56 L74.11,632.56 L74.61,632.55 L75.11,632.54 L75.62,632.54 L76.12,632.53 L76.62,632.52 L77.12,632.51 L77.63,632.51 L78.13,632.50 L78.63,632.49 L79.13,632.48 L79.64,632.47 L80.14,632.46 L80.64,632.45 L81.14,632.43 L81.65,632.42 L82.15,632.41 L82.65,632.40 L83.15,632.38 L83.66,632.37 L84.16,632.35 L84.66,632.33 L85.16,632.32 L85.67,632.30 L86.17,632.28 L86.67,632.26 L87.17,632.23 L87.68,632.21 L88.18,632.19 L88.68,632.16 L89.18,632.13 L89.68,632.10 L90.19,632.07 L90.69,632.03 L91.19,632.00 L91.69,631.96 L92.20,631.92 L92.70,631.87 L93.20,631.82 L93.70,631.77 L94.21,631.71 L94.71,631.65 L95.21,631.58 L95.71,631.51 L96.22,631.43 L96.72,631.34 L97.22,631.25 L97.72,631.14 L98.23,631.03 L98.73,630.90 L99.23,630.76 L99.73,630.59 L100.24,630.41 L100.74,630.18 L101.24,629.91 L101.74,629.58 L102.25,629.17 L102.75,628.65 L103.25,627.97 L103.75,627.12 L104.26,626.03 L104.76,624.66 L105.26,622.98 L105.76,620.96 L106.26,618.60 L106.77,615.92 L107.27,613.00 L107.77,609.94 L108.27,606.88 L108.78,603.99 L109.28,601.47 L109.78,599.51 L110.28,598.25 L110.79,597.80 L111.29,598.20 L111.79,599.42 L112.29,601.35 L112.80,603.85 L113.30,606.72 L113.80,609.77 L114.30,612.84 L114.81,615.77 L115.31,618.46 L115.81,620.84 L116.31,622.88 L116.82,624.58 L117.32,625.96 L117.82,627.06 L118.32,627.93 L118.83,628.61 L119.33,629.15 L119.83,629.56 L120.33,629.90 L120.84,630.17 L121.34,630.39 L121.84,630.59 L122.34,630.75 L122.84,630.89 L123.35,631.02 L123.85,631.14 L124.35,631.24 L124.85,631.34 L125.36,631.43 L125.86,631.51 L126.36,631.58 L126.86,631.65 L127.37,631.71 L127.87,631.77 L128.37,631.82 L128.87,631.87 L129.38,631.91 L129.88,631.96 L130.38,632.00 L130.88,632.03 L131.39,632.07 L131.89,632.10 L132.39,632.13 L132.89,632.16 L133.40,632.18 L133.90,632.21 L134.40,632.23 L134.90,632.26 L135.41,632.28 L135.91,632.30 L136.41,632.32 L136.91,632.33 L137.42,632.35 L137.92,632.37 L138.42,632.38 L138.92,632.39 L139.42,632.41 L139.93,632.42 L140.43,632.43 L140.93,632.45 L141.43,632.46 L141.94,632.47 L142.44,632.48 L142.94,632.49 L143.44,632.50 L143.95,632.51 L144.45,632.51 L144.95,632.52 L145.45,632.53 L145.96,632.54 L146.46,632.54 L146.96,632.55 L147.46,632.56 L147.97,632.56 L148.47,632.57 L148.97,632.58 L149.47,632.58 L149.98,632.59 L150.48,632.59 L150.98,632.60 L151.48,632.60 L151.99,632.61 L152.49,632.61 L152.99,632.62 L153.49,632.62 L154.00,632.62 L154.50,632.63 L155.00,632.63" fill="none" stroke="#e9a53f" stroke-width="1.0" clip-path="url(#fclip1)" stroke-linejoin="round"/>
<path d="M72.10,653.26 L72.60,653.25 L73.10,653.24 L73.61,653.24 L74.11,653.23 L74.61,653.22 L75.11,653.21 L75.62,653.20 L76.12,653.20 L76.62,653.19 L77.12,653.18 L77.63,653.17 L78.13,653.16 L78.63,653.15 L79.13,653.13 L79.64,653.12 L80.14,653.11 L80.64,653.10 L81.14,653.08 L81.65,653.07 L82.15,653.05 L82.65,653.04 L83.15,653.02 L83.66,653.00 L84.16,652.98 L84.66,652.96 L85.16,652.94 L85.67,652.92 L86.17,652.89 L86.67,652.87 L87.17,652.84 L87.68,652.81 L88.18,652.78 L88.68,652.75 L89.18,652.71 L89.68,652.68 L90.19,652.64 L90.69,652.59 L91.19,652.55 L91.69,652.50 L92.20,652.44 L92.70,652.39 L93.20,652.32 L93.70,652.26 L94.21,652.18 L94.71,652.10 L95.21,652.01 L95.71,651.92 L96.22,651.81 L96.72,651.69 L97.22,651.55 L97.72,651.40 L98.23,651.22 L98.73,651.01 L99.23,650.75 L99.73,650.43 L100.24,650.04 L100.74,649.54 L101.24,648.92 L101.74,648.14 L102.25,647.16 L102.75,645.95 L103.25,644.49 L103.75,642.74 L104.26,640.69 L104.76,638.36 L105.26,635.77 L105.76,633.00 L106.26,630.11 L106.77,627.24 L107.27,624.52 L107.77,622.11 L108.27,620.14 L108.78,618.76 L109.28,618.07 L109.78,618.12 L110.28,618.90 L110.79,620.35 L111.29,622.38 L111.79,624.84 L112.29,627.59 L112.80,630.47 L113.30,633.34 L113.80,636.10 L114.30,638.66 L114.81,640.95 L115.31,642.96 L115.81,644.68 L116.31,646.11 L116.82,647.29 L117.32,648.24 L117.82,649.00 L118.32,649.61 L118.83,650.09 L119.33,650.47 L119.83,650.78 L120.33,651.03 L120.84,651.24 L121.34,651.42 L121.84,651.57 L122.34,651.71 L122.84,651.82 L123.35,651.93 L123.85,652.03 L124.35,652.11 L124.85,652.19 L125.36,652.26 L125.86,652.33 L126.36,652.39 L126.86,652.45 L127.37,652.50 L127.87,652.55 L128.37,652.60 L128.87,652.64 L129.38,652.68 L129.88,652.72 L130.38,652.75 L130.88,652.79 L131.39,652.82 L131.89,652.85 L132.39,652.87 L132.89,652.90 L133.40,652.92 L133.90,652.94 L134.40,652.97 L134.90,652.99 L135.41,653.00 L135.91,653.02 L136.41,653.04 L136.91,653.05 L137.42,653.07 L137.92,653.08 L138.42,653.10 L138.92,653.11 L139.42,653.12 L139.93,653.14 L140.43,653.15 L140.93,653.16 L141.43,653.17 L141.94,653.18 L142.44,653.19 L142.94,653.20 L143.44,653.21 L143.95,653.21 L144.45,653.22 L144.95,653.23 L145.45,653.24 L145.96,653.24 L146.46,653.25 L146.96,653.26 L147.46,653.26 L147.97,653.27 L148.47,653.28 L148.97,653.28 L149.47,653.29 L149.98,653.29 L150.48,653.30 L150.98,653.30 L151.48,653.31 L151.99,653.31 L152.49,653.31 L152.99,653.32 L153.49,653.32 L154.00,653.33 L154.50,653.33 L155.00,653.33 L155.00,653.50 L72.10,653.50 Z" fill="#d9a9a4" stroke="none" stroke-width="1" clip-path="url(#fclip1)" fill-opacity="0.85"/>
<path d="M72.10,653.26 L72.60,653.25 L73.10,653.24 L73.61,653.24 L74.11,653.23 L74.61,653.22 L75.11,653.21 L75.62,653.20 L76.12,653.20 L76.62,653.19 L77.12,653.18 L77.63,653.17 L78.13,653.16 L78.63,653.15 L79.13,653.13 L79.64,653.12 L80.14,653.11 L80.64,653.10 L81.14,653.08 L81.65,653.07 L82.15,653.05 L82.65,653.04 L83.15,653.02 L83.66,653.00 L84.16,652.98 L84.66,652.96 L85.16,652.94 L85.67,652.92 L86.17,652.89 L86.67,652.87 L87.17,652.84 L87.68,652.81 L88.18,652.78 L88.68,652.75 L89.18,652.71 L89.68,652.68 L90.19,652.64 L90.69,652.59 L91.19,652.55 L91.69,652.50 L92.20,652.44 L92.70,652.39 L93.20,652.32 L93.70,652.26 L94.21,652.18 L94.71,652.10 L95.21,652.01 L95.71,651.92 L96.22,651.81 L96.72,651.69 L97.22,651.55 L97.72,651.40 L98.23,651.22 L98.73,651.01 L99.23,650.75 L99.73,650.43 L100.24,650.04 L100.74,649.54 L101.24,648.92 L101.74,648.14 L102.25,647.16 L102.75,645.95 L103.25,644.49 L103.75,642.74 L104.26,640.69 L104.76,638.36 L105.26,635.77 L105.76,633.00 L106.26,630.11 L106.77,627.24 L107.27,624.52 L107.77,622.11 L108.27,620.14 L108.78,618.76 L109.28,618.07 L109.78,618.12 L110.28,618.90 L110.79,620.35 L111.29,622.38 L111.79,624.84 L112.29,627.59 L112.80,630.47 L113.30,633.34 L113.80,636.10 L114.30,638.66 L114.81,640.95 L115.31,642.96 L115.81,644.68 L116.31,646.11 L116.82,647.29 L117.32,648.24 L117.82,649.00 L118.32,649.61 L118.83,650.09 L119.33,650.47 L119.83,650.78 L120.33,651.03 L120.84,651.24 L121.34,651.42 L121.84,651.57 L122.34,651.71 L122.84,651.82 L123.35,651.93 L123.85,652.03 L124.35,652.11 L124.85,652.19 L125.36,652.26 L125.86,652.33 L126.36,652.39 L126.86,652.45 L127.37,652.50 L127.87,652.55 L128.37,652.60 L128.87,652.64 L129.38,652.68 L129.88,652.72 L130.38,652.75 L130.88,652.79 L131.39,652.82 L131.89,652.85 L132.39,652.87 L132.89,652.90 L133.40,652.92 L133.90,652.94 L134.40,652.97 L134.90,652.99 L135.41,653.00 L135.91,653.02 L136.41,653.04 L136.91,653.05 L137.42,653.07 L137.92,653.08 L138.42,653.10 L138.92,653.11 L139.42,653.12 L139.93,653.14 L140.43,653.15 L140.93,653.16 L141.43,653.17 L141.94,653.18 L142.44,653.19 L142.94,653.20 L143.44,653.21 L143.95,653.21 L144.45,653.22 L144.95,653.23 L145.45,653.24 L145.96,653.24 L146.46,653.25 L146.96,653.26 L147.46,653.26 L147.97,653.27 L148.47,653.28 L148.97,653.28 L149.47,653.29 L149.98,653.29 L150.48,653.30 L150.98,653.30 L151.48,653.31 L151.99,653.31 L152.49,653.31 L152.99,653.32 L153.49,653.32 L154.00,653.33 L154.50,653.33 L155.00,653.33" fill="none" stroke="#c3304b" stroke-width="1.0" clip-path="url(#fclip1)" stroke-linejoin="round"/>
<path d="M72.10,674.60 L72.60,674.60 L73.10,674.60 L73.61,674.60 L74.11,674.60 L74.61,674.60 L75.11,674.60 L75.62,674.60 L76.12,674.60 L76.62,674.60 L77.12,674.60 L77.63,674.60 L78.13,674.60 L78.63,674.60 L79.13,674.60 L79.64,674.60 L80.14,674.60 L80.64,674.60 L81.14,674.60 L81.65,674.60 L82.15,674.60 L82.65,674.60 L83.15,674.60 L83.66,674.60 L84.16,674.60 L84.66,674.60 L85.16,674.60 L85.67,674.60 L86.17,674.60 L86.67,674.60 L87.17,674.60 L87.68,674.60 L88.18,674.60 L88.68,674.60 L89.18,674.60 L89.68,674.60 L90.19,674.60 L90.69,674.60 L91.19,674.60 L91.69,674.60 L92.20,674.60 L92.70,674.60 L93.20,674.60 L93.70,674.59 L94.21,674.59 L94.71,674.58 L95.21,674.57 L95.71,674.56 L96.22,674.53 L96.72,674.50 L97.22,674.44 L97.72,674.37 L98.23,674.26 L98.73,674.10 L99.23,673.89 L99.73,673.61 L100.24,673.23 L100.74,672.73 L101.24,672.09 L101.74,671.29 L102.25,670.29 L102.75,669.08 L103.25,667.63 L103.75,665.93 L104.26,663.97 L104.76,661.77 L105.26,659.35 L105.76,656.74 L106.26,653.99 L106.77,651.17 L107.27,648.37 L107.77,645.67 L108.27,643.17 L108.78,640.96 L109.28,639.13 L109.78,637.75 L110.28,636.90 L110.79,636.60 L111.29,636.87 L111.79,637.70 L112.29,639.04 L112.80,640.85 L113.30,643.04 L113.80,645.53 L114.30,648.22 L114.81,651.02 L115.31,653.84 L115.81,656.59 L116.31,659.21 L116.82,661.65 L117.32,663.86 L117.82,665.83 L118.32,667.54 L118.83,669.01 L119.33,670.23 L119.83,671.24 L120.33,672.05 L120.84,672.70 L121.34,673.20 L121.84,673.59 L122.34,673.88 L122.84,674.09 L123.35,674.25 L123.85,674.36 L124.35,674.44 L124.85,674.49 L125.36,674.53 L125.86,674.56 L126.36,674.57 L126.86,674.58 L127.37,674.59 L127.87,674.59 L128.37,674.60 L128.87,674.60 L129.38,674.60 L129.88,674.60 L130.38,674.60 L130.88,674.60 L131.39,674.60 L131.89,674.60 L132.39,674.60 L132.89,674.60 L133.40,674.60 L133.90,674.60 L134.40,674.60 L134.90,674.60 L135.41,674.60 L135.91,674.60 L136.41,674.60 L136.91,674.60 L137.42,674.60 L137.92,674.60 L138.42,674.60 L138.92,674.60 L139.42,674.60 L139.93,674.60 L140.43,674.60 L140.93,674.60 L141.43,674.60 L141.94,674.60 L142.44,674.60 L142.94,674.60 L143.44,674.60 L143.95,674.60 L144.45,674.60 L144.95,674.60 L145.45,674.60 L145.96,674.60 L146.46,674.60 L146.96,674.60 L147.46,674.60 L147.97,674.60 L148.47,674.60 L148.97,674.60 L149.47,674.60 L149.98,674.60 L150.48,674.60 L150.98,674.60 L151.48,674.60 L151.99,674.60 L152.49,674.60 L152.99,674.60 L153.49,674.60 L154.00,674.60 L154.50,674.60 L155.00,674.60 L155.00,674.60 L72.10,674.60 Z" fill="#cfe1f4" stroke="none" stroke-width="1" clip-path="url(#fclip1)" fill-opacity="0.85"/>
<path d="M72.10,674.60 L72.60,674.60 L73.10,674.60 L73.61,674.60 L74.11,674.60 L74.61,674.60 L75.11,674.60 L75.62,674.60 L76.12,674.60 L76.62,674.60 L77.12,674.60 L77.63,674.60 L78.13,674.60 L78.63,674.60 L79.13,674.60 L79.64,674.60 L80.14,674.60 L80.64,674.60 L81.14,674.60 L81.65,674.60 L82.15,674.60 L82.65,674.60 L83.15,674.60 L83.66,674.60 L84.16,674.60 L84.66,674.60 L85.16,674.60 L85.67,674.60 L86.17,674.60 L86.67,674.60 L87.17,674.60 L87.68,674.60 L88.18,674.60 L88.68,674.60 L89.18,674.60 L89.68,674.60 L90.19,674.60 L90.69,674.60 L91.19,674.60 L91.69,674.60 L92.20,674.60 L92.70,674.60 L93.20,674.60 L93.70,674.59 L94.21,674.59 L94.71,674.58 L95.21,674.57 L95.71,674.56 L96.22,674.53 L96.72,674.50 L97.22,674.44 L97.72,674.37 L98.23,674.26 L98.73,674.10 L99.23,673.89 L99.73,673.61 L100.24,673.23 L100.74,672.73 L101.24,672.09 L101.74,671.29 L102.25,670.29 L102.75,669.08 L103.25,667.63 L103.75,665.93 L104.26,663.97 L104.76,661.77 L105.26,659.35 L105.76,656.74 L106.26,653.99 L106.77,651.17 L107.27,648.37 L107.77,645.67 L108.27,643.17 L108.78,640.96 L109.28,639.13 L109.78,637.75 L110.28,636.90 L110.79,636.60 L111.29,636.87 L111.79,637.70 L112.29,639.04 L112.80,640.85 L113.30,643.04 L113.80,645.53 L114.30,648.22 L114.81,651.02 L115.31,653.84 L115.81,656.59 L116.31,659.21 L116.82,661.65 L117.32,663.86 L117.82,665.83 L118.32,667.54 L118.83,669.01 L119.33,670.23 L119.83,671.24 L120.33,672.05 L120.84,672.70 L121.34,673.20 L121.84,673.59 L122.34,673.88 L122.84,674.09 L123.35,674.25 L123.85,674.36 L124.35,674.44 L124.85,674.49 L125.36,674.53 L125.86,674.56 L126.36,674.57 L126.86,674.58 L127.37,674.59 L127.87,674.59 L128.37,674.60 L128.87,674.60 L129.38,674.60 L129.88,674.60 L130.38,674.60 L130.88,674.60 L131.39,674.60 L131.89,674.60 L132.39,674.60 L132.89,674.60 L133.40,674.60 L133.90,674.60 L134.40,674.60 L134.90,674.60 L135.41,674.60 L135.91,674.60 L136.41,674.60 L136.91,674.60 L137.42,674.60 L137.92,674.60 L138.42,674.60 L138.92,674.60 L139.42,674.60 L139.93,674.60 L140.43,674.60 L140.93,674.60 L141.43,674.60 L141.94,674.60 L142.44,674.60 L142.94,674.60 L143.44,674.60 L143.95,674.60 L144.45,674.60 L144.95,674.60 L145.45,674.60 L145.96,674.60 L146.46,674.60 L146.96,674.60 L147.46,674.60 L147.97,674.60 L148.47,674.60 L148.97,674.60 L149.47,674.60 L149.98,674.60 L150.48,674.60 L150.98,674.60 L151.48,674.60 L151.99,674.60 L152.49,674.60 L152.99,674.60 L153.49,674.60 L154.00,674.60 L154.50,674.60 L155.00,674.60" fill="none" stroke="#6dabe6" stroke-width="1.0" clip-path="url(#fclip1)" stroke-linejoin="round"/>
<line x1="122.70" y1="590.60" x2="122.70" y2="674.60" stroke="#222" stroke-width="1.0" stroke-dasharray="2.6,1.6"/>
<rect x="72.10" y="590.60" width="82.90" height="84.00" fill="none" stroke="#231f20" stroke-width="1.2"/>
<rect x="133.40" y="615.00" width="18.90" height="8.10" fill="#fff" stroke="#333" stroke-width="0.75"/>
<text x="142.85" y="621.20" font-size="5.9" text-anchor="middle" textLength="15.88" lengthAdjust="spacingAndGlyphs" stroke="#231f20" stroke-width="0.1">2.1 %</text>
<rect x="133.40" y="638.50" width="18.90" height="8.00" fill="#fff" stroke="#333" stroke-width="0.75"/>
<text x="142.85" y="644.60" font-size="5.9" text-anchor="middle" textLength="15.88" lengthAdjust="spacingAndGlyphs" stroke="#231f20" stroke-width="0.1">1.2 %</text>
<rect x="133.40" y="659.50" width="18.90" height="7.20" fill="#fff" stroke="#333" stroke-width="0.75"/>
<text x="142.85" y="664.80" font-size="5.9" text-anchor="middle" textLength="15.88" lengthAdjust="spacingAndGlyphs" stroke="#231f20" stroke-width="0.1">0.9 %</text>
<text x="103.30" y="585.80" font-size="6.7" textLength="20.40" lengthAdjust="spacingAndGlyphs" stroke="#231f20" stroke-width="0.1">DMSO</text>
<path d="M87.86,674.60v2.0M91.70,674.60v2.0M94.42,674.60v2.0M96.54,674.60v2.0M98.26,674.60v2.0M99.72,674.60v2.0M100.99,674.60v2.0M102.10,674.60v2.0M109.66,674.60v2.0M113.50,674.60v2.0M116.22,674.60v2.0M118.34,674.60v2.0M120.06,674.60v2.0M121.52,674.60v2.0M122.79,674.60v2.0M123.90,674.60v2.0M131.46,674.60v2.0M135.30,674.60v2.0M138.02,674.60v2.0M140.14,674.60v2.0M141.86,674.60v2.0M143.32,674.60v2.0M144.59,674.60v2.0M145.70,674.60v2.0M153.26,674.60v2.0" fill="none" stroke="#222" stroke-width="0.7" />
<path d="M74.60,674.60v2.0M76.60,674.60v2.0M80.50,674.60v2.0M84.00,674.60v2.0M86.50,674.60v2.0M88.50,674.60v2.0M92.50,674.60v2.0M94.50,674.60v2.0M97.00,674.60v2.0" fill="none" stroke="#222" stroke-width="0.7" />
<line x1="77.50" y1="674.60" x2="77.50" y2="676.80" stroke="#333" stroke-width="0.7" />
<text x="81.50" y="686.00" font-size="6.8" text-anchor="end" textLength="11.50" lengthAdjust="spacingAndGlyphs" stroke="#231f20" stroke-width="0.1">−10</text>
<text x="81.70" y="683.00" font-size="4.2" textLength="2.40" lengthAdjust="spacingAndGlyphs" stroke="#231f20" stroke-width="0.1">3</text>
<line x1="90.40" y1="674.60" x2="90.40" y2="676.80" stroke="#333" stroke-width="0.7" />
<text x="90.40" y="685.60" font-size="6.3" text-anchor="middle" stroke="#231f20" stroke-width="0.1">0</text>
<line x1="103.10" y1="674.60" x2="103.10" y2="676.80" stroke="#333" stroke-width="0.7" />
<text x="103.40" y="686.00" font-size="7.0" text-anchor="middle" textLength="6.30" lengthAdjust="spacingAndGlyphs" stroke="#231f20" stroke-width="0.1">10</text>
<text x="106.70" y="683.20" font-size="4.6" textLength="2.60" lengthAdjust="spacingAndGlyphs" stroke="#231f20" stroke-width="0.1">3</text>
<line x1="126.00" y1="674.60" x2="126.00" y2="676.80" stroke="#333" stroke-width="0.7" />
<text x="126.30" y="686.00" font-size="7.0" text-anchor="middle" textLength="6.30" lengthAdjust="spacingAndGlyphs" stroke="#231f20" stroke-width="0.1">10</text>
<text x="129.60" y="683.20" font-size="4.6" textLength="2.60" lengthAdjust="spacingAndGlyphs" stroke="#231f20" stroke-width="0.1">4</text>
<line x1="146.70" y1="674.60" x2="146.70" y2="676.80" stroke="#333" stroke-width="0.7" />
<text x="147.00" y="686.00" font-size="7.0" text-anchor="middle" textLength="6.30" lengthAdjust="spacingAndGlyphs" stroke="#231f20" stroke-width="0.1">10</text>
<text x="150.30" y="683.20" font-size="4.6" textLength="2.60" lengthAdjust="spacingAndGlyphs" stroke="#231f20" stroke-width="0.1">5</text>
<text x="100.40" y="698.20" font-size="8.6" textLength="26.40" lengthAdjust="spacingAndGlyphs" stroke="#231f20" stroke-width="0.1">BAX 6A7</text>
<clipPath id="fclip2"><rect x="164.8" y="590.7" width="83.60" height="84.60"/></clipPath>
<path d="M164.80,633.00 L165.30,633.00 L165.80,633.00 L166.30,633.00 L166.80,633.00 L167.30,633.00 L167.80,633.00 L168.30,633.00 L168.80,633.00 L169.31,633.00 L169.81,633.00 L170.31,633.00 L170.81,633.00 L171.31,633.00 L171.81,633.00 L172.31,633.00 L172.81,633.00 L173.31,633.00 L173.81,633.00 L174.31,633.00 L174.81,633.00 L175.31,633.00 L175.81,633.00 L176.31,633.00 L176.81,633.00 L177.31,633.00 L177.82,633.00 L178.32,633.00 L178.82,633.00 L179.32,633.00 L179.82,633.00 L180.32,633.00 L180.82,633.00 L181.32,633.00 L181.82,633.00 L182.32,633.00 L182.82,632.99 L183.32,632.99 L183.82,632.99 L184.32,632.99 L184.82,632.98 L185.32,632.98 L185.83,632.97 L186.33,632.96 L186.83,632.94 L187.33,632.93 L187.83,632.91 L188.33,632.88 L188.83,632.84 L189.33,632.79 L189.83,632.72 L190.33,632.63 L190.83,632.49 L191.33,632.31 L191.83,632.04 L192.33,631.67 L192.83,631.16 L193.33,630.46 L193.83,629.53 L194.34,628.32 L194.84,626.81 L195.34,624.97 L195.84,622.82 L196.34,620.42 L196.84,617.86 L197.34,615.25 L197.84,612.75 L198.34,610.53 L198.84,608.74 L199.34,607.51 L199.84,606.91 L200.34,606.96 L200.84,607.63 L201.34,608.81 L201.84,610.37 L202.34,612.15 L202.85,614.00 L203.35,615.78 L203.85,617.38 L204.35,618.73 L204.85,619.80 L205.35,620.57 L205.85,621.05 L206.35,621.27 L206.85,621.25 L207.35,621.03 L207.85,620.62 L208.35,620.07 L208.85,619.40 L209.35,618.66 L209.85,617.87 L210.35,617.11 L210.86,616.41 L211.36,615.83 L211.86,615.44 L212.36,615.28 L212.86,615.39 L213.36,615.77 L213.86,616.44 L214.36,617.37 L214.86,618.52 L215.36,619.84 L215.86,621.28 L216.36,622.76 L216.86,624.23 L217.36,625.64 L217.86,626.94 L218.36,628.10 L218.86,629.12 L219.37,629.98 L219.87,630.69 L220.37,631.26 L220.87,631.71 L221.37,632.05 L221.87,632.31 L222.37,632.51 L222.87,632.65 L223.37,632.75 L223.87,632.82 L224.37,632.87 L224.87,632.91 L225.37,632.94 L225.87,632.95 L226.37,632.97 L226.87,632.98 L227.37,632.98 L227.88,632.99 L228.38,632.99 L228.88,632.99 L229.38,633.00 L229.88,633.00 L230.38,633.00 L230.88,633.00 L231.38,633.00 L231.88,633.00 L232.38,633.00 L232.88,633.00 L233.38,633.00 L233.88,633.00 L234.38,633.00 L234.88,633.00 L235.38,633.00 L235.89,633.00 L236.39,633.00 L236.89,633.00 L237.39,633.00 L237.89,633.00 L238.39,633.00 L238.89,633.00 L239.39,633.00 L239.89,633.00 L240.39,633.00 L240.89,633.00 L241.39,633.00 L241.89,633.00 L242.39,633.00 L242.89,633.00 L243.39,633.00 L243.89,633.00 L244.40,633.00 L244.90,633.00 L245.40,633.00 L245.90,633.00 L246.40,633.00 L246.90,633.00 L247.40,633.00 L247.90,633.00 L248.40,633.00 L248.40,633.00 L164.80,633.00 Z" fill="#f3d7ac" stroke="none" stroke-width="1" clip-path="url(#fclip2)" fill-opacity="0.85"/>
<path d="M164.80,633.00 L165.30,633.00 L165.80,633.00 L166.30,633.00 L166.80,633.00 L167.30,633.00 L167.80,633.00 L168.30,633.00 L168.80,633.00 L169.31,633.00 L169.81,633.00 L170.31,633.00 L170.81,633.00 L171.31,633.00 L171.81,633.00 L172.31,633.00 L172.81,633.00 L173.31,633.00 L173.81,633.00 L174.31,633.00 L174.81,633.00 L175.31,633.00 L175.81,633.00 L176.31,633.00 L176.81,633.00 L177.31,633.00 L177.82,633.00 L178.32,633.00 L178.82,633.00 L179.32,633.00 L179.82,633.00 L180.32,633.00 L180.82,633.00 L181.32,633.00 L181.82,633.00 L182.32,633.00 L182.82,632.99 L183.32,632.99 L183.82,632.99 L184.32,632.99 L184.82,632.98 L185.32,632.98 L185.83,632.97 L186.33,632.96 L186.83,632.94 L187.33,632.93 L187.83,632.91 L188.33,632.88 L188.83,632.84 L189.33,632.79 L189.83,632.72 L190.33,632.63 L190.83,632.49 L191.33,632.31 L191.83,632.04 L192.33,631.67 L192.83,631.16 L193.33,630.46 L193.83,629.53 L194.34,628.32 L194.84,626.81 L195.34,624.97 L195.84,622.82 L196.34,620.42 L196.84,617.86 L197.34,615.25 L197.84,612.75 L198.34,610.53 L198.84,608.74 L199.34,607.51 L199.84,606.91 L200.34,606.96 L200.84,607.63 L201.34,608.81 L201.84,610.37 L202.34,612.15 L202.85,614.00 L203.35,615.78 L203.85,617.38 L204.35,618.73 L204.85,619.80 L205.35,620.57 L205.85,621.05 L206.35,621.27 L206.85,621.25 L207.35,621.03 L207.85,620.62 L208.35,620.07 L208.85,619.40 L209.35,618.66 L209.85,617.87 L210.35,617.11 L210.86,616.41 L211.36,615.83 L211.86,615.44 L212.36,615.28 L212.86,615.39 L213.36,615.77 L213.86,616.44 L214.36,617.37 L214.86,618.52 L215.36,619.84 L215.86,621.28 L216.36,622.76 L216.86,624.23 L217.36,625.64 L217.86,626.94 L218.36,628.10 L218.86,629.12 L219.37,629.98 L219.87,630.69 L220.37,631.26 L220.87,631.71 L221.37,632.05 L221.87,632.31 L222.37,632.51 L222.87,632.65 L223.37,632.75 L223.87,632.82 L224.37,632.87 L224.87,632.91 L225.37,632.94 L225.87,632.95 L226.37,632.97 L226.87,632.98 L227.37,632.98 L227.88,632.99 L228.38,632.99 L228.88,632.99 L229.38,633.00 L229.88,633.00 L230.38,633.00 L230.88,633.00 L231.38,633.00 L231.88,633.00 L232.38,633.00 L232.88,633.00 L233.38,633.00 L233.88,633.00 L234.38,633.00 L234.88,633.00 L235.38,633.00 L235.89,633.00 L236.39,633.00 L236.89,633.00 L237.39,633.00 L237.89,633.00 L238.39,633.00 L238.89,633.00 L239.39,633.00 L239.89,633.00 L240.39,633.00 L240.89,633.00 L241.39,633.00 L241.89,633.00 L242.39,633.00 L242.89,633.00 L243.39,633.00 L243.89,633.00 L244.40,633.00 L244.90,633.00 L245.40,633.00 L245.90,633.00 L246.40,633.00 L246.90,633.00 L247.40,633.00 L247.90,633.00 L248.40,633.00" fill="none" stroke="#e9a53f" stroke-width="1.0" clip-path="url(#fclip2)" stroke-linejoin="round"/>
<path d="M164.80,653.10 L165.30,653.10 L165.80,653.10 L166.30,653.10 L166.80,653.10 L167.30,653.10 L167.80,653.10 L168.30,653.10 L168.80,653.10 L169.31,653.10 L169.81,653.10 L170.31,653.10 L170.81,653.10 L171.31,653.10 L171.81,653.10 L172.31,653.10 L172.81,653.10 L173.31,653.10 L173.81,653.10 L174.31,653.10 L174.81,653.10 L175.31,653.10 L175.81,653.10 L176.31,653.10 L176.81,653.10 L177.31,653.10 L177.82,653.10 L178.32,653.10 L178.82,653.10 L179.32,653.10 L179.82,653.10 L180.32,653.10 L180.82,653.10 L181.32,653.10 L181.82,653.10 L182.32,653.10 L182.82,653.10 L183.32,653.10 L183.82,653.10 L184.32,653.10 L184.82,653.10 L185.32,653.09 L185.83,653.09 L186.33,653.09 L186.83,653.08 L187.33,653.07 L187.83,653.06 L188.33,653.04 L188.83,653.02 L189.33,652.97 L189.83,652.90 L190.33,652.78 L190.83,652.58 L191.33,652.28 L191.83,651.81 L192.33,651.11 L192.83,650.09 L193.33,648.68 L193.83,646.78 L194.34,644.35 L194.84,641.38 L195.34,637.90 L195.84,634.06 L196.34,630.07 L196.84,626.18 L197.34,622.73 L197.84,620.00 L198.34,618.24 L198.84,617.62 L199.34,618.16 L199.84,619.78 L200.34,622.27 L200.84,625.36 L201.34,628.74 L201.84,632.12 L202.34,635.27 L202.85,638.01 L203.35,640.26 L203.85,641.99 L204.35,643.24 L204.85,644.04 L205.35,644.49 L205.85,644.66 L206.35,644.62 L206.85,644.42 L207.35,644.15 L207.85,643.83 L208.35,643.54 L208.85,643.32 L209.35,643.20 L209.85,643.23 L210.35,643.43 L210.86,643.80 L211.36,644.35 L211.86,645.03 L212.36,645.84 L212.86,646.71 L213.36,647.61 L213.86,648.50 L214.36,649.34 L214.86,650.10 L215.36,650.76 L215.86,651.32 L216.36,651.78 L216.86,652.14 L217.36,652.42 L217.86,652.63 L218.36,652.78 L218.86,652.88 L219.37,652.96 L219.87,653.01 L220.37,653.04 L220.87,653.06 L221.37,653.08 L221.87,653.08 L222.37,653.09 L222.87,653.09 L223.37,653.10 L223.87,653.10 L224.37,653.10 L224.87,653.10 L225.37,653.10 L225.87,653.10 L226.37,653.10 L226.87,653.10 L227.37,653.10 L227.88,653.10 L228.38,653.10 L228.88,653.10 L229.38,653.10 L229.88,653.10 L230.38,653.10 L230.88,653.10 L231.38,653.10 L231.88,653.10 L232.38,653.10 L232.88,653.10 L233.38,653.10 L233.88,653.10 L234.38,653.10 L234.88,653.10 L235.38,653.10 L235.89,653.10 L236.39,653.10 L236.89,653.10 L237.39,653.10 L237.89,653.10 L238.39,653.10 L238.89,653.10 L239.39,653.10 L239.89,653.10 L240.39,653.10 L240.89,653.10 L241.39,653.10 L241.89,653.10 L242.39,653.10 L242.89,653.10 L243.39,653.10 L243.89,653.10 L244.40,653.10 L244.90,653.10 L245.40,653.10 L245.90,653.10 L246.40,653.10 L246.90,653.10 L247.40,653.10 L247.90,653.10 L248.40,653.10 L248.40,653.10 L164.80,653.10 Z" fill="#d9a9a4" stroke="none" stroke-width="1" clip-path="url(#fclip2)" fill-opacity="0.85"/>
<path d="M164.80,653.10 L165.30,653.10 L165.80,653.10 L166.30,653.10 L166.80,653.10 L167.30,653.10 L167.80,653.10 L168.30,653.10 L168.80,653.10 L169.31,653.10 L169.81,653.10 L170.31,653.10 L170.81,653.10 L171.31,653.10 L171.81,653.10 L172.31,653.10 L172.81,653.10 L173.31,653.10 L173.81,653.10 L174.31,653.10 L174.81,653.10 L175.31,653.10 L175.81,653.10 L176.31,653.10 L176.81,653.10 L177.31,653.10 L177.82,653.10 L178.32,653.10 L178.82,653.10 L179.32,653.10 L179.82,653.10 L180.32,653.10 L180.82,653.10 L181.32,653.10 L181.82,653.10 L182.32,653.10 L182.82,653.10 L183.32,653.10 L183.82,653.10 L184.32,653.10 L184.82,653.10 L185.32,653.09 L185.83,653.09 L186.33,653.09 L186.83,653.08 L187.33,653.07 L187.83,653.06 L188.33,653.04 L188.83,653.02 L189.33,652.97 L189.83,652.90 L190.33,652.78 L190.83,652.58 L191.33,652.28 L191.83,651.81 L192.33,651.11 L192.83,650.09 L193.33,648.68 L193.83,646.78 L194.34,644.35 L194.84,641.38 L195.34,637.90 L195.84,634.06 L196.34,630.07 L196.84,626.18 L197.34,622.73 L197.84,620.00 L198.34,618.24 L198.84,617.62 L199.34,618.16 L199.84,619.78 L200.34,622.27 L200.84,625.36 L201.34,628.74 L201.84,632.12 L202.34,635.27 L202.85,638.01 L203.35,640.26 L203.85,641.99 L204.35,643.24 L204.85,644.04 L205.35,644.49 L205.85,644.66 L206.35,644.62 L206.85,644.42 L207.35,644.15 L207.85,643.83 L208.35,643.54 L208.85,643.32 L209.35,643.20 L209.85,643.23 L210.35,643.43 L210.86,643.80 L211.36,644.35 L211.86,645.03 L212.36,645.84 L212.86,646.71 L213.36,647.61 L213.86,648.50 L214.36,649.34 L214.86,650.10 L215.36,650.76 L215.86,651.32 L216.36,651.78 L216.86,652.14 L217.36,652.42 L217.86,652.63 L218.36,652.78 L218.86,652.88 L219.37,652.96 L219.87,653.01 L220.37,653.04 L220.87,653.06 L221.37,653.08 L221.87,653.08 L222.37,653.09 L222.87,653.09 L223.37,653.10 L223.87,653.10 L224.37,653.10 L224.87,653.10 L225.37,653.10 L225.87,653.10 L226.37,653.10 L226.87,653.10 L227.37,653.10 L227.88,653.10 L228.38,653.10 L228.88,653.10 L229.38,653.10 L229.88,653.10 L230.38,653.10 L230.88,653.10 L231.38,653.10 L231.88,653.10 L232.38,653.10 L232.88,653.10 L233.38,653.10 L233.88,653.10 L234.38,653.10 L234.88,653.10 L235.38,653.10 L235.89,653.10 L236.39,653.10 L236.89,653.10 L237.39,653.10 L237.89,653.10 L238.39,653.10 L238.89,653.10 L239.39,653.10 L239.89,653.10 L240.39,653.10 L240.89,653.10 L241.39,653.10 L241.89,653.10 L242.39,653.10 L242.89,653.10 L243.39,653.10 L243.89,653.10 L244.40,653.10 L244.90,653.10 L245.40,653.10 L245.90,653.10 L246.40,653.10 L246.90,653.10 L247.40,653.10 L247.90,653.10 L248.40,653.10" fill="none" stroke="#c3304b" stroke-width="1.0" clip-path="url(#fclip2)" stroke-linejoin="round"/>
<path d="M164.80,675.30 L165.30,675.30 L165.80,675.30 L166.30,675.30 L166.80,675.30 L167.30,675.30 L167.80,675.30 L168.30,675.30 L168.80,675.30 L169.31,675.30 L169.81,675.30 L170.31,675.30 L170.81,675.30 L171.31,675.30 L171.81,675.30 L172.31,675.30 L172.81,675.30 L173.31,675.30 L173.81,675.30 L174.31,675.30 L174.81,675.30 L175.31,675.30 L175.81,675.30 L176.31,675.30 L176.81,675.30 L177.31,675.30 L177.82,675.30 L178.32,675.30 L178.82,675.30 L179.32,675.30 L179.82,675.30 L180.32,675.30 L180.82,675.30 L181.32,675.30 L181.82,675.30 L182.32,675.30 L182.82,675.30 L183.32,675.30 L183.82,675.30 L184.32,675.30 L184.82,675.30 L185.32,675.30 L185.83,675.30 L186.33,675.30 L186.83,675.30 L187.33,675.30 L187.83,675.29 L188.33,675.29 L188.83,675.28 L189.33,675.27 L189.83,675.24 L190.33,675.20 L190.83,675.11 L191.33,674.97 L191.83,674.72 L192.33,674.31 L192.83,673.68 L193.33,672.71 L193.83,671.32 L194.34,669.41 L194.84,666.89 L195.34,663.75 L195.84,660.04 L196.34,655.89 L196.84,651.56 L197.34,647.36 L197.84,643.67 L198.34,640.83 L198.84,639.13 L199.34,638.74 L199.84,639.65 L200.34,641.74 L200.84,644.72 L201.34,648.25 L201.84,651.98 L202.34,655.59 L202.85,658.83 L203.35,661.57 L203.85,663.74 L204.35,665.38 L204.85,666.53 L205.35,667.28 L205.85,667.73 L206.35,667.95 L206.85,668.00 L207.35,667.92 L207.85,667.75 L208.35,667.53 L208.85,667.29 L209.35,667.06 L209.85,666.90 L210.35,666.82 L210.86,666.88 L211.36,667.09 L211.86,667.47 L212.36,668.00 L212.86,668.66 L213.36,669.42 L213.86,670.23 L214.36,671.05 L214.86,671.84 L215.36,672.56 L215.86,673.19 L216.36,673.72 L216.86,674.16 L217.36,674.49 L217.86,674.75 L218.36,674.93 L218.86,675.06 L219.37,675.15 L219.87,675.21 L220.37,675.24 L220.87,675.27 L221.37,675.28 L221.87,675.29 L222.37,675.29 L222.87,675.30 L223.37,675.30 L223.87,675.30 L224.37,675.30 L224.87,675.30 L225.37,675.30 L225.87,675.30 L226.37,675.30 L226.87,675.30 L227.37,675.30 L227.88,675.30 L228.38,675.30 L228.88,675.30 L229.38,675.30 L229.88,675.30 L230.38,675.30 L230.88,675.30 L231.38,675.30 L231.88,675.30 L232.38,675.30 L232.88,675.30 L233.38,675.30 L233.88,675.30 L234.38,675.30 L234.88,675.30 L235.38,675.30 L235.89,675.30 L236.39,675.30 L236.89,675.30 L237.39,675.30 L237.89,675.30 L238.39,675.30 L238.89,675.30 L239.39,675.30 L239.89,675.30 L240.39,675.30 L240.89,675.30 L241.39,675.30 L241.89,675.30 L242.39,675.30 L242.89,675.30 L243.39,675.30 L243.89,675.30 L244.40,675.30 L244.90,675.30 L245.40,675.30 L245.90,675.30 L246.40,675.30 L246.90,675.30 L247.40,675.30 L247.90,675.30 L248.40,675.30 L248.40,675.30 L164.80,675.30 Z" fill="#cfe1f4" stroke="none" stroke-width="1" clip-path="url(#fclip2)" fill-opacity="0.85"/>
<path d="M164.80,675.30 L165.30,675.30 L165.80,675.30 L166.30,675.30 L166.80,675.30 L167.30,675.30 L167.80,675.30 L168.30,675.30 L168.80,675.30 L169.31,675.30 L169.81,675.30 L170.31,675.30 L170.81,675.30 L171.31,675.30 L171.81,675.30 L172.31,675.30 L172.81,675.30 L173.31,675.30 L173.81,675.30 L174.31,675.30 L174.81,675.30 L175.31,675.30 L175.81,675.30 L176.31,675.30 L176.81,675.30 L177.31,675.30 L177.82,675.30 L178.32,675.30 L178.82,675.30 L179.32,675.30 L179.82,675.30 L180.32,675.30 L180.82,675.30 L181.32,675.30 L181.82,675.30 L182.32,675.30 L182.82,675.30 L183.32,675.30 L183.82,675.30 L184.32,675.30 L184.82,675.30 L185.32,675.30 L185.83,675.30 L186.33,675.30 L186.83,675.30 L187.33,675.30 L187.83,675.29 L188.33,675.29 L188.83,675.28 L189.33,675.27 L189.83,675.24 L190.33,675.20 L190.83,675.11 L191.33,674.97 L191.83,674.72 L192.33,674.31 L192.83,673.68 L193.33,672.71 L193.83,671.32 L194.34,669.41 L194.84,666.89 L195.34,663.75 L195.84,660.04 L196.34,655.89 L196.84,651.56 L197.34,647.36 L197.84,643.67 L198.34,640.83 L198.84,639.13 L199.34,638.74 L199.84,639.65 L200.34,641.74 L200.84,644.72 L201.34,648.25 L201.84,651.98 L202.34,655.59 L202.85,658.83 L203.35,661.57 L203.85,663.74 L204.35,665.38 L204.85,666.53 L205.35,667.28 L205.85,667.73 L206.35,667.95 L206.85,668.00 L207.35,667.92 L207.85,667.75 L208.35,667.53 L208.85,667.29 L209.35,667.06 L209.85,666.90 L210.35,666.82 L210.86,666.88 L211.36,667.09 L211.86,667.47 L212.36,668.00 L212.86,668.66 L213.36,669.42 L213.86,670.23 L214.36,671.05 L214.86,671.84 L215.36,672.56 L215.86,673.19 L216.36,673.72 L216.86,674.16 L217.36,674.49 L217.86,674.75 L218.36,674.93 L218.86,675.06 L219.37,675.15 L219.87,675.21 L220.37,675.24 L220.87,675.27 L221.37,675.28 L221.87,675.29 L222.37,675.29 L222.87,675.30 L223.37,675.30 L223.87,675.30 L224.37,675.30 L224.87,675.30 L225.37,675.30 L225.87,675.30 L226.37,675.30 L226.87,675.30 L227.37,675.30 L227.88,675.30 L228.38,675.30 L228.88,675.30 L229.38,675.30 L229.88,675.30 L230.38,675.30 L230.88,675.30 L231.38,675.30 L231.88,675.30 L232.38,675.30 L232.88,675.30 L233.38,675.30 L233.88,675.30 L234.38,675.30 L234.88,675.30 L235.38,675.30 L235.89,675.30 L236.39,675.30 L236.89,675.30 L237.39,675.30 L237.89,675.30 L238.39,675.30 L238.89,675.30 L239.39,675.30 L239.89,675.30 L240.39,675.30 L240.89,675.30 L241.39,675.30 L241.89,675.30 L242.39,675.30 L242.89,675.30 L243.39,675.30 L243.89,675.30 L244.40,675.30 L244.90,675.30 L245.40,675.30 L245.90,675.30 L246.40,675.30 L246.90,675.30 L247.40,675.30 L247.90,675.30 L248.40,675.30" fill="none" stroke="#6dabe6" stroke-width="1.0" clip-path="url(#fclip2)" stroke-linejoin="round"/>
<line x1="207.50" y1="590.70" x2="207.50" y2="675.30" stroke="#222" stroke-width="1.0" stroke-dasharray="2.6,1.6"/>
<rect x="164.80" y="590.70" width="83.60" height="84.60" fill="none" stroke="#231f20" stroke-width="1.2"/>
<rect x="224.50" y="615.40" width="18.60" height="7.60" fill="#fff" stroke="#333" stroke-width="0.75"/>
<text x="233.80" y="621.10" font-size="5.9" text-anchor="middle" textLength="15.62" lengthAdjust="spacingAndGlyphs" stroke="#231f20" stroke-width="0.1">35.7 %</text>
<rect x="224.50" y="639.30" width="18.60" height="7.40" fill="#fff" stroke="#333" stroke-width="0.75"/>
<text x="233.80" y="644.80" font-size="5.9" text-anchor="middle" textLength="15.62" lengthAdjust="spacingAndGlyphs" stroke="#231f20" stroke-width="0.1">17.8 %</text>
<rect x="224.50" y="660.00" width="18.60" height="6.80" fill="#fff" stroke="#333" stroke-width="0.75"/>
<text x="233.80" y="664.90" font-size="5.9" text-anchor="middle" textLength="15.62" lengthAdjust="spacingAndGlyphs" stroke="#231f20" stroke-width="0.1">15.1 %</text>
<text x="195.50" y="585.80" font-size="6.7" textLength="22.20" lengthAdjust="spacingAndGlyphs" stroke="#231f20" stroke-width="0.1">MCL1-i</text>
<path d="M166.71,675.30v2.0M167.98,675.30v2.0M169.10,675.30v2.0M176.68,675.30v2.0M180.53,675.30v2.0M183.27,675.30v2.0M185.38,675.30v2.0M187.12,675.30v2.0M188.58,675.30v2.0M189.85,675.30v2.0M190.97,675.30v2.0M198.55,675.30v2.0M202.40,675.30v2.0M205.13,675.30v2.0M207.25,675.30v2.0M208.98,675.30v2.0M210.45,675.30v2.0M211.71,675.30v2.0M212.83,675.30v2.0M220.42,675.30v2.0M224.27,675.30v2.0M227.00,675.30v2.0M229.12,675.30v2.0M230.85,675.30v2.0M232.31,675.30v2.0M233.58,675.30v2.0M234.70,675.30v2.0M242.28,675.30v2.0M246.13,675.30v2.0" fill="none" stroke="#222" stroke-width="0.7" />
<line x1="170.10" y1="675.30" x2="170.10" y2="677.50" stroke="#333" stroke-width="0.7" />
<text x="170.40" y="686.00" font-size="7.0" text-anchor="middle" textLength="6.30" lengthAdjust="spacingAndGlyphs" stroke="#231f20" stroke-width="0.1">10</text>
<text x="173.70" y="683.20" font-size="4.6" textLength="2.60" lengthAdjust="spacingAndGlyphs" stroke="#231f20" stroke-width="0.1">2</text>
<line x1="192.30" y1="675.30" x2="192.30" y2="677.50" stroke="#333" stroke-width="0.7" />
<text x="192.60" y="686.00" font-size="7.0" text-anchor="middle" textLength="6.30" lengthAdjust="spacingAndGlyphs" stroke="#231f20" stroke-width="0.1">10</text>
<text x="195.90" y="683.20" font-size="4.6" textLength="2.60" lengthAdjust="spacingAndGlyphs" stroke="#231f20" stroke-width="0.1">3</text>
<line x1="214.50" y1="675.30" x2="214.50" y2="677.50" stroke="#333" stroke-width="0.7" />
<text x="214.80" y="686.00" font-size="7.0" text-anchor="middle" textLength="6.30" lengthAdjust="spacingAndGlyphs" stroke="#231f20" stroke-width="0.1">10</text>
<text x="218.10" y="683.20" font-size="4.6" textLength="2.60" lengthAdjust="spacingAndGlyphs" stroke="#231f20" stroke-width="0.1">4</text>
<line x1="235.70" y1="675.30" x2="235.70" y2="677.50" stroke="#333" stroke-width="0.7" />
<text x="236.00" y="686.00" font-size="7.0" text-anchor="middle" textLength="6.30" lengthAdjust="spacingAndGlyphs" stroke="#231f20" stroke-width="0.1">10</text>
<text x="239.30" y="683.20" font-size="4.6" textLength="2.60" lengthAdjust="spacingAndGlyphs" stroke="#231f20" stroke-width="0.1">5</text>
<text x="193.40" y="698.20" font-size="8.6" textLength="26.40" lengthAdjust="spacingAndGlyphs" stroke="#231f20" stroke-width="0.1">BAX 6A7</text>
<clipPath id="fclip3"><rect x="264.2" y="590.7" width="84.30" height="84.00"/></clipPath>
<path d="M264.20,633.32 L264.70,633.30 L265.20,633.27 L265.71,633.24 L266.21,633.21 L266.71,633.17 L267.21,633.11 L267.71,633.06 L268.21,632.99 L268.72,632.91 L269.22,632.82 L269.72,632.71 L270.22,632.60 L270.72,632.47 L271.22,631.71 L271.73,631.99 L272.23,632.09 L272.73,631.38 L273.23,631.58 L273.73,631.68 L274.24,630.79 L274.74,630.91 L275.24,630.79 L275.74,630.49 L276.24,630.56 L276.74,629.82 L277.25,629.05 L277.75,628.62 L278.25,628.79 L278.75,628.60 L279.25,628.25 L279.76,626.57 L280.26,626.59 L280.76,625.31 L281.26,624.60 L281.76,623.24 L282.26,622.49 L282.77,621.67 L283.27,620.25 L283.77,618.49 L284.27,617.16 L284.77,614.76 L285.27,612.86 L285.78,610.77 L286.28,608.96 L286.78,606.58 L287.28,605.78 L287.78,603.43 L288.29,601.28 L288.79,601.13 L289.29,599.84 L289.79,599.12 L290.29,597.65 L290.79,596.87 L291.30,597.84 L291.80,597.34 L292.30,598.27 L292.80,598.99 L293.30,600.20 L293.81,603.12 L294.31,605.00 L294.81,605.95 L295.31,608.23 L295.81,610.34 L296.31,612.65 L296.82,615.23 L297.32,616.69 L297.82,618.48 L298.32,621.10 L298.82,622.01 L299.32,623.26 L299.83,625.10 L300.33,627.00 L300.83,627.98 L301.33,628.48 L301.83,629.89 L302.34,630.22 L302.84,631.62 L303.34,631.09 L303.84,632.66 L304.34,631.98 L304.84,632.55 L305.35,632.76 L305.85,632.92 L306.35,633.04 L306.85,633.14 L307.35,633.21 L307.86,633.26 L308.36,633.30 L308.86,633.33 L309.36,633.35 L309.86,633.37 L310.36,633.38 L310.87,633.38 L311.37,633.39 L311.87,633.39 L312.37,633.40 L312.87,633.40 L313.38,633.40 L313.88,633.40 L314.38,633.40 L314.88,633.40 L315.38,633.40 L315.88,633.40 L316.39,633.40 L316.89,633.40 L317.39,633.40 L317.89,633.40 L318.39,633.40 L318.89,633.40 L319.40,633.40 L319.90,633.40 L320.40,633.40 L320.90,633.40 L321.40,633.40 L321.91,633.40 L322.41,633.40 L322.91,633.40 L323.41,633.40 L323.91,633.40 L324.41,633.40 L324.92,633.40 L325.42,633.40 L325.92,633.40 L326.42,633.40 L326.92,633.40 L327.43,633.40 L327.93,633.40 L328.43,633.40 L328.93,633.40 L329.43,633.40 L329.93,633.40 L330.44,633.40 L330.94,633.40 L331.44,633.40 L331.94,633.40 L332.44,633.40 L332.94,633.40 L333.45,633.40 L333.95,633.40 L334.45,633.40 L334.95,633.40 L335.45,633.40 L335.96,633.40 L336.46,633.40 L336.96,633.40 L337.46,633.40 L337.96,633.40 L338.46,633.40 L338.97,633.40 L339.47,633.40 L339.97,633.40 L340.47,633.40 L340.97,633.40 L341.48,633.40 L341.98,633.40 L342.48,633.40 L342.98,633.40 L343.48,633.40 L343.98,633.40 L344.49,633.40 L344.99,633.40 L345.49,633.40 L345.99,633.40 L346.49,633.40 L346.99,633.40 L347.50,633.40 L348.00,633.40 L348.50,633.40 L348.50,633.40 L264.20,633.40 Z" fill="#f3d7ac" stroke="none" stroke-width="1" clip-path="url(#fclip3)" fill-opacity="0.85"/>
<path d="M264.20,633.32 L264.70,633.30 L265.20,633.27 L265.71,633.24 L266.21,633.21 L266.71,633.17 L267.21,633.11 L267.71,633.06 L268.21,632.99 L268.72,632.91 L269.22,632.82 L269.72,632.71 L270.22,632.60 L270.72,632.47 L271.22,631.71 L271.73,631.99 L272.23,632.09 L272.73,631.38 L273.23,631.58 L273.73,631.68 L274.24,630.79 L274.74,630.91 L275.24,630.79 L275.74,630.49 L276.24,630.56 L276.74,629.82 L277.25,629.05 L277.75,628.62 L278.25,628.79 L278.75,628.60 L279.25,628.25 L279.76,626.57 L280.26,626.59 L280.76,625.31 L281.26,624.60 L281.76,623.24 L282.26,622.49 L282.77,621.67 L283.27,620.25 L283.77,618.49 L284.27,617.16 L284.77,614.76 L285.27,612.86 L285.78,610.77 L286.28,608.96 L286.78,606.58 L287.28,605.78 L287.78,603.43 L288.29,601.28 L288.79,601.13 L289.29,599.84 L289.79,599.12 L290.29,597.65 L290.79,596.87 L291.30,597.84 L291.80,597.34 L292.30,598.27 L292.80,598.99 L293.30,600.20 L293.81,603.12 L294.31,605.00 L294.81,605.95 L295.31,608.23 L295.81,610.34 L296.31,612.65 L296.82,615.23 L297.32,616.69 L297.82,618.48 L298.32,621.10 L298.82,622.01 L299.32,623.26 L299.83,625.10 L300.33,627.00 L300.83,627.98 L301.33,628.48 L301.83,629.89 L302.34,630.22 L302.84,631.62 L303.34,631.09 L303.84,632.66 L304.34,631.98 L304.84,632.55 L305.35,632.76 L305.85,632.92 L306.35,633.04 L306.85,633.14 L307.35,633.21 L307.86,633.26 L308.36,633.30 L308.86,633.33 L309.36,633.35 L309.86,633.37 L310.36,633.38 L310.87,633.38 L311.37,633.39 L311.87,633.39 L312.37,633.40 L312.87,633.40 L313.38,633.40 L313.88,633.40 L314.38,633.40 L314.88,633.40 L315.38,633.40 L315.88,633.40 L316.39,633.40 L316.89,633.40 L317.39,633.40 L317.89,633.40 L318.39,633.40 L318.89,633.40 L319.40,633.40 L319.90,633.40 L320.40,633.40 L320.90,633.40 L321.40,633.40 L321.91,633.40 L322.41,633.40 L322.91,633.40 L323.41,633.40 L323.91,633.40 L324.41,633.40 L324.92,633.40 L325.42,633.40 L325.92,633.40 L326.42,633.40 L326.92,633.40 L327.43,633.40 L327.93,633.40 L328.43,633.40 L328.93,633.40 L329.43,633.40 L329.93,633.40 L330.44,633.40 L330.94,633.40 L331.44,633.40 L331.94,633.40 L332.44,633.40 L332.94,633.40 L333.45,633.40 L333.95,633.40 L334.45,633.40 L334.95,633.40 L335.45,633.40 L335.96,633.40 L336.46,633.40 L336.96,633.40 L337.46,633.40 L337.96,633.40 L338.46,633.40 L338.97,633.40 L339.47,633.40 L339.97,633.40 L340.47,633.40 L340.97,633.40 L341.48,633.40 L341.98,633.40 L342.48,633.40 L342.98,633.40 L343.48,633.40 L343.98,633.40 L344.49,633.40 L344.99,633.40 L345.49,633.40 L345.99,633.40 L346.49,633.40 L346.99,633.40 L347.50,633.40 L348.00,633.40 L348.50,633.40" fill="none" stroke="#e9a53f" stroke-width="1.0" clip-path="url(#fclip3)" stroke-linejoin="round"/>
<path d="M264.20,654.04 L264.70,654.00 L265.20,653.95 L265.71,653.89 L266.21,653.82 L266.71,653.73 L267.21,653.63 L267.71,653.51 L268.21,653.36 L268.72,653.33 L269.22,652.87 L269.72,652.26 L270.22,652.48 L270.72,652.30 L271.22,652.21 L271.73,651.39 L272.23,651.23 L272.73,650.75 L273.23,649.94 L273.73,649.95 L274.24,649.58 L274.74,648.91 L275.24,647.75 L275.74,647.72 L276.24,647.10 L276.74,646.17 L277.25,645.26 L277.75,643.63 L278.25,643.17 L278.75,642.73 L279.25,641.89 L279.76,640.51 L280.26,640.22 L280.76,638.92 L281.26,638.42 L281.76,637.05 L282.26,636.33 L282.77,635.30 L283.27,634.31 L283.77,633.97 L284.27,632.10 L284.77,631.12 L285.27,630.27 L285.78,629.20 L286.28,626.92 L286.78,625.81 L287.28,623.32 L287.78,622.37 L288.29,620.63 L288.79,619.04 L289.29,617.78 L289.79,615.80 L290.29,614.90 L290.79,615.15 L291.30,614.72 L291.80,615.83 L292.30,616.88 L292.80,618.09 L293.30,619.74 L293.81,620.88 L294.31,623.57 L294.81,625.24 L295.31,628.31 L295.81,629.22 L296.31,631.48 L296.82,633.42 L297.32,635.15 L297.82,636.74 L298.32,637.93 L298.82,639.63 L299.32,640.40 L299.83,641.57 L300.33,642.49 L300.83,643.43 L301.33,644.48 L301.83,645.83 L302.34,646.70 L302.84,646.85 L303.34,647.69 L303.84,648.92 L304.34,648.45 L304.84,649.23 L305.35,650.28 L305.85,650.92 L306.35,650.91 L306.85,651.57 L307.35,652.12 L307.86,652.64 L308.36,652.61 L308.86,652.74 L309.36,653.22 L309.86,653.21 L310.36,653.28 L310.87,653.43 L311.37,653.55 L311.87,653.66 L312.37,653.75 L312.87,653.83 L313.38,653.90 L313.88,653.95 L314.38,654.00 L314.88,654.04 L315.38,654.07 L315.88,654.09 L316.39,654.11 L316.89,654.13 L317.39,654.15 L317.89,654.16 L318.39,654.17 L318.89,654.17 L319.40,654.18 L319.90,654.18 L320.40,654.19 L320.90,654.19 L321.40,654.19 L321.91,654.19 L322.41,654.20 L322.91,654.20 L323.41,654.20 L323.91,654.20 L324.41,654.20 L324.92,654.20 L325.42,654.20 L325.92,654.20 L326.42,654.20 L326.92,654.20 L327.43,654.20 L327.93,654.20 L328.43,654.20 L328.93,654.20 L329.43,654.20 L329.93,654.20 L330.44,654.20 L330.94,654.20 L331.44,654.20 L331.94,654.20 L332.44,654.20 L332.94,654.20 L333.45,654.20 L333.95,654.20 L334.45,654.20 L334.95,654.20 L335.45,654.20 L335.96,654.20 L336.46,654.20 L336.96,654.20 L337.46,654.20 L337.96,654.20 L338.46,654.20 L338.97,654.20 L339.47,654.20 L339.97,654.20 L340.47,654.20 L340.97,654.20 L341.48,654.20 L341.98,654.20 L342.48,654.20 L342.98,654.20 L343.48,654.20 L343.98,654.20 L344.49,654.20 L344.99,654.20 L345.49,654.20 L345.99,654.20 L346.49,654.20 L346.99,654.20 L347.50,654.20 L348.00,654.20 L348.50,654.20 L348.50,654.20 L264.20,654.20 Z" fill="#d9a9a4" stroke="none" stroke-width="1" clip-path="url(#fclip3)" fill-opacity="0.85"/>
<path d="M264.20,654.04 L264.70,654.00 L265.20,653.95 L265.71,653.89 L266.21,653.82 L266.71,653.73 L267.21,653.63 L267.71,653.51 L268.21,653.36 L268.72,653.33 L269.22,652.87 L269.72,652.26 L270.22,652.48 L270.72,652.30 L271.22,652.21 L271.73,651.39 L272.23,651.23 L272.73,650.75 L273.23,649.94 L273.73,649.95 L274.24,649.58 L274.74,648.91 L275.24,647.75 L275.74,647.72 L276.24,647.10 L276.74,646.17 L277.25,645.26 L277.75,643.63 L278.25,643.17 L278.75,642.73 L279.25,641.89 L279.76,640.51 L280.26,640.22 L280.76,638.92 L281.26,638.42 L281.76,637.05 L282.26,636.33 L282.77,635.30 L283.27,634.31 L283.77,633.97 L284.27,632.10 L284.77,631.12 L285.27,630.27 L285.78,629.20 L286.28,626.92 L286.78,625.81 L287.28,623.32 L287.78,622.37 L288.29,620.63 L288.79,619.04 L289.29,617.78 L289.79,615.80 L290.29,614.90 L290.79,615.15 L291.30,614.72 L291.80,615.83 L292.30,616.88 L292.80,618.09 L293.30,619.74 L293.81,620.88 L294.31,623.57 L294.81,625.24 L295.31,628.31 L295.81,629.22 L296.31,631.48 L296.82,633.42 L297.32,635.15 L297.82,636.74 L298.32,637.93 L298.82,639.63 L299.32,640.40 L299.83,641.57 L300.33,642.49 L300.83,643.43 L301.33,644.48 L301.83,645.83 L302.34,646.70 L302.84,646.85 L303.34,647.69 L303.84,648.92 L304.34,648.45 L304.84,649.23 L305.35,650.28 L305.85,650.92 L306.35,650.91 L306.85,651.57 L307.35,652.12 L307.86,652.64 L308.36,652.61 L308.86,652.74 L309.36,653.22 L309.86,653.21 L310.36,653.28 L310.87,653.43 L311.37,653.55 L311.87,653.66 L312.37,653.75 L312.87,653.83 L313.38,653.90 L313.88,653.95 L314.38,654.00 L314.88,654.04 L315.38,654.07 L315.88,654.09 L316.39,654.11 L316.89,654.13 L317.39,654.15 L317.89,654.16 L318.39,654.17 L318.89,654.17 L319.40,654.18 L319.90,654.18 L320.40,654.19 L320.90,654.19 L321.40,654.19 L321.91,654.19 L322.41,654.20 L322.91,654.20 L323.41,654.20 L323.91,654.20 L324.41,654.20 L324.92,654.20 L325.42,654.20 L325.92,654.20 L326.42,654.20 L326.92,654.20 L327.43,654.20 L327.93,654.20 L328.43,654.20 L328.93,654.20 L329.43,654.20 L329.93,654.20 L330.44,654.20 L330.94,654.20 L331.44,654.20 L331.94,654.20 L332.44,654.20 L332.94,654.20 L333.45,654.20 L333.95,654.20 L334.45,654.20 L334.95,654.20 L335.45,654.20 L335.96,654.20 L336.46,654.20 L336.96,654.20 L337.46,654.20 L337.96,654.20 L338.46,654.20 L338.97,654.20 L339.47,654.20 L339.97,654.20 L340.47,654.20 L340.97,654.20 L341.48,654.20 L341.98,654.20 L342.48,654.20 L342.98,654.20 L343.48,654.20 L343.98,654.20 L344.49,654.20 L344.99,654.20 L345.49,654.20 L345.99,654.20 L346.49,654.20 L346.99,654.20 L347.50,654.20 L348.00,654.20 L348.50,654.20" fill="none" stroke="#c3304b" stroke-width="1.0" clip-path="url(#fclip3)" stroke-linejoin="round"/>
<path d="M264.20,674.65 L264.70,674.63 L265.20,674.61 L265.71,674.58 L266.21,674.55 L266.71,674.51 L267.21,674.45 L267.71,674.39 L268.21,674.31 L268.72,674.22 L269.22,674.11 L269.72,673.98 L270.22,673.84 L270.72,673.27 L271.22,673.65 L271.73,673.02 L272.23,673.32 L272.73,673.00 L273.23,672.15 L273.73,672.58 L274.24,671.63 L274.74,672.22 L275.24,671.74 L275.74,671.79 L276.24,671.40 L276.74,670.58 L277.25,670.34 L277.75,670.40 L278.25,670.30 L278.75,669.10 L279.25,669.50 L279.76,668.83 L280.26,668.02 L280.76,667.44 L281.26,667.43 L281.76,666.64 L282.26,666.06 L282.77,665.11 L283.27,664.13 L283.77,662.38 L284.27,661.57 L284.77,658.94 L285.27,657.67 L285.78,656.56 L286.28,653.86 L286.78,651.95 L287.28,649.95 L287.78,648.47 L288.29,646.39 L288.79,645.13 L289.29,643.21 L289.79,642.41 L290.29,641.05 L290.79,640.54 L291.30,640.22 L291.80,640.10 L292.30,640.71 L292.80,641.77 L293.30,643.54 L293.81,644.64 L294.31,646.07 L294.81,648.22 L295.31,649.71 L295.81,652.70 L296.31,654.65 L296.82,656.51 L297.32,659.20 L297.82,661.26 L298.32,662.28 L298.82,664.60 L299.32,666.18 L299.83,667.82 L300.33,669.24 L300.83,669.90 L301.33,670.37 L301.83,671.10 L302.34,672.65 L302.84,672.86 L303.34,673.70 L303.84,672.98 L304.34,673.80 L304.84,674.03 L305.35,674.20 L305.85,674.33 L306.35,674.43 L306.85,674.51 L307.35,674.56 L307.86,674.60 L308.36,674.63 L308.86,674.65 L309.36,674.67 L309.86,674.68 L310.36,674.69 L310.87,674.69 L311.37,674.69 L311.87,674.70 L312.37,674.70 L312.87,674.70 L313.38,674.70 L313.88,674.70 L314.38,674.70 L314.88,674.70 L315.38,674.70 L315.88,674.70 L316.39,674.70 L316.89,674.70 L317.39,674.70 L317.89,674.70 L318.39,674.70 L318.89,674.70 L319.40,674.70 L319.90,674.70 L320.40,674.70 L320.90,674.70 L321.40,674.70 L321.91,674.70 L322.41,674.70 L322.91,674.70 L323.41,674.70 L323.91,674.70 L324.41,674.70 L324.92,674.70 L325.42,674.70 L325.92,674.70 L326.42,674.70 L326.92,674.70 L327.43,674.70 L327.93,674.70 L328.43,674.70 L328.93,674.70 L329.43,674.70 L329.93,674.70 L330.44,674.70 L330.94,674.70 L331.44,674.70 L331.94,674.70 L332.44,674.70 L332.94,674.70 L333.45,674.70 L333.95,674.70 L334.45,674.70 L334.95,674.70 L335.45,674.70 L335.96,674.70 L336.46,674.70 L336.96,674.70 L337.46,674.70 L337.96,674.70 L338.46,674.70 L338.97,674.70 L339.47,674.70 L339.97,674.70 L340.47,674.70 L340.97,674.70 L341.48,674.70 L341.98,674.70 L342.48,674.70 L342.98,674.70 L343.48,674.70 L343.98,674.70 L344.49,674.70 L344.99,674.70 L345.49,674.70 L345.99,674.70 L346.49,674.70 L346.99,674.70 L347.50,674.70 L348.00,674.70 L348.50,674.70 L348.50,674.70 L264.20,674.70 Z" fill="#cfe1f4" stroke="none" stroke-width="1" clip-path="url(#fclip3)" fill-opacity="0.85"/>
<path d="M264.20,674.65 L264.70,674.63 L265.20,674.61 L265.71,674.58 L266.21,674.55 L266.71,674.51 L267.21,674.45 L267.71,674.39 L268.21,674.31 L268.72,674.22 L269.22,674.11 L269.72,673.98 L270.22,673.84 L270.72,673.27 L271.22,673.65 L271.73,673.02 L272.23,673.32 L272.73,673.00 L273.23,672.15 L273.73,672.58 L274.24,671.63 L274.74,672.22 L275.24,671.74 L275.74,671.79 L276.24,671.40 L276.74,670.58 L277.25,670.34 L277.75,670.40 L278.25,670.30 L278.75,669.10 L279.25,669.50 L279.76,668.83 L280.26,668.02 L280.76,667.44 L281.26,667.43 L281.76,666.64 L282.26,666.06 L282.77,665.11 L283.27,664.13 L283.77,662.38 L284.27,661.57 L284.77,658.94 L285.27,657.67 L285.78,656.56 L286.28,653.86 L286.78,651.95 L287.28,649.95 L287.78,648.47 L288.29,646.39 L288.79,645.13 L289.29,643.21 L289.79,642.41 L290.29,641.05 L290.79,640.54 L291.30,640.22 L291.80,640.10 L292.30,640.71 L292.80,641.77 L293.30,643.54 L293.81,644.64 L294.31,646.07 L294.81,648.22 L295.31,649.71 L295.81,652.70 L296.31,654.65 L296.82,656.51 L297.32,659.20 L297.82,661.26 L298.32,662.28 L298.82,664.60 L299.32,666.18 L299.83,667.82 L300.33,669.24 L300.83,669.90 L301.33,670.37 L301.83,671.10 L302.34,672.65 L302.84,672.86 L303.34,673.70 L303.84,672.98 L304.34,673.80 L304.84,674.03 L305.35,674.20 L305.85,674.33 L306.35,674.43 L306.85,674.51 L307.35,674.56 L307.86,674.60 L308.36,674.63 L308.86,674.65 L309.36,674.67 L309.86,674.68 L310.36,674.69 L310.87,674.69 L311.37,674.69 L311.87,674.70 L312.37,674.70 L312.87,674.70 L313.38,674.70 L313.88,674.70 L314.38,674.70 L314.88,674.70 L315.38,674.70 L315.88,674.70 L316.39,674.70 L316.89,674.70 L317.39,674.70 L317.89,674.70 L318.39,674.70 L318.89,674.70 L319.40,674.70 L319.90,674.70 L320.40,674.70 L320.90,674.70 L321.40,674.70 L321.91,674.70 L322.41,674.70 L322.91,674.70 L323.41,674.70 L323.91,674.70 L324.41,674.70 L324.92,674.70 L325.42,674.70 L325.92,674.70 L326.42,674.70 L326.92,674.70 L327.43,674.70 L327.93,674.70 L328.43,674.70 L328.93,674.70 L329.43,674.70 L329.93,674.70 L330.44,674.70 L330.94,674.70 L331.44,674.70 L331.94,674.70 L332.44,674.70 L332.94,674.70 L333.45,674.70 L333.95,674.70 L334.45,674.70 L334.95,674.70 L335.45,674.70 L335.96,674.70 L336.46,674.70 L336.96,674.70 L337.46,674.70 L337.96,674.70 L338.46,674.70 L338.97,674.70 L339.47,674.70 L339.97,674.70 L340.47,674.70 L340.97,674.70 L341.48,674.70 L341.98,674.70 L342.48,674.70 L342.98,674.70 L343.48,674.70 L343.98,674.70 L344.49,674.70 L344.99,674.70 L345.49,674.70 L345.99,674.70 L346.49,674.70 L346.99,674.70 L347.50,674.70 L348.00,674.70 L348.50,674.70" fill="none" stroke="#6dabe6" stroke-width="1.0" clip-path="url(#fclip3)" stroke-linejoin="round"/>
<line x1="308.10" y1="590.70" x2="308.10" y2="674.70" stroke="#222" stroke-width="1.0" stroke-dasharray="2.6,1.6"/>
<rect x="264.20" y="590.70" width="84.30" height="84.00" fill="none" stroke="#231f20" stroke-width="1.2"/>
<rect x="326.50" y="618.80" width="16.90" height="7.00" fill="#fff" stroke="#333" stroke-width="0.75"/>
<text x="334.95" y="623.90" font-size="5.9" text-anchor="middle" textLength="14.20" lengthAdjust="spacingAndGlyphs" stroke="#231f20" stroke-width="0.1">2.1 %</text>
<rect x="326.50" y="643.10" width="16.90" height="6.90" fill="#fff" stroke="#333" stroke-width="0.75"/>
<text x="334.95" y="648.10" font-size="5.9" text-anchor="middle" textLength="14.20" lengthAdjust="spacingAndGlyphs" stroke="#231f20" stroke-width="0.1">1.5 %</text>
<rect x="326.50" y="661.50" width="16.90" height="7.00" fill="#fff" stroke="#333" stroke-width="0.75"/>
<text x="334.95" y="666.60" font-size="5.9" text-anchor="middle" textLength="14.20" lengthAdjust="spacingAndGlyphs" stroke="#231f20" stroke-width="0.1">1.4 %</text>
<text x="296.10" y="585.80" font-size="6.7" textLength="20.70" lengthAdjust="spacingAndGlyphs" stroke="#231f20" stroke-width="0.1">DMSO</text>
<path d="M265.13,674.70v2.0M266.60,674.70v2.0M267.87,674.70v2.0M269.00,674.70v2.0M276.60,674.70v2.0M280.46,674.70v2.0M283.21,674.70v2.0M285.33,674.70v2.0M287.07,674.70v2.0M288.54,674.70v2.0M289.81,674.70v2.0M290.93,674.70v2.0M298.54,674.70v2.0M302.40,674.70v2.0M305.14,674.70v2.0M307.26,674.70v2.0M309.00,674.70v2.0M310.47,674.70v2.0M311.74,674.70v2.0M312.86,674.70v2.0M320.47,674.70v2.0M324.33,674.70v2.0M327.07,674.70v2.0M329.20,674.70v2.0M330.93,674.70v2.0M332.40,674.70v2.0M333.67,674.70v2.0M334.80,674.70v2.0M342.40,674.70v2.0M346.26,674.70v2.0" fill="none" stroke="#222" stroke-width="0.7" />
<line x1="270.00" y1="674.70" x2="270.00" y2="676.90" stroke="#333" stroke-width="0.7" />
<text x="270.30" y="686.00" font-size="7.0" text-anchor="middle" textLength="6.30" lengthAdjust="spacingAndGlyphs" stroke="#231f20" stroke-width="0.1">10</text>
<text x="273.60" y="683.20" font-size="4.6" textLength="2.60" lengthAdjust="spacingAndGlyphs" stroke="#231f20" stroke-width="0.1">2</text>
<line x1="291.90" y1="674.70" x2="291.90" y2="676.90" stroke="#333" stroke-width="0.7" />
<text x="292.20" y="686.00" font-size="7.0" text-anchor="middle" textLength="6.30" lengthAdjust="spacingAndGlyphs" stroke="#231f20" stroke-width="0.1">10</text>
<text x="295.50" y="683.20" font-size="4.6" textLength="2.60" lengthAdjust="spacingAndGlyphs" stroke="#231f20" stroke-width="0.1">3</text>
<line x1="314.50" y1="674.70" x2="314.50" y2="676.90" stroke="#333" stroke-width="0.7" />
<text x="314.80" y="686.00" font-size="7.0" text-anchor="middle" textLength="6.30" lengthAdjust="spacingAndGlyphs" stroke="#231f20" stroke-width="0.1">10</text>
<text x="318.10" y="683.20" font-size="4.6" textLength="2.60" lengthAdjust="spacingAndGlyphs" stroke="#231f20" stroke-width="0.1">4</text>
<line x1="335.80" y1="674.70" x2="335.80" y2="676.90" stroke="#333" stroke-width="0.7" />
<text x="336.10" y="686.00" font-size="7.0" text-anchor="middle" textLength="6.30" lengthAdjust="spacingAndGlyphs" stroke="#231f20" stroke-width="0.1">10</text>
<text x="339.40" y="683.20" font-size="4.6" textLength="2.60" lengthAdjust="spacingAndGlyphs" stroke="#231f20" stroke-width="0.1">5</text>
<text x="286.20" y="698.20" font-size="8.6" textLength="39.90" lengthAdjust="spacingAndGlyphs" stroke="#231f20" stroke-width="0.1">BAK G317_2</text>
<clipPath id="fclip4"><rect x="358.8" y="590.5" width="84.70" height="84.20"/></clipPath>
<path d="M358.80,633.06 L359.30,633.00 L359.80,632.93 L360.30,632.85 L360.80,632.76 L361.31,632.66 L361.81,632.55 L362.31,632.43 L362.81,632.25 L363.31,632.24 L363.81,632.50 L364.31,631.37 L364.81,631.90 L365.32,631.16 L365.82,631.82 L366.32,630.59 L366.82,631.40 L367.32,630.57 L367.82,630.65 L368.32,630.19 L368.82,630.46 L369.32,630.15 L369.83,629.42 L370.33,628.29 L370.83,628.59 L371.33,628.70 L371.83,628.20 L372.33,628.28 L372.83,627.35 L373.33,626.37 L373.84,627.08 L374.34,626.69 L374.84,626.55 L375.34,624.61 L375.84,625.47 L376.34,624.99 L376.84,623.81 L377.34,623.74 L377.84,622.56 L378.35,621.48 L378.85,621.67 L379.35,620.34 L379.85,619.80 L380.35,620.01 L380.85,619.66 L381.35,617.90 L381.85,617.00 L382.36,616.70 L382.86,614.43 L383.36,614.18 L383.86,611.35 L384.36,609.91 L384.86,608.47 L385.36,607.67 L385.86,605.29 L386.37,604.26 L386.87,604.06 L387.37,603.46 L387.87,603.87 L388.37,603.59 L388.87,605.39 L389.37,605.67 L389.87,608.72 L390.37,609.38 L390.88,611.34 L391.38,613.62 L391.88,616.02 L392.38,616.72 L392.88,619.48 L393.38,619.46 L393.88,621.24 L394.38,621.53 L394.89,622.45 L395.39,622.71 L395.89,622.75 L396.39,623.25 L396.89,623.52 L397.39,622.45 L397.89,623.56 L398.39,622.42 L398.89,623.18 L399.40,623.26 L399.90,622.50 L400.40,622.56 L400.90,621.56 L401.40,620.20 L401.90,619.08 L402.40,619.58 L402.90,617.75 L403.41,617.29 L403.91,615.21 L404.41,614.92 L404.91,613.75 L405.41,613.67 L405.91,614.30 L406.41,613.95 L406.91,613.85 L407.41,615.33 L407.92,614.84 L408.42,616.59 L408.92,617.72 L409.42,619.10 L409.92,622.14 L410.42,623.69 L410.92,624.56 L411.42,625.37 L411.93,627.81 L412.43,629.14 L412.93,629.66 L413.43,630.72 L413.93,630.95 L414.43,631.85 L414.93,632.55 L415.43,632.55 L415.93,632.80 L416.44,632.99 L416.94,633.12 L417.44,633.22 L417.94,633.28 L418.44,633.32 L418.94,633.35 L419.44,633.37 L419.94,633.38 L420.45,633.39 L420.95,633.39 L421.45,633.40 L421.95,633.40 L422.45,633.40 L422.95,633.40 L423.45,633.40 L423.95,633.40 L424.46,633.40 L424.96,633.40 L425.46,633.40 L425.96,633.40 L426.46,633.40 L426.96,633.40 L427.46,633.40 L427.96,633.40 L428.46,633.40 L428.97,633.40 L429.47,633.40 L429.97,633.40 L430.47,633.40 L430.97,633.40 L431.47,633.40 L431.97,633.40 L432.47,633.40 L432.98,633.40 L433.48,633.40 L433.98,633.40 L434.48,633.40 L434.98,633.40 L435.48,633.40 L435.98,633.40 L436.48,633.40 L436.98,633.40 L437.49,633.40 L437.99,633.40 L438.49,633.40 L438.99,633.40 L439.49,633.40 L439.99,633.40 L440.49,633.40 L440.99,633.40 L441.50,633.40 L442.00,633.40 L442.50,633.40 L443.00,633.40 L443.50,633.40 L443.50,633.40 L358.80,633.40 Z" fill="#f3d7ac" stroke="none" stroke-width="1" clip-path="url(#fclip4)" fill-opacity="0.85"/>
<path d="M358.80,633.06 L359.30,633.00 L359.80,632.93 L360.30,632.85 L360.80,632.76 L361.31,632.66 L361.81,632.55 L362.31,632.43 L362.81,632.25 L363.31,632.24 L363.81,632.50 L364.31,631.37 L364.81,631.90 L365.32,631.16 L365.82,631.82 L366.32,630.59 L366.82,631.40 L367.32,630.57 L367.82,630.65 L368.32,630.19 L368.82,630.46 L369.32,630.15 L369.83,629.42 L370.33,628.29 L370.83,628.59 L371.33,628.70 L371.83,628.20 L372.33,628.28 L372.83,627.35 L373.33,626.37 L373.84,627.08 L374.34,626.69 L374.84,626.55 L375.34,624.61 L375.84,625.47 L376.34,624.99 L376.84,623.81 L377.34,623.74 L377.84,622.56 L378.35,621.48 L378.85,621.67 L379.35,620.34 L379.85,619.80 L380.35,620.01 L380.85,619.66 L381.35,617.90 L381.85,617.00 L382.36,616.70 L382.86,614.43 L383.36,614.18 L383.86,611.35 L384.36,609.91 L384.86,608.47 L385.36,607.67 L385.86,605.29 L386.37,604.26 L386.87,604.06 L387.37,603.46 L387.87,603.87 L388.37,603.59 L388.87,605.39 L389.37,605.67 L389.87,608.72 L390.37,609.38 L390.88,611.34 L391.38,613.62 L391.88,616.02 L392.38,616.72 L392.88,619.48 L393.38,619.46 L393.88,621.24 L394.38,621.53 L394.89,622.45 L395.39,622.71 L395.89,622.75 L396.39,623.25 L396.89,623.52 L397.39,622.45 L397.89,623.56 L398.39,622.42 L398.89,623.18 L399.40,623.26 L399.90,622.50 L400.40,622.56 L400.90,621.56 L401.40,620.20 L401.90,619.08 L402.40,619.58 L402.90,617.75 L403.41,617.29 L403.91,615.21 L404.41,614.92 L404.91,613.75 L405.41,613.67 L405.91,614.30 L406.41,613.95 L406.91,613.85 L407.41,615.33 L407.92,614.84 L408.42,616.59 L408.92,617.72 L409.42,619.10 L409.92,622.14 L410.42,623.69 L410.92,624.56 L411.42,625.37 L411.93,627.81 L412.43,629.14 L412.93,629.66 L413.43,630.72 L413.93,630.95 L414.43,631.85 L414.93,632.55 L415.43,632.55 L415.93,632.80 L416.44,632.99 L416.94,633.12 L417.44,633.22 L417.94,633.28 L418.44,633.32 L418.94,633.35 L419.44,633.37 L419.94,633.38 L420.45,633.39 L420.95,633.39 L421.45,633.40 L421.95,633.40 L422.45,633.40 L422.95,633.40 L423.45,633.40 L423.95,633.40 L424.46,633.40 L424.96,633.40 L425.46,633.40 L425.96,633.40 L426.46,633.40 L426.96,633.40 L427.46,633.40 L427.96,633.40 L428.46,633.40 L428.97,633.40 L429.47,633.40 L429.97,633.40 L430.47,633.40 L430.97,633.40 L431.47,633.40 L431.97,633.40 L432.47,633.40 L432.98,633.40 L433.48,633.40 L433.98,633.40 L434.48,633.40 L434.98,633.40 L435.48,633.40 L435.98,633.40 L436.48,633.40 L436.98,633.40 L437.49,633.40 L437.99,633.40 L438.49,633.40 L438.99,633.40 L439.49,633.40 L439.99,633.40 L440.49,633.40 L440.99,633.40 L441.50,633.40 L442.00,633.40 L442.50,633.40 L443.00,633.40 L443.50,633.40" fill="none" stroke="#e9a53f" stroke-width="1.0" clip-path="url(#fclip4)" stroke-linejoin="round"/>
<path d="M358.80,653.51 L359.30,653.41 L359.80,653.30 L360.30,652.93 L360.80,652.61 L361.31,652.57 L361.81,653.21 L362.31,652.17 L362.81,652.63 L363.31,651.81 L363.81,651.42 L364.31,651.50 L364.81,651.14 L365.32,650.99 L365.82,651.04 L366.32,650.26 L366.82,651.03 L367.32,650.64 L367.82,650.24 L368.32,649.99 L368.82,648.94 L369.32,648.43 L369.83,648.35 L370.33,648.36 L370.83,647.64 L371.33,647.37 L371.83,646.48 L372.33,646.12 L372.83,646.37 L373.33,645.29 L373.84,645.84 L374.34,645.58 L374.84,644.31 L375.34,644.46 L375.84,643.78 L376.34,643.05 L376.84,642.25 L377.34,641.37 L377.84,641.54 L378.35,639.58 L378.85,638.48 L379.35,638.00 L379.85,635.60 L380.35,634.26 L380.85,632.35 L381.35,631.21 L381.85,628.27 L382.36,627.19 L382.86,624.89 L383.36,622.91 L383.86,622.61 L384.36,620.66 L384.86,620.90 L385.36,621.14 L385.86,620.50 L386.37,621.64 L386.87,623.82 L387.37,624.80 L387.87,627.45 L388.37,629.66 L388.87,631.77 L389.37,634.34 L389.87,635.65 L390.37,638.63 L390.88,640.06 L391.38,641.86 L391.88,643.04 L392.38,644.06 L392.88,644.59 L393.38,645.66 L393.88,646.62 L394.38,646.78 L394.89,646.69 L395.39,646.52 L395.89,647.45 L396.39,647.07 L396.89,647.25 L397.39,647.26 L397.89,646.91 L398.39,646.96 L398.89,647.49 L399.40,646.61 L399.90,646.62 L400.40,647.10 L400.90,646.35 L401.40,646.69 L401.90,645.75 L402.40,645.88 L402.90,645.87 L403.41,644.92 L403.91,644.18 L404.41,644.64 L404.91,643.59 L405.41,643.73 L405.91,643.63 L406.41,644.35 L406.91,643.83 L407.41,644.70 L407.92,644.38 L408.42,645.80 L408.92,646.29 L409.42,647.10 L409.92,647.53 L410.42,647.55 L410.92,649.22 L411.42,649.85 L411.93,649.94 L412.43,650.44 L412.93,651.32 L413.43,652.06 L413.93,652.23 L414.43,652.26 L414.93,652.38 L415.43,653.21 L415.93,653.44 L416.44,653.62 L416.94,653.77 L417.44,653.88 L417.94,653.97 L418.44,654.03 L418.94,654.08 L419.44,654.12 L419.94,654.14 L420.45,654.16 L420.95,654.17 L421.45,654.18 L421.95,654.19 L422.45,654.19 L422.95,654.20 L423.45,654.20 L423.95,654.20 L424.46,654.20 L424.96,654.20 L425.46,654.20 L425.96,654.20 L426.46,654.20 L426.96,654.20 L427.46,654.20 L427.96,654.20 L428.46,654.20 L428.97,654.20 L429.47,654.20 L429.97,654.20 L430.47,654.20 L430.97,654.20 L431.47,654.20 L431.97,654.20 L432.47,654.20 L432.98,654.20 L433.48,654.20 L433.98,654.20 L434.48,654.20 L434.98,654.20 L435.48,654.20 L435.98,654.20 L436.48,654.20 L436.98,654.20 L437.49,654.20 L437.99,654.20 L438.49,654.20 L438.99,654.20 L439.49,654.20 L439.99,654.20 L440.49,654.20 L440.99,654.20 L441.50,654.20 L442.00,654.20 L442.50,654.20 L443.00,654.20 L443.50,654.20 L443.50,654.20 L358.80,654.20 Z" fill="#d9a9a4" stroke="none" stroke-width="1" clip-path="url(#fclip4)" fill-opacity="0.85"/>
<path d="M358.80,653.51 L359.30,653.41 L359.80,653.30 L360.30,652.93 L360.80,652.61 L361.31,652.57 L361.81,653.21 L362.31,652.17 L362.81,652.63 L363.31,651.81 L363.81,651.42 L364.31,651.50 L364.81,651.14 L365.32,650.99 L365.82,651.04 L366.32,650.26 L366.82,651.03 L367.32,650.64 L367.82,650.24 L368.32,649.99 L368.82,648.94 L369.32,648.43 L369.83,648.35 L370.33,648.36 L370.83,647.64 L371.33,647.37 L371.83,646.48 L372.33,646.12 L372.83,646.37 L373.33,645.29 L373.84,645.84 L374.34,645.58 L374.84,644.31 L375.34,644.46 L375.84,643.78 L376.34,643.05 L376.84,642.25 L377.34,641.37 L377.84,641.54 L378.35,639.58 L378.85,638.48 L379.35,638.00 L379.85,635.60 L380.35,634.26 L380.85,632.35 L381.35,631.21 L381.85,628.27 L382.36,627.19 L382.86,624.89 L383.36,622.91 L383.86,622.61 L384.36,620.66 L384.86,620.90 L385.36,621.14 L385.86,620.50 L386.37,621.64 L386.87,623.82 L387.37,624.80 L387.87,627.45 L388.37,629.66 L388.87,631.77 L389.37,634.34 L389.87,635.65 L390.37,638.63 L390.88,640.06 L391.38,641.86 L391.88,643.04 L392.38,644.06 L392.88,644.59 L393.38,645.66 L393.88,646.62 L394.38,646.78 L394.89,646.69 L395.39,646.52 L395.89,647.45 L396.39,647.07 L396.89,647.25 L397.39,647.26 L397.89,646.91 L398.39,646.96 L398.89,647.49 L399.40,646.61 L399.90,646.62 L400.40,647.10 L400.90,646.35 L401.40,646.69 L401.90,645.75 L402.40,645.88 L402.90,645.87 L403.41,644.92 L403.91,644.18 L404.41,644.64 L404.91,643.59 L405.41,643.73 L405.91,643.63 L406.41,644.35 L406.91,643.83 L407.41,644.70 L407.92,644.38 L408.42,645.80 L408.92,646.29 L409.42,647.10 L409.92,647.53 L410.42,647.55 L410.92,649.22 L411.42,649.85 L411.93,649.94 L412.43,650.44 L412.93,651.32 L413.43,652.06 L413.93,652.23 L414.43,652.26 L414.93,652.38 L415.43,653.21 L415.93,653.44 L416.44,653.62 L416.94,653.77 L417.44,653.88 L417.94,653.97 L418.44,654.03 L418.94,654.08 L419.44,654.12 L419.94,654.14 L420.45,654.16 L420.95,654.17 L421.45,654.18 L421.95,654.19 L422.45,654.19 L422.95,654.20 L423.45,654.20 L423.95,654.20 L424.46,654.20 L424.96,654.20 L425.46,654.20 L425.96,654.20 L426.46,654.20 L426.96,654.20 L427.46,654.20 L427.96,654.20 L428.46,654.20 L428.97,654.20 L429.47,654.20 L429.97,654.20 L430.47,654.20 L430.97,654.20 L431.47,654.20 L431.97,654.20 L432.47,654.20 L432.98,654.20 L433.48,654.20 L433.98,654.20 L434.48,654.20 L434.98,654.20 L435.48,654.20 L435.98,654.20 L436.48,654.20 L436.98,654.20 L437.49,654.20 L437.99,654.20 L438.49,654.20 L438.99,654.20 L439.49,654.20 L439.99,654.20 L440.49,654.20 L440.99,654.20 L441.50,654.20 L442.00,654.20 L442.50,654.20 L443.00,654.20 L443.50,654.20" fill="none" stroke="#c3304b" stroke-width="1.0" clip-path="url(#fclip4)" stroke-linejoin="round"/>
<path d="M358.80,673.89 L359.30,673.77 L359.80,673.32 L360.30,674.03 L360.80,673.58 L361.31,673.45 L361.81,672.69 L362.31,672.41 L362.81,672.11 L363.31,672.44 L363.81,672.84 L364.31,672.50 L364.81,671.73 L365.32,671.10 L365.82,671.26 L366.32,670.87 L366.82,671.12 L367.32,670.66 L367.82,671.10 L368.32,669.80 L368.82,669.78 L369.32,670.36 L369.83,669.23 L370.33,669.39 L370.83,668.85 L371.33,669.12 L371.83,668.22 L372.33,667.66 L372.83,667.88 L373.33,667.40 L373.84,666.85 L374.34,666.73 L374.84,666.30 L375.34,666.68 L375.84,666.32 L376.34,664.80 L376.84,665.37 L377.34,664.46 L377.84,662.84 L378.35,661.59 L378.85,660.37 L379.35,659.14 L379.85,658.41 L380.35,655.66 L380.85,654.50 L381.35,652.19 L381.85,649.34 L382.36,647.09 L382.86,645.05 L383.36,641.94 L383.86,639.90 L384.36,638.70 L384.86,637.70 L385.36,636.73 L385.86,635.94 L386.37,635.49 L386.87,636.43 L387.37,637.52 L387.87,638.70 L388.37,641.23 L388.87,642.85 L389.37,645.33 L389.87,648.72 L390.37,650.65 L390.88,652.86 L391.38,655.42 L391.88,657.65 L392.38,659.41 L392.88,661.23 L393.38,662.66 L393.88,664.83 L394.38,665.98 L394.89,665.76 L395.39,666.57 L395.89,667.45 L396.39,667.52 L396.89,667.68 L397.39,668.53 L397.89,668.70 L398.39,667.97 L398.89,668.78 L399.40,668.85 L399.90,669.07 L400.40,668.16 L400.90,668.86 L401.40,669.16 L401.90,669.10 L402.40,669.13 L402.90,669.00 L403.41,669.32 L403.91,669.18 L404.41,669.34 L404.91,669.33 L405.41,669.53 L405.91,670.16 L406.41,669.77 L406.91,670.55 L407.41,670.26 L407.92,670.48 L408.42,671.01 L408.92,671.15 L409.42,672.14 L409.92,671.79 L410.42,672.80 L410.92,672.55 L411.42,672.67 L411.93,673.63 L412.43,673.31 L412.93,673.47 L413.43,673.85 L413.93,674.00 L414.43,674.13 L414.93,674.24 L415.43,674.33 L415.93,674.41 L416.44,674.47 L416.94,674.52 L417.44,674.56 L417.94,674.60 L418.44,674.62 L418.94,674.64 L419.44,674.66 L419.94,674.67 L420.45,674.68 L420.95,674.68 L421.45,674.69 L421.95,674.69 L422.45,674.69 L422.95,674.70 L423.45,674.70 L423.95,674.70 L424.46,674.70 L424.96,674.70 L425.46,674.70 L425.96,674.70 L426.46,674.70 L426.96,674.70 L427.46,674.70 L427.96,674.70 L428.46,674.70 L428.97,674.70 L429.47,674.70 L429.97,674.70 L430.47,674.70 L430.97,674.70 L431.47,674.70 L431.97,674.70 L432.47,674.70 L432.98,674.70 L433.48,674.70 L433.98,674.70 L434.48,674.70 L434.98,674.70 L435.48,674.70 L435.98,674.70 L436.48,674.70 L436.98,674.70 L437.49,674.70 L437.99,674.70 L438.49,674.70 L438.99,674.70 L439.49,674.70 L439.99,674.70 L440.49,674.70 L440.99,674.70 L441.50,674.70 L442.00,674.70 L442.50,674.70 L443.00,674.70 L443.50,674.70 L443.50,674.70 L358.80,674.70 Z" fill="#cfe1f4" stroke="none" stroke-width="1" clip-path="url(#fclip4)" fill-opacity="0.85"/>
<path d="M358.80,673.89 L359.30,673.77 L359.80,673.32 L360.30,674.03 L360.80,673.58 L361.31,673.45 L361.81,672.69 L362.31,672.41 L362.81,672.11 L363.31,672.44 L363.81,672.84 L364.31,672.50 L364.81,671.73 L365.32,671.10 L365.82,671.26 L366.32,670.87 L366.82,671.12 L367.32,670.66 L367.82,671.10 L368.32,669.80 L368.82,669.78 L369.32,670.36 L369.83,669.23 L370.33,669.39 L370.83,668.85 L371.33,669.12 L371.83,668.22 L372.33,667.66 L372.83,667.88 L373.33,667.40 L373.84,666.85 L374.34,666.73 L374.84,666.30 L375.34,666.68 L375.84,666.32 L376.34,664.80 L376.84,665.37 L377.34,664.46 L377.84,662.84 L378.35,661.59 L378.85,660.37 L379.35,659.14 L379.85,658.41 L380.35,655.66 L380.85,654.50 L381.35,652.19 L381.85,649.34 L382.36,647.09 L382.86,645.05 L383.36,641.94 L383.86,639.90 L384.36,638.70 L384.86,637.70 L385.36,636.73 L385.86,635.94 L386.37,635.49 L386.87,636.43 L387.37,637.52 L387.87,638.70 L388.37,641.23 L388.87,642.85 L389.37,645.33 L389.87,648.72 L390.37,650.65 L390.88,652.86 L391.38,655.42 L391.88,657.65 L392.38,659.41 L392.88,661.23 L393.38,662.66 L393.88,664.83 L394.38,665.98 L394.89,665.76 L395.39,666.57 L395.89,667.45 L396.39,667.52 L396.89,667.68 L397.39,668.53 L397.89,668.70 L398.39,667.97 L398.89,668.78 L399.40,668.85 L399.90,669.07 L400.40,668.16 L400.90,668.86 L401.40,669.16 L401.90,669.10 L402.40,669.13 L402.90,669.00 L403.41,669.32 L403.91,669.18 L404.41,669.34 L404.91,669.33 L405.41,669.53 L405.91,670.16 L406.41,669.77 L406.91,670.55 L407.41,670.26 L407.92,670.48 L408.42,671.01 L408.92,671.15 L409.42,672.14 L409.92,671.79 L410.42,672.80 L410.92,672.55 L411.42,672.67 L411.93,673.63 L412.43,673.31 L412.93,673.47 L413.43,673.85 L413.93,674.00 L414.43,674.13 L414.93,674.24 L415.43,674.33 L415.93,674.41 L416.44,674.47 L416.94,674.52 L417.44,674.56 L417.94,674.60 L418.44,674.62 L418.94,674.64 L419.44,674.66 L419.94,674.67 L420.45,674.68 L420.95,674.68 L421.45,674.69 L421.95,674.69 L422.45,674.69 L422.95,674.70 L423.45,674.70 L423.95,674.70 L424.46,674.70 L424.96,674.70 L425.46,674.70 L425.96,674.70 L426.46,674.70 L426.96,674.70 L427.46,674.70 L427.96,674.70 L428.46,674.70 L428.97,674.70 L429.47,674.70 L429.97,674.70 L430.47,674.70 L430.97,674.70 L431.47,674.70 L431.97,674.70 L432.47,674.70 L432.98,674.70 L433.48,674.70 L433.98,674.70 L434.48,674.70 L434.98,674.70 L435.48,674.70 L435.98,674.70 L436.48,674.70 L436.98,674.70 L437.49,674.70 L437.99,674.70 L438.49,674.70 L438.99,674.70 L439.49,674.70 L439.99,674.70 L440.49,674.70 L440.99,674.70 L441.50,674.70 L442.00,674.70 L442.50,674.70 L443.00,674.70 L443.50,674.70" fill="none" stroke="#6dabe6" stroke-width="1.0" clip-path="url(#fclip4)" stroke-linejoin="round"/>
<line x1="397.30" y1="590.50" x2="397.30" y2="674.70" stroke="#222" stroke-width="1.0" stroke-dasharray="2.6,1.6"/>
<rect x="358.80" y="590.50" width="84.70" height="84.20" fill="none" stroke="#231f20" stroke-width="1.2"/>
<rect x="418.50" y="615.80" width="19.70" height="7.00" fill="#fff" stroke="#333" stroke-width="0.75"/>
<text x="428.35" y="620.90" font-size="5.9" text-anchor="middle" textLength="16.55" lengthAdjust="spacingAndGlyphs" stroke="#231f20" stroke-width="0.1">33.5 %</text>
<rect x="418.50" y="639.60" width="19.70" height="6.90" fill="#fff" stroke="#333" stroke-width="0.75"/>
<text x="428.35" y="644.60" font-size="5.9" text-anchor="middle" textLength="16.55" lengthAdjust="spacingAndGlyphs" stroke="#231f20" stroke-width="0.1">20.3 %</text>
<rect x="418.50" y="659.20" width="19.70" height="7.40" fill="#fff" stroke="#333" stroke-width="0.75"/>
<text x="428.35" y="664.70" font-size="5.9" text-anchor="middle" textLength="16.55" lengthAdjust="spacingAndGlyphs" stroke="#231f20" stroke-width="0.1">14.5 %</text>
<text x="389.70" y="585.80" font-size="6.7" textLength="22.10" lengthAdjust="spacingAndGlyphs" stroke="#231f20" stroke-width="0.1">MCL1-i</text>
<path d="M360.19,674.70v2.0M361.64,674.70v2.0M362.90,674.70v2.0M364.01,674.70v2.0M371.53,674.70v2.0M375.35,674.70v2.0M378.06,674.70v2.0M380.17,674.70v2.0M381.89,674.70v2.0M383.34,674.70v2.0M384.60,674.70v2.0M385.71,674.70v2.0M393.23,674.70v2.0M397.05,674.70v2.0M399.76,674.70v2.0M401.87,674.70v2.0M403.59,674.70v2.0M405.04,674.70v2.0M406.30,674.70v2.0M407.41,674.70v2.0M414.93,674.70v2.0M418.75,674.70v2.0M421.46,674.70v2.0M423.57,674.70v2.0M425.29,674.70v2.0M426.74,674.70v2.0M428.00,674.70v2.0M429.11,674.70v2.0M436.63,674.70v2.0M440.45,674.70v2.0" fill="none" stroke="#222" stroke-width="0.7" />
<line x1="365.00" y1="674.70" x2="365.00" y2="676.90" stroke="#333" stroke-width="0.7" />
<text x="365.30" y="686.00" font-size="7.0" text-anchor="middle" textLength="6.30" lengthAdjust="spacingAndGlyphs" stroke="#231f20" stroke-width="0.1">10</text>
<text x="368.60" y="683.20" font-size="4.6" textLength="2.60" lengthAdjust="spacingAndGlyphs" stroke="#231f20" stroke-width="0.1">2</text>
<line x1="386.90" y1="674.70" x2="386.90" y2="676.90" stroke="#333" stroke-width="0.7" />
<text x="387.20" y="686.00" font-size="7.0" text-anchor="middle" textLength="6.30" lengthAdjust="spacingAndGlyphs" stroke="#231f20" stroke-width="0.1">10</text>
<text x="390.50" y="683.20" font-size="4.6" textLength="2.60" lengthAdjust="spacingAndGlyphs" stroke="#231f20" stroke-width="0.1">3</text>
<line x1="408.80" y1="674.70" x2="408.80" y2="676.90" stroke="#333" stroke-width="0.7" />
<text x="409.10" y="686.00" font-size="7.0" text-anchor="middle" textLength="6.30" lengthAdjust="spacingAndGlyphs" stroke="#231f20" stroke-width="0.1">10</text>
<text x="412.40" y="683.20" font-size="4.6" textLength="2.60" lengthAdjust="spacingAndGlyphs" stroke="#231f20" stroke-width="0.1">4</text>
<line x1="430.10" y1="674.70" x2="430.10" y2="676.90" stroke="#333" stroke-width="0.7" />
<text x="430.40" y="686.00" font-size="7.0" text-anchor="middle" textLength="6.30" lengthAdjust="spacingAndGlyphs" stroke="#231f20" stroke-width="0.1">10</text>
<text x="433.70" y="683.20" font-size="4.6" textLength="2.60" lengthAdjust="spacingAndGlyphs" stroke="#231f20" stroke-width="0.1">5</text>
<text x="380.70" y="698.20" font-size="8.6" textLength="40.40" lengthAdjust="spacingAndGlyphs" stroke="#231f20" stroke-width="0.1">BAK G317_2</text>
<text x="39.70" y="628.80" font-size="6.6" font-style="italic" textLength="16.00" lengthAdjust="spacingAndGlyphs" stroke="#231f20" stroke-width="0.1">Trp53</text>
<text x="58.40" y="628.80" font-size="6.6" textLength="10.00" lengthAdjust="spacingAndGlyphs" stroke="#231f20" stroke-width="0.1">WT</text>
<text x="39.70" y="648.00" font-size="6.6" font-style="italic" textLength="16.00" lengthAdjust="spacingAndGlyphs" stroke="#231f20" stroke-width="0.1">Trp53</text>
<text x="58.40" y="648.00" font-size="6.6" textLength="10.20" lengthAdjust="spacingAndGlyphs" stroke="#231f20" stroke-width="0.1">KO</text>
<text x="8.00" y="668.00" font-size="6.6" font-style="italic" textLength="49.20" lengthAdjust="spacingAndGlyphs" stroke="#231f20" stroke-width="0.1">Noxa/Puma/Bim</text>
<text x="58.40" y="668.00" font-size="6.6" textLength="10.20" lengthAdjust="spacingAndGlyphs" stroke="#231f20" stroke-width="0.1">KO</text>
</g>
</svg>
</body></html>
